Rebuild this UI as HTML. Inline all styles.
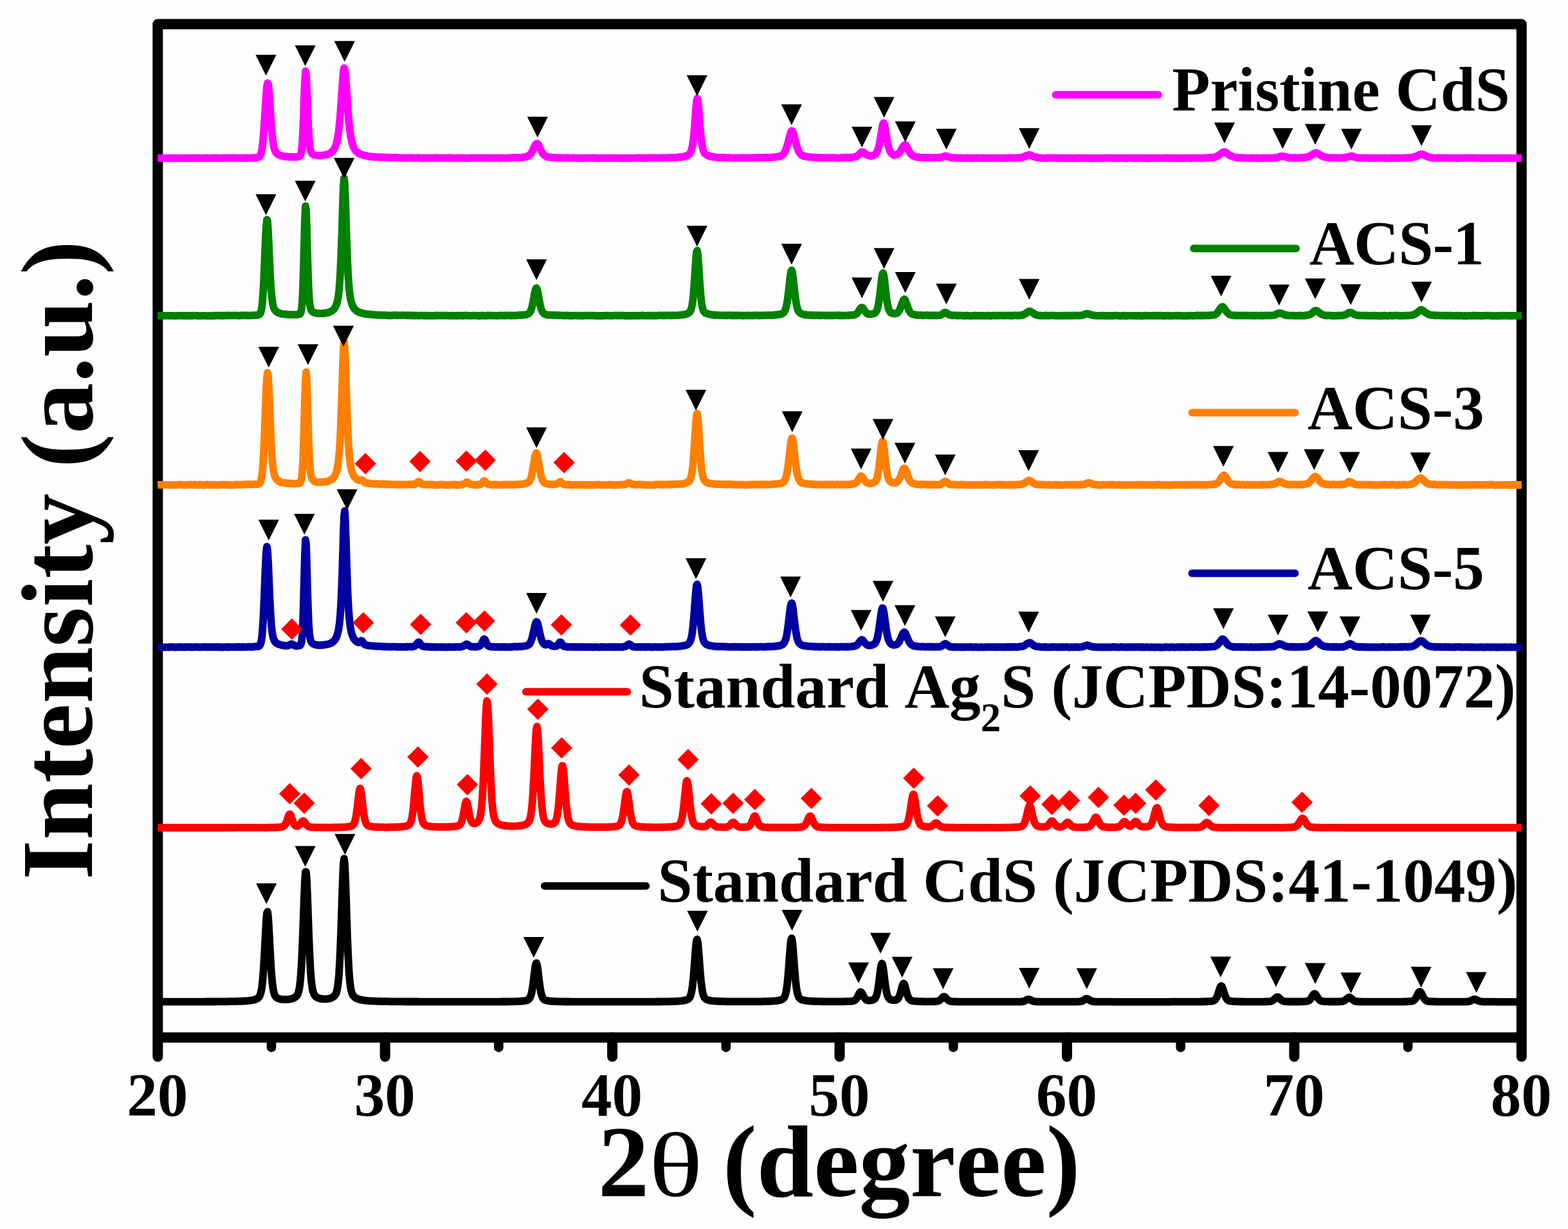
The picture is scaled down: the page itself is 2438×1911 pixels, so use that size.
<!DOCTYPE html>
<html lang="en"><head><meta charset="utf-8"><title>XRD patterns</title>
<style>html,body{margin:0;padding:0;background:#fff;}body{width:2438px;height:1911px;overflow:hidden;}svg{display:block;}text{font-family:"Liberation Serif","DejaVu Serif",serif;font-weight:bold;font-kerning:none;fill:#000;}</style></head><body>
<svg width="2438" height="1911" viewBox="0 0 2438 1911">
<rect x="0" y="0" width="2438" height="1911" fill="#fefefe"/>
<g fill="none" stroke="#000" stroke-width="16.0" stroke-linecap="round" stroke-linejoin="round">
<path d="M245.3,1643.0 L245.3,37.6 L2365.8,37.6 L2365.8,1643.0"/>
<path d="M245.3,1613.3 L2365.8,1613.3" stroke-linecap="butt"/>
<path d="M598.7,1613.3 L598.7,1643.0"/>
<path d="M952.1,1613.3 L952.1,1643.0"/>
<path d="M1305.5,1613.3 L1305.5,1643.0"/>
<path d="M1659.0,1613.3 L1659.0,1643.0"/>
<path d="M2012.4,1613.3 L2012.4,1643.0"/>
</g>
<g fill="none" stroke="#000" stroke-width="14.6" stroke-linecap="round">
<path d="M422.0,1613.3 L422.0,1628.7"/>
<path d="M775.4,1613.3 L775.4,1628.7"/>
<path d="M1128.8,1613.3 L1128.8,1628.7"/>
<path d="M1482.3,1613.3 L1482.3,1628.7"/>
<path d="M1835.7,1613.3 L1835.7,1628.7"/>
<path d="M2189.1,1613.3 L2189.1,1628.7"/>
</g>
<path d="M245,1557.7 L246,1557.7 L247,1557.7 L248,1557.7 L249,1557.7 L250,1557.7 L251,1557.7 L252,1557.7 L253,1557.7 L254,1557.7 L255,1557.7 L256,1557.7 L257,1557.7 L258,1557.7 L259,1557.7 L260,1557.7 L261,1557.7 L262,1557.7 L263,1557.7 L264,1557.7 L265,1557.7 L266,1557.7 L267,1557.7 L268,1557.7 L269,1557.7 L270,1557.7 L271,1557.7 L272,1557.7 L273,1557.7 L274,1557.7 L275,1557.7 L276,1557.7 L277,1557.7 L278,1557.7 L279,1557.7 L280,1557.7 L281,1557.7 L282,1557.6 L283,1557.6 L284,1557.6 L285,1557.6 L286,1557.6 L287,1557.6 L288,1557.6 L289,1557.6 L290,1557.6 L291,1557.6 L292,1557.6 L293,1557.6 L294,1557.6 L295,1557.6 L296,1557.6 L297,1557.6 L298,1557.6 L299,1557.6 L300,1557.6 L301,1557.6 L302,1557.6 L303,1557.6 L304,1557.6 L305,1557.6 L306,1557.6 L307,1557.6 L308,1557.6 L309,1557.6 L310,1557.6 L311,1557.6 L312,1557.6 L313,1557.6 L314,1557.6 L315,1557.6 L316,1557.6 L317,1557.6 L318,1557.6 L319,1557.5 L320,1557.5 L321,1557.5 L322,1557.5 L323,1557.5 L324,1557.5 L325,1557.5 L326,1557.5 L327,1557.5 L328,1557.5 L329,1557.5 L330,1557.5 L331,1557.5 L332,1557.5 L333,1557.5 L334,1557.5 L335,1557.5 L336,1557.5 L337,1557.5 L338,1557.4 L339,1557.4 L340,1557.4 L341,1557.4 L342,1557.4 L343,1557.4 L344,1557.4 L345,1557.4 L346,1557.4 L347,1557.4 L348,1557.4 L349,1557.3 L350,1557.3 L351,1557.3 L352,1557.3 L353,1557.3 L354,1557.3 L355,1557.3 L356,1557.3 L357,1557.2 L358,1557.2 L359,1557.2 L360,1557.2 L361,1557.2 L362,1557.2 L363,1557.1 L364,1557.1 L365,1557.1 L366,1557.1 L367,1557.0 L368,1557.0 L369,1557.0 L370,1557.0 L371,1556.9 L372,1556.9 L373,1556.9 L374,1556.8 L375,1556.8 L376,1556.7 L377,1556.7 L378,1556.7 L379,1556.6 L380,1556.5 L381,1556.5 L382,1556.4 L383,1556.3 L384,1556.3 L385,1556.2 L386,1556.1 L387,1556.0 L388,1555.9 L389,1555.7 L390,1555.6 L391,1555.5 L392,1555.3 L393,1555.1 L394,1554.9 L395,1554.6 L396,1554.3 L397,1554.0 L398,1553.6 L399,1553.2 L400,1552.6 L401,1552.0 L402,1551.1 L403,1549.9 L404,1548.1 L405,1545.6 L406,1541.8 L407,1536.2 L408,1528.2 L409,1517.4 L410,1503.3 L411,1486.3 L412,1467.2 L413,1447.7 L414,1430.7 L415,1419.6 L416,1417.6 L417,1425.3 L418,1440.3 L419,1459.2 L420,1478.7 L421,1496.6 L422,1511.9 L423,1524.0 L424,1533.0 L425,1539.4 L426,1543.8 L427,1546.8 L428,1548.7 L429,1550.1 L430,1551.0 L431,1551.7 L432,1552.2 L433,1552.7 L434,1553.0 L435,1553.3 L436,1553.5 L437,1553.7 L438,1553.9 L439,1554.0 L440,1554.1 L441,1554.2 L442,1554.2 L443,1554.2 L444,1554.2 L445,1554.2 L446,1554.2 L447,1554.1 L448,1554.0 L449,1553.9 L450,1553.7 L451,1553.6 L452,1553.4 L453,1553.1 L454,1552.9 L455,1552.5 L456,1552.2 L457,1551.7 L458,1551.2 L459,1550.5 L460,1549.8 L461,1548.8 L462,1547.4 L463,1545.6 L464,1542.9 L465,1539.0 L466,1533.0 L467,1524.3 L468,1512.0 L469,1495.4 L470,1474.1 L471,1448.7 L472,1420.7 L473,1392.8 L474,1369.4 L475,1355.7 L476,1355.7 L477,1369.4 L478,1392.8 L479,1420.6 L480,1448.7 L481,1474.0 L482,1495.3 L483,1511.9 L484,1524.2 L485,1532.9 L486,1538.8 L487,1542.8 L488,1545.4 L489,1547.2 L490,1548.5 L491,1549.5 L492,1550.3 L493,1550.9 L494,1551.4 L495,1551.8 L496,1552.2 L497,1552.5 L498,1552.7 L499,1552.9 L500,1553.1 L501,1553.2 L502,1553.3 L503,1553.4 L504,1553.4 L505,1553.4 L506,1553.4 L507,1553.4 L508,1553.3 L509,1553.2 L510,1553.0 L511,1552.9 L512,1552.7 L513,1552.4 L514,1552.1 L515,1551.8 L516,1551.3 L517,1550.8 L518,1550.2 L519,1549.5 L520,1548.5 L521,1547.3 L522,1545.6 L523,1543.3 L524,1539.7 L525,1534.4 L526,1526.6 L527,1515.2 L528,1499.5 L529,1478.8 L530,1453.2 L531,1423.7 L532,1392.6 L533,1363.9 L534,1343.0 L535,1335.2 L536,1343.0 L537,1364.0 L538,1392.7 L539,1423.8 L540,1453.4 L541,1479.0 L542,1499.7 L543,1515.5 L544,1526.9 L545,1534.8 L546,1540.2 L547,1543.7 L548,1546.2 L549,1547.9 L550,1549.2 L551,1550.2 L552,1551.0 L553,1551.6 L554,1552.2 L555,1552.7 L556,1553.1 L557,1553.5 L558,1553.8 L559,1554.1 L560,1554.4 L561,1554.6 L562,1554.8 L563,1555.0 L564,1555.2 L565,1555.3 L566,1555.5 L567,1555.6 L568,1555.7 L569,1555.8 L570,1555.9 L571,1556.0 L572,1556.1 L573,1556.2 L574,1556.3 L575,1556.3 L576,1556.4 L577,1556.4 L578,1556.5 L579,1556.6 L580,1556.6 L581,1556.6 L582,1556.7 L583,1556.7 L584,1556.8 L585,1556.8 L586,1556.8 L587,1556.9 L588,1556.9 L589,1556.9 L590,1557.0 L591,1557.0 L592,1557.0 L593,1557.0 L594,1557.0 L595,1557.1 L596,1557.1 L597,1557.1 L598,1557.1 L599,1557.1 L600,1557.2 L601,1557.2 L602,1557.2 L603,1557.2 L604,1557.2 L605,1557.2 L606,1557.3 L607,1557.3 L608,1557.3 L609,1557.3 L610,1557.3 L611,1557.3 L612,1557.3 L613,1557.3 L614,1557.3 L615,1557.4 L616,1557.4 L617,1557.4 L618,1557.4 L619,1557.4 L620,1557.4 L621,1557.4 L622,1557.4 L623,1557.4 L624,1557.4 L625,1557.4 L626,1557.4 L627,1557.4 L628,1557.4 L629,1557.5 L630,1557.5 L631,1557.5 L632,1557.5 L633,1557.5 L634,1557.5 L635,1557.5 L636,1557.5 L637,1557.5 L638,1557.5 L639,1557.5 L640,1557.5 L641,1557.5 L642,1557.5 L643,1557.5 L644,1557.5 L645,1557.5 L646,1557.5 L647,1557.5 L648,1557.5 L649,1557.5 L650,1557.5 L651,1557.6 L652,1557.6 L653,1557.6 L654,1557.6 L655,1557.6 L656,1557.6 L657,1557.6 L658,1557.6 L659,1557.6 L660,1557.6 L661,1557.6 L662,1557.6 L663,1557.6 L664,1557.6 L665,1557.6 L666,1557.6 L667,1557.6 L668,1557.6 L669,1557.6 L670,1557.6 L671,1557.6 L672,1557.6 L673,1557.6 L674,1557.6 L675,1557.6 L676,1557.6 L677,1557.6 L678,1557.6 L679,1557.6 L680,1557.6 L681,1557.6 L682,1557.6 L683,1557.6 L684,1557.6 L685,1557.6 L686,1557.6 L687,1557.6 L688,1557.6 L689,1557.6 L690,1557.6 L691,1557.6 L692,1557.6 L693,1557.6 L694,1557.6 L695,1557.6 L696,1557.6 L697,1557.6 L698,1557.6 L699,1557.6 L700,1557.6 L701,1557.6 L702,1557.6 L703,1557.6 L704,1557.6 L705,1557.6 L706,1557.6 L707,1557.6 L708,1557.6 L709,1557.6 L710,1557.6 L711,1557.6 L712,1557.6 L713,1557.6 L714,1557.6 L715,1557.6 L716,1557.6 L717,1557.6 L718,1557.6 L719,1557.6 L720,1557.6 L721,1557.6 L722,1557.6 L723,1557.6 L724,1557.6 L725,1557.6 L726,1557.6 L727,1557.6 L728,1557.6 L729,1557.6 L730,1557.6 L731,1557.6 L732,1557.6 L733,1557.6 L734,1557.6 L735,1557.6 L736,1557.6 L737,1557.6 L738,1557.6 L739,1557.6 L740,1557.6 L741,1557.6 L742,1557.6 L743,1557.6 L744,1557.6 L745,1557.6 L746,1557.6 L747,1557.6 L748,1557.6 L749,1557.6 L750,1557.6 L751,1557.6 L752,1557.6 L753,1557.6 L754,1557.6 L755,1557.6 L756,1557.6 L757,1557.6 L758,1557.6 L759,1557.6 L760,1557.6 L761,1557.6 L762,1557.6 L763,1557.6 L764,1557.6 L765,1557.6 L766,1557.6 L767,1557.6 L768,1557.6 L769,1557.6 L770,1557.6 L771,1557.6 L772,1557.6 L773,1557.6 L774,1557.6 L775,1557.6 L776,1557.6 L777,1557.6 L778,1557.6 L779,1557.5 L780,1557.5 L781,1557.5 L782,1557.5 L783,1557.5 L784,1557.5 L785,1557.5 L786,1557.5 L787,1557.5 L788,1557.5 L789,1557.5 L790,1557.5 L791,1557.4 L792,1557.4 L793,1557.4 L794,1557.4 L795,1557.4 L796,1557.4 L797,1557.3 L798,1557.3 L799,1557.3 L800,1557.3 L801,1557.3 L802,1557.2 L803,1557.2 L804,1557.1 L805,1557.1 L806,1557.1 L807,1557.0 L808,1557.0 L809,1556.9 L810,1556.8 L811,1556.7 L812,1556.7 L813,1556.6 L814,1556.4 L815,1556.3 L816,1556.2 L817,1556.0 L818,1555.8 L819,1555.5 L820,1555.1 L821,1554.6 L822,1554.0 L823,1552.9 L824,1551.4 L825,1549.2 L826,1546.0 L827,1541.6 L828,1535.8 L829,1528.7 L830,1520.6 L831,1512.2 L832,1504.5 L833,1499.1 L834,1497.4 L835,1499.9 L836,1505.9 L837,1513.8 L838,1522.3 L839,1530.2 L840,1537.1 L841,1542.6 L842,1546.7 L843,1549.7 L844,1551.8 L845,1553.2 L846,1554.1 L847,1554.8 L848,1555.2 L849,1555.5 L850,1555.8 L851,1556.0 L852,1556.2 L853,1556.3 L854,1556.5 L855,1556.6 L856,1556.7 L857,1556.8 L858,1556.9 L859,1556.9 L860,1557.0 L861,1557.0 L862,1557.1 L863,1557.1 L864,1557.2 L865,1557.2 L866,1557.2 L867,1557.3 L868,1557.3 L869,1557.3 L870,1557.3 L871,1557.4 L872,1557.4 L873,1557.4 L874,1557.4 L875,1557.4 L876,1557.5 L877,1557.5 L878,1557.5 L879,1557.5 L880,1557.5 L881,1557.5 L882,1557.5 L883,1557.5 L884,1557.5 L885,1557.5 L886,1557.6 L887,1557.6 L888,1557.6 L889,1557.6 L890,1557.6 L891,1557.6 L892,1557.6 L893,1557.6 L894,1557.6 L895,1557.6 L896,1557.6 L897,1557.6 L898,1557.6 L899,1557.6 L900,1557.6 L901,1557.6 L902,1557.6 L903,1557.6 L904,1557.6 L905,1557.6 L906,1557.6 L907,1557.6 L908,1557.6 L909,1557.7 L910,1557.7 L911,1557.7 L912,1557.7 L913,1557.7 L914,1557.7 L915,1557.7 L916,1557.7 L917,1557.7 L918,1557.7 L919,1557.7 L920,1557.7 L921,1557.7 L922,1557.7 L923,1557.7 L924,1557.7 L925,1557.7 L926,1557.7 L927,1557.7 L928,1557.7 L929,1557.7 L930,1557.7 L931,1557.7 L932,1557.7 L933,1557.7 L934,1557.7 L935,1557.7 L936,1557.7 L937,1557.7 L938,1557.7 L939,1557.7 L940,1557.7 L941,1557.7 L942,1557.7 L943,1557.7 L944,1557.7 L945,1557.7 L946,1557.7 L947,1557.7 L948,1557.7 L949,1557.7 L950,1557.7 L951,1557.7 L952,1557.7 L953,1557.7 L954,1557.7 L955,1557.7 L956,1557.7 L957,1557.7 L958,1557.7 L959,1557.7 L960,1557.7 L961,1557.7 L962,1557.7 L963,1557.7 L964,1557.7 L965,1557.7 L966,1557.7 L967,1557.7 L968,1557.7 L969,1557.7 L970,1557.7 L971,1557.7 L972,1557.7 L973,1557.7 L974,1557.7 L975,1557.7 L976,1557.7 L977,1557.7 L978,1557.7 L979,1557.7 L980,1557.7 L981,1557.7 L982,1557.7 L983,1557.7 L984,1557.7 L985,1557.7 L986,1557.7 L987,1557.7 L988,1557.7 L989,1557.7 L990,1557.7 L991,1557.7 L992,1557.7 L993,1557.7 L994,1557.6 L995,1557.6 L996,1557.6 L997,1557.6 L998,1557.6 L999,1557.6 L1000,1557.6 L1001,1557.6 L1002,1557.6 L1003,1557.6 L1004,1557.6 L1005,1557.6 L1006,1557.6 L1007,1557.6 L1008,1557.6 L1009,1557.6 L1010,1557.6 L1011,1557.6 L1012,1557.6 L1013,1557.6 L1014,1557.6 L1015,1557.6 L1016,1557.6 L1017,1557.6 L1018,1557.6 L1019,1557.6 L1020,1557.5 L1021,1557.5 L1022,1557.5 L1023,1557.5 L1024,1557.5 L1025,1557.5 L1026,1557.5 L1027,1557.5 L1028,1557.5 L1029,1557.5 L1030,1557.5 L1031,1557.4 L1032,1557.4 L1033,1557.4 L1034,1557.4 L1035,1557.4 L1036,1557.4 L1037,1557.4 L1038,1557.3 L1039,1557.3 L1040,1557.3 L1041,1557.3 L1042,1557.3 L1043,1557.2 L1044,1557.2 L1045,1557.2 L1046,1557.1 L1047,1557.1 L1048,1557.1 L1049,1557.0 L1050,1557.0 L1051,1557.0 L1052,1556.9 L1053,1556.8 L1054,1556.8 L1055,1556.7 L1056,1556.6 L1057,1556.6 L1058,1556.5 L1059,1556.4 L1060,1556.3 L1061,1556.1 L1062,1556.0 L1063,1555.8 L1064,1555.6 L1065,1555.4 L1066,1555.2 L1067,1554.9 L1068,1554.5 L1069,1554.0 L1070,1553.5 L1071,1552.6 L1072,1551.5 L1073,1549.8 L1074,1547.3 L1075,1543.5 L1076,1538.2 L1077,1530.8 L1078,1521.3 L1079,1509.7 L1080,1496.5 L1081,1482.9 L1082,1470.8 L1083,1462.6 L1084,1460.5 L1085,1465.2 L1086,1475.3 L1087,1488.3 L1088,1501.9 L1089,1514.5 L1090,1525.4 L1091,1534.0 L1092,1540.5 L1093,1545.2 L1094,1548.4 L1095,1550.6 L1096,1552.0 L1097,1553.0 L1098,1553.7 L1099,1554.2 L1100,1554.6 L1101,1555.0 L1102,1555.2 L1103,1555.5 L1104,1555.7 L1105,1555.9 L1106,1556.0 L1107,1556.2 L1108,1556.3 L1109,1556.4 L1110,1556.5 L1111,1556.6 L1112,1556.6 L1113,1556.7 L1114,1556.8 L1115,1556.8 L1116,1556.9 L1117,1556.9 L1118,1557.0 L1119,1557.0 L1120,1557.0 L1121,1557.1 L1122,1557.1 L1123,1557.1 L1124,1557.2 L1125,1557.2 L1126,1557.2 L1127,1557.2 L1128,1557.2 L1129,1557.3 L1130,1557.3 L1131,1557.3 L1132,1557.3 L1133,1557.3 L1134,1557.3 L1135,1557.3 L1136,1557.4 L1137,1557.4 L1138,1557.4 L1139,1557.4 L1140,1557.4 L1141,1557.4 L1142,1557.4 L1143,1557.4 L1144,1557.4 L1145,1557.4 L1146,1557.4 L1147,1557.4 L1148,1557.4 L1149,1557.4 L1150,1557.4 L1151,1557.4 L1152,1557.4 L1153,1557.4 L1154,1557.4 L1155,1557.4 L1156,1557.4 L1157,1557.4 L1158,1557.4 L1159,1557.4 L1160,1557.4 L1161,1557.4 L1162,1557.4 L1163,1557.4 L1164,1557.4 L1165,1557.4 L1166,1557.4 L1167,1557.4 L1168,1557.4 L1169,1557.4 L1170,1557.4 L1171,1557.4 L1172,1557.4 L1173,1557.4 L1174,1557.4 L1175,1557.4 L1176,1557.4 L1177,1557.4 L1178,1557.4 L1179,1557.3 L1180,1557.3 L1181,1557.3 L1182,1557.3 L1183,1557.3 L1184,1557.3 L1185,1557.3 L1186,1557.2 L1187,1557.2 L1188,1557.2 L1189,1557.2 L1190,1557.2 L1191,1557.1 L1192,1557.1 L1193,1557.1 L1194,1557.0 L1195,1557.0 L1196,1557.0 L1197,1556.9 L1198,1556.9 L1199,1556.8 L1200,1556.8 L1201,1556.7 L1202,1556.7 L1203,1556.6 L1204,1556.5 L1205,1556.4 L1206,1556.3 L1207,1556.2 L1208,1556.1 L1209,1555.9 L1210,1555.7 L1211,1555.5 L1212,1555.3 L1213,1555.1 L1214,1554.8 L1215,1554.4 L1216,1553.9 L1217,1553.3 L1218,1552.5 L1219,1551.4 L1220,1549.6 L1221,1547.1 L1222,1543.3 L1223,1537.8 L1224,1530.4 L1225,1520.7 L1226,1508.9 L1227,1495.4 L1228,1481.6 L1229,1469.3 L1230,1461.0 L1231,1458.9 L1232,1463.7 L1233,1473.9 L1234,1487.1 L1235,1500.9 L1236,1513.8 L1237,1524.8 L1238,1533.6 L1239,1540.2 L1240,1545.0 L1241,1548.2 L1242,1550.4 L1243,1551.9 L1244,1552.9 L1245,1553.6 L1246,1554.1 L1247,1554.6 L1248,1554.9 L1249,1555.2 L1250,1555.4 L1251,1555.6 L1252,1555.8 L1253,1556.0 L1254,1556.1 L1255,1556.2 L1256,1556.3 L1257,1556.4 L1258,1556.5 L1259,1556.6 L1260,1556.7 L1261,1556.7 L1262,1556.8 L1263,1556.8 L1264,1556.9 L1265,1556.9 L1266,1557.0 L1267,1557.0 L1268,1557.0 L1269,1557.1 L1270,1557.1 L1271,1557.1 L1272,1557.2 L1273,1557.2 L1274,1557.2 L1275,1557.2 L1276,1557.2 L1277,1557.2 L1278,1557.3 L1279,1557.3 L1280,1557.3 L1281,1557.3 L1282,1557.3 L1283,1557.3 L1284,1557.3 L1285,1557.3 L1286,1557.3 L1287,1557.4 L1288,1557.4 L1289,1557.4 L1290,1557.4 L1291,1557.4 L1292,1557.4 L1293,1557.4 L1294,1557.4 L1295,1557.4 L1296,1557.4 L1297,1557.4 L1298,1557.4 L1299,1557.4 L1300,1557.4 L1301,1557.4 L1302,1557.4 L1303,1557.4 L1304,1557.4 L1305,1557.4 L1306,1557.3 L1307,1557.3 L1308,1557.3 L1309,1557.3 L1310,1557.3 L1311,1557.3 L1312,1557.3 L1313,1557.3 L1314,1557.2 L1315,1557.2 L1316,1557.2 L1317,1557.2 L1318,1557.1 L1319,1557.1 L1320,1557.1 L1321,1557.0 L1322,1556.9 L1323,1556.9 L1324,1556.8 L1325,1556.7 L1326,1556.5 L1327,1556.3 L1328,1555.9 L1329,1555.4 L1330,1554.7 L1331,1553.7 L1332,1552.4 L1333,1550.7 L1334,1548.8 L1335,1546.7 L1336,1544.7 L1337,1543.1 L1338,1542.4 L1339,1542.7 L1340,1543.9 L1341,1545.7 L1342,1547.7 L1343,1549.7 L1344,1551.4 L1345,1552.8 L1346,1553.9 L1347,1554.6 L1348,1555.1 L1349,1555.4 L1350,1555.6 L1351,1555.6 L1352,1555.6 L1353,1555.6 L1354,1555.5 L1355,1555.3 L1356,1555.1 L1357,1554.8 L1358,1554.4 L1359,1553.9 L1360,1553.1 L1361,1551.8 L1362,1550.0 L1363,1547.2 L1364,1543.4 L1365,1538.3 L1366,1531.8 L1367,1524.2 L1368,1515.9 L1369,1507.9 L1370,1501.5 L1371,1498.2 L1372,1499.0 L1373,1503.7 L1374,1510.9 L1375,1519.2 L1376,1527.3 L1377,1534.5 L1378,1540.4 L1379,1545.0 L1380,1548.3 L1381,1550.7 L1382,1552.2 L1383,1553.3 L1384,1554.0 L1385,1554.4 L1386,1554.7 L1387,1554.9 L1388,1555.1 L1389,1555.2 L1390,1555.2 L1391,1555.2 L1392,1555.1 L1393,1554.9 L1394,1554.5 L1395,1553.9 L1396,1553.0 L1397,1551.6 L1398,1549.7 L1399,1547.2 L1400,1544.0 L1401,1540.3 L1402,1536.4 L1403,1532.8 L1404,1530.2 L1405,1529.2 L1406,1530.3 L1407,1532.9 L1408,1536.6 L1409,1540.5 L1410,1544.3 L1411,1547.5 L1412,1550.1 L1413,1552.1 L1414,1553.6 L1415,1554.6 L1416,1555.3 L1417,1555.7 L1418,1556.1 L1419,1556.3 L1420,1556.5 L1421,1556.6 L1422,1556.7 L1423,1556.8 L1424,1556.9 L1425,1556.9 L1426,1557.0 L1427,1557.0 L1428,1557.1 L1429,1557.1 L1430,1557.2 L1431,1557.2 L1432,1557.2 L1433,1557.2 L1434,1557.3 L1435,1557.3 L1436,1557.3 L1437,1557.3 L1438,1557.3 L1439,1557.3 L1440,1557.4 L1441,1557.4 L1442,1557.4 L1443,1557.4 L1444,1557.4 L1445,1557.4 L1446,1557.4 L1447,1557.4 L1448,1557.4 L1449,1557.4 L1450,1557.3 L1451,1557.3 L1452,1557.3 L1453,1557.3 L1454,1557.2 L1455,1557.2 L1456,1557.1 L1457,1556.9 L1458,1556.7 L1459,1556.4 L1460,1556.0 L1461,1555.4 L1462,1554.6 L1463,1553.7 L1464,1552.6 L1465,1551.5 L1466,1550.5 L1467,1549.8 L1468,1549.7 L1469,1550.1 L1470,1550.9 L1471,1552.0 L1472,1553.1 L1473,1554.1 L1474,1555.0 L1475,1555.7 L1476,1556.3 L1477,1556.6 L1478,1556.9 L1479,1557.1 L1480,1557.2 L1481,1557.3 L1482,1557.4 L1483,1557.4 L1484,1557.4 L1485,1557.5 L1486,1557.5 L1487,1557.5 L1488,1557.5 L1489,1557.5 L1490,1557.6 L1491,1557.6 L1492,1557.6 L1493,1557.6 L1494,1557.6 L1495,1557.6 L1496,1557.6 L1497,1557.6 L1498,1557.6 L1499,1557.6 L1500,1557.6 L1501,1557.7 L1502,1557.7 L1503,1557.7 L1504,1557.7 L1505,1557.7 L1506,1557.7 L1507,1557.7 L1508,1557.7 L1509,1557.7 L1510,1557.7 L1511,1557.7 L1512,1557.7 L1513,1557.7 L1514,1557.7 L1515,1557.7 L1516,1557.7 L1517,1557.7 L1518,1557.7 L1519,1557.7 L1520,1557.7 L1521,1557.7 L1522,1557.7 L1523,1557.7 L1524,1557.7 L1525,1557.7 L1526,1557.7 L1527,1557.7 L1528,1557.7 L1529,1557.7 L1530,1557.7 L1531,1557.7 L1532,1557.7 L1533,1557.7 L1534,1557.7 L1535,1557.7 L1536,1557.7 L1537,1557.7 L1538,1557.7 L1539,1557.7 L1540,1557.7 L1541,1557.7 L1542,1557.7 L1543,1557.7 L1544,1557.7 L1545,1557.7 L1546,1557.7 L1547,1557.7 L1548,1557.7 L1549,1557.7 L1550,1557.7 L1551,1557.7 L1552,1557.7 L1553,1557.7 L1554,1557.7 L1555,1557.7 L1556,1557.7 L1557,1557.7 L1558,1557.7 L1559,1557.7 L1560,1557.7 L1561,1557.7 L1562,1557.7 L1563,1557.7 L1564,1557.7 L1565,1557.7 L1566,1557.7 L1567,1557.7 L1568,1557.7 L1569,1557.7 L1570,1557.7 L1571,1557.7 L1572,1557.7 L1573,1557.7 L1574,1557.7 L1575,1557.7 L1576,1557.7 L1577,1557.7 L1578,1557.7 L1579,1557.7 L1580,1557.7 L1581,1557.7 L1582,1557.6 L1583,1557.6 L1584,1557.6 L1585,1557.6 L1586,1557.6 L1587,1557.5 L1588,1557.5 L1589,1557.4 L1590,1557.3 L1591,1557.1 L1592,1556.8 L1593,1556.5 L1594,1556.0 L1595,1555.5 L1596,1555.0 L1597,1554.4 L1598,1554.0 L1599,1553.8 L1600,1553.8 L1601,1554.1 L1602,1554.6 L1603,1555.2 L1604,1555.7 L1605,1556.2 L1606,1556.6 L1607,1556.9 L1608,1557.2 L1609,1557.3 L1610,1557.4 L1611,1557.5 L1612,1557.6 L1613,1557.6 L1614,1557.6 L1615,1557.6 L1616,1557.6 L1617,1557.7 L1618,1557.7 L1619,1557.7 L1620,1557.7 L1621,1557.7 L1622,1557.7 L1623,1557.7 L1624,1557.7 L1625,1557.7 L1626,1557.7 L1627,1557.7 L1628,1557.7 L1629,1557.7 L1630,1557.7 L1631,1557.7 L1632,1557.7 L1633,1557.7 L1634,1557.7 L1635,1557.7 L1636,1557.7 L1637,1557.7 L1638,1557.7 L1639,1557.7 L1640,1557.7 L1641,1557.7 L1642,1557.7 L1643,1557.7 L1644,1557.7 L1645,1557.7 L1646,1557.7 L1647,1557.7 L1648,1557.7 L1649,1557.7 L1650,1557.7 L1651,1557.7 L1652,1557.7 L1653,1557.7 L1654,1557.7 L1655,1557.7 L1656,1557.7 L1657,1557.7 L1658,1557.7 L1659,1557.7 L1660,1557.7 L1661,1557.7 L1662,1557.7 L1663,1557.7 L1664,1557.7 L1665,1557.7 L1666,1557.7 L1667,1557.7 L1668,1557.7 L1669,1557.7 L1670,1557.7 L1671,1557.7 L1672,1557.6 L1673,1557.6 L1674,1557.6 L1675,1557.6 L1676,1557.6 L1677,1557.5 L1678,1557.4 L1679,1557.4 L1680,1557.2 L1681,1557.0 L1682,1556.7 L1683,1556.4 L1684,1555.9 L1685,1555.2 L1686,1554.6 L1687,1553.9 L1688,1553.3 L1689,1552.9 L1690,1552.8 L1691,1553.1 L1692,1553.6 L1693,1554.3 L1694,1555.0 L1695,1555.6 L1696,1556.2 L1697,1556.6 L1698,1556.9 L1699,1557.2 L1700,1557.3 L1701,1557.4 L1702,1557.5 L1703,1557.5 L1704,1557.6 L1705,1557.6 L1706,1557.6 L1707,1557.6 L1708,1557.7 L1709,1557.7 L1710,1557.7 L1711,1557.7 L1712,1557.7 L1713,1557.7 L1714,1557.7 L1715,1557.7 L1716,1557.7 L1717,1557.7 L1718,1557.7 L1719,1557.7 L1720,1557.7 L1721,1557.7 L1722,1557.7 L1723,1557.7 L1724,1557.7 L1725,1557.7 L1726,1557.7 L1727,1557.7 L1728,1557.7 L1729,1557.7 L1730,1557.8 L1731,1557.8 L1732,1557.8 L1733,1557.8 L1734,1557.8 L1735,1557.8 L1736,1557.8 L1737,1557.8 L1738,1557.8 L1739,1557.8 L1740,1557.8 L1741,1557.8 L1742,1557.8 L1743,1557.8 L1744,1557.8 L1745,1557.8 L1746,1557.8 L1747,1557.8 L1748,1557.8 L1749,1557.8 L1750,1557.8 L1751,1557.8 L1752,1557.8 L1753,1557.8 L1754,1557.8 L1755,1557.8 L1756,1557.8 L1757,1557.8 L1758,1557.8 L1759,1557.8 L1760,1557.8 L1761,1557.8 L1762,1557.8 L1763,1557.8 L1764,1557.8 L1765,1557.8 L1766,1557.8 L1767,1557.8 L1768,1557.8 L1769,1557.8 L1770,1557.8 L1771,1557.8 L1772,1557.8 L1773,1557.8 L1774,1557.8 L1775,1557.8 L1776,1557.8 L1777,1557.8 L1778,1557.8 L1779,1557.8 L1780,1557.8 L1781,1557.8 L1782,1557.8 L1783,1557.8 L1784,1557.8 L1785,1557.8 L1786,1557.8 L1787,1557.8 L1788,1557.8 L1789,1557.8 L1790,1557.8 L1791,1557.8 L1792,1557.8 L1793,1557.8 L1794,1557.8 L1795,1557.8 L1796,1557.8 L1797,1557.8 L1798,1557.8 L1799,1557.8 L1800,1557.8 L1801,1557.8 L1802,1557.8 L1803,1557.8 L1804,1557.8 L1805,1557.8 L1806,1557.8 L1807,1557.8 L1808,1557.8 L1809,1557.8 L1810,1557.8 L1811,1557.8 L1812,1557.8 L1813,1557.8 L1814,1557.8 L1815,1557.8 L1816,1557.8 L1817,1557.8 L1818,1557.8 L1819,1557.8 L1820,1557.7 L1821,1557.7 L1822,1557.7 L1823,1557.7 L1824,1557.7 L1825,1557.7 L1826,1557.7 L1827,1557.7 L1828,1557.7 L1829,1557.7 L1830,1557.7 L1831,1557.7 L1832,1557.7 L1833,1557.7 L1834,1557.7 L1835,1557.7 L1836,1557.7 L1837,1557.7 L1838,1557.7 L1839,1557.7 L1840,1557.7 L1841,1557.7 L1842,1557.7 L1843,1557.7 L1844,1557.7 L1845,1557.7 L1846,1557.7 L1847,1557.7 L1848,1557.7 L1849,1557.7 L1850,1557.7 L1851,1557.7 L1852,1557.7 L1853,1557.7 L1854,1557.7 L1855,1557.7 L1856,1557.7 L1857,1557.6 L1858,1557.6 L1859,1557.6 L1860,1557.6 L1861,1557.6 L1862,1557.6 L1863,1557.6 L1864,1557.6 L1865,1557.6 L1866,1557.6 L1867,1557.5 L1868,1557.5 L1869,1557.5 L1870,1557.5 L1871,1557.5 L1872,1557.5 L1873,1557.4 L1874,1557.4 L1875,1557.4 L1876,1557.3 L1877,1557.3 L1878,1557.2 L1879,1557.2 L1880,1557.1 L1881,1557.1 L1882,1557.0 L1883,1556.9 L1884,1556.8 L1885,1556.6 L1886,1556.3 L1887,1556.0 L1888,1555.5 L1889,1554.8 L1890,1553.8 L1891,1552.3 L1892,1550.4 L1893,1548.0 L1894,1545.1 L1895,1541.9 L1896,1538.6 L1897,1535.7 L1898,1533.7 L1899,1533.1 L1900,1534.0 L1901,1536.3 L1902,1539.3 L1903,1542.6 L1904,1545.7 L1905,1548.5 L1906,1550.8 L1907,1552.6 L1908,1554.0 L1909,1555.0 L1910,1555.6 L1911,1556.1 L1912,1556.4 L1913,1556.6 L1914,1556.8 L1915,1556.9 L1916,1557.0 L1917,1557.1 L1918,1557.1 L1919,1557.2 L1920,1557.2 L1921,1557.3 L1922,1557.3 L1923,1557.4 L1924,1557.4 L1925,1557.4 L1926,1557.4 L1927,1557.5 L1928,1557.5 L1929,1557.5 L1930,1557.5 L1931,1557.5 L1932,1557.5 L1933,1557.5 L1934,1557.6 L1935,1557.6 L1936,1557.6 L1937,1557.6 L1938,1557.6 L1939,1557.6 L1940,1557.6 L1941,1557.6 L1942,1557.6 L1943,1557.6 L1944,1557.6 L1945,1557.6 L1946,1557.6 L1947,1557.6 L1948,1557.6 L1949,1557.6 L1950,1557.6 L1951,1557.6 L1952,1557.6 L1953,1557.6 L1954,1557.6 L1955,1557.6 L1956,1557.6 L1957,1557.6 L1958,1557.6 L1959,1557.6 L1960,1557.6 L1961,1557.6 L1962,1557.6 L1963,1557.6 L1964,1557.6 L1965,1557.6 L1966,1557.5 L1967,1557.5 L1968,1557.5 L1969,1557.5 L1970,1557.5 L1971,1557.4 L1972,1557.4 L1973,1557.3 L1974,1557.2 L1975,1557.1 L1976,1556.9 L1977,1556.6 L1978,1556.2 L1979,1555.7 L1980,1555.0 L1981,1554.2 L1982,1553.2 L1983,1552.2 L1984,1551.3 L1985,1550.6 L1986,1550.2 L1987,1550.4 L1988,1551.0 L1989,1551.8 L1990,1552.8 L1991,1553.8 L1992,1554.7 L1993,1555.4 L1994,1556.0 L1995,1556.5 L1996,1556.8 L1997,1557.0 L1998,1557.2 L1999,1557.3 L2000,1557.3 L2001,1557.4 L2002,1557.4 L2003,1557.4 L2004,1557.5 L2005,1557.5 L2006,1557.5 L2007,1557.5 L2008,1557.5 L2009,1557.5 L2010,1557.5 L2011,1557.5 L2012,1557.5 L2013,1557.5 L2014,1557.5 L2015,1557.5 L2016,1557.5 L2017,1557.5 L2018,1557.5 L2019,1557.5 L2020,1557.5 L2021,1557.5 L2022,1557.5 L2023,1557.4 L2024,1557.4 L2025,1557.4 L2026,1557.4 L2027,1557.3 L2028,1557.3 L2029,1557.2 L2030,1557.1 L2031,1557.0 L2032,1556.9 L2033,1556.6 L2034,1556.3 L2035,1555.8 L2036,1555.1 L2037,1554.1 L2038,1552.9 L2039,1551.5 L2040,1549.9 L2041,1548.2 L2042,1546.7 L2043,1545.6 L2044,1545.2 L2045,1545.6 L2046,1546.7 L2047,1548.2 L2048,1549.9 L2049,1551.5 L2050,1552.9 L2051,1554.1 L2052,1555.1 L2053,1555.8 L2054,1556.3 L2055,1556.6 L2056,1556.8 L2057,1557.0 L2058,1557.1 L2059,1557.2 L2060,1557.3 L2061,1557.3 L2062,1557.4 L2063,1557.4 L2064,1557.4 L2065,1557.4 L2066,1557.5 L2067,1557.5 L2068,1557.5 L2069,1557.5 L2070,1557.5 L2071,1557.5 L2072,1557.5 L2073,1557.5 L2074,1557.5 L2075,1557.5 L2076,1557.5 L2077,1557.5 L2078,1557.5 L2079,1557.5 L2080,1557.5 L2081,1557.5 L2082,1557.4 L2083,1557.4 L2084,1557.4 L2085,1557.3 L2086,1557.2 L2087,1557.1 L2088,1556.9 L2089,1556.6 L2090,1556.2 L2091,1555.6 L2092,1554.9 L2093,1554.1 L2094,1553.2 L2095,1552.3 L2096,1551.5 L2097,1550.9 L2098,1550.7 L2099,1551.0 L2100,1551.6 L2101,1552.5 L2102,1553.4 L2103,1554.3 L2104,1555.1 L2105,1555.8 L2106,1556.3 L2107,1556.7 L2108,1556.9 L2109,1557.1 L2110,1557.3 L2111,1557.4 L2112,1557.4 L2113,1557.5 L2114,1557.5 L2115,1557.5 L2116,1557.5 L2117,1557.6 L2118,1557.6 L2119,1557.6 L2120,1557.6 L2121,1557.6 L2122,1557.6 L2123,1557.6 L2124,1557.6 L2125,1557.7 L2126,1557.7 L2127,1557.7 L2128,1557.7 L2129,1557.7 L2130,1557.7 L2131,1557.7 L2132,1557.7 L2133,1557.7 L2134,1557.7 L2135,1557.7 L2136,1557.7 L2137,1557.7 L2138,1557.7 L2139,1557.7 L2140,1557.7 L2141,1557.7 L2142,1557.7 L2143,1557.7 L2144,1557.7 L2145,1557.7 L2146,1557.7 L2147,1557.7 L2148,1557.7 L2149,1557.7 L2150,1557.7 L2151,1557.7 L2152,1557.7 L2153,1557.7 L2154,1557.7 L2155,1557.7 L2156,1557.7 L2157,1557.7 L2158,1557.7 L2159,1557.7 L2160,1557.7 L2161,1557.7 L2162,1557.7 L2163,1557.7 L2164,1557.7 L2165,1557.7 L2166,1557.7 L2167,1557.7 L2168,1557.7 L2169,1557.7 L2170,1557.7 L2171,1557.7 L2172,1557.6 L2173,1557.6 L2174,1557.6 L2175,1557.6 L2176,1557.6 L2177,1557.6 L2178,1557.6 L2179,1557.6 L2180,1557.6 L2181,1557.6 L2182,1557.5 L2183,1557.5 L2184,1557.5 L2185,1557.5 L2186,1557.5 L2187,1557.4 L2188,1557.4 L2189,1557.3 L2190,1557.3 L2191,1557.2 L2192,1557.2 L2193,1557.1 L2194,1557.0 L2195,1556.8 L2196,1556.5 L2197,1556.2 L2198,1555.7 L2199,1554.9 L2200,1553.9 L2201,1552.6 L2202,1550.9 L2203,1549.0 L2204,1546.9 L2205,1544.8 L2206,1543.0 L2207,1542.0 L2208,1541.9 L2209,1542.8 L2210,1544.4 L2211,1546.4 L2212,1548.6 L2213,1550.5 L2214,1552.3 L2215,1553.7 L2216,1554.7 L2217,1555.5 L2218,1556.1 L2219,1556.5 L2220,1556.7 L2221,1556.9 L2222,1557.1 L2223,1557.2 L2224,1557.2 L2225,1557.3 L2226,1557.3 L2227,1557.4 L2228,1557.4 L2229,1557.4 L2230,1557.5 L2231,1557.5 L2232,1557.5 L2233,1557.5 L2234,1557.6 L2235,1557.6 L2236,1557.6 L2237,1557.6 L2238,1557.6 L2239,1557.6 L2240,1557.6 L2241,1557.6 L2242,1557.6 L2243,1557.6 L2244,1557.7 L2245,1557.7 L2246,1557.7 L2247,1557.7 L2248,1557.7 L2249,1557.7 L2250,1557.7 L2251,1557.7 L2252,1557.7 L2253,1557.7 L2254,1557.7 L2255,1557.7 L2256,1557.7 L2257,1557.7 L2258,1557.7 L2259,1557.7 L2260,1557.7 L2261,1557.7 L2262,1557.7 L2263,1557.7 L2264,1557.7 L2265,1557.7 L2266,1557.7 L2267,1557.7 L2268,1557.7 L2269,1557.7 L2270,1557.7 L2271,1557.7 L2272,1557.7 L2273,1557.7 L2274,1557.7 L2275,1557.6 L2276,1557.6 L2277,1557.6 L2278,1557.6 L2279,1557.6 L2280,1557.5 L2281,1557.5 L2282,1557.4 L2283,1557.3 L2284,1557.1 L2285,1556.9 L2286,1556.5 L2287,1556.1 L2288,1555.7 L2289,1555.1 L2290,1554.6 L2291,1554.2 L2292,1553.9 L2293,1553.8 L2294,1554.0 L2295,1554.3 L2296,1554.8 L2297,1555.4 L2298,1555.9 L2299,1556.3 L2300,1556.7 L2301,1557.0 L2302,1557.2 L2303,1557.3 L2304,1557.4 L2305,1557.5 L2306,1557.6 L2307,1557.6 L2308,1557.6 L2309,1557.6 L2310,1557.7 L2311,1557.7 L2312,1557.7 L2313,1557.7 L2314,1557.7 L2315,1557.7 L2316,1557.7 L2317,1557.7 L2318,1557.7 L2319,1557.7 L2320,1557.7 L2321,1557.7 L2322,1557.7 L2323,1557.7 L2324,1557.7 L2325,1557.7 L2326,1557.7 L2327,1557.8 L2328,1557.8 L2329,1557.8 L2330,1557.8 L2331,1557.8 L2332,1557.8 L2333,1557.8 L2334,1557.8 L2335,1557.8 L2336,1557.8 L2337,1557.8 L2338,1557.8 L2339,1557.8 L2340,1557.8 L2341,1557.8 L2342,1557.8 L2343,1557.8 L2344,1557.8 L2345,1557.8 L2346,1557.8 L2347,1557.8 L2348,1557.8 L2349,1557.8 L2350,1557.8 L2351,1557.8 L2352,1557.8 L2353,1557.8 L2354,1557.8 L2355,1557.8 L2356,1557.8 L2357,1557.8 L2358,1557.8 L2359,1557.8 L2360,1557.8 L2361,1557.8 L2362,1557.8 L2363,1557.8 L2364,1557.8 L2365,1557.8 L2366,1557.8" fill="none" stroke="#000000" stroke-width="11.8" stroke-linejoin="round" stroke-linecap="butt"/>
<path d="M245,1287.0 L246,1287.0 L247,1287.0 L248,1287.0 L249,1287.0 L250,1287.0 L251,1287.0 L252,1287.0 L253,1287.0 L254,1287.0 L255,1287.0 L256,1287.0 L257,1287.0 L258,1287.0 L259,1287.0 L260,1287.0 L261,1287.0 L262,1287.0 L263,1287.0 L264,1287.0 L265,1287.0 L266,1287.0 L267,1287.0 L268,1287.0 L269,1287.0 L270,1287.0 L271,1287.0 L272,1287.0 L273,1287.0 L274,1287.0 L275,1287.0 L276,1287.0 L277,1287.0 L278,1287.0 L279,1287.0 L280,1287.0 L281,1287.0 L282,1287.0 L283,1287.0 L284,1287.0 L285,1287.0 L286,1287.0 L287,1287.0 L288,1287.0 L289,1287.0 L290,1287.0 L291,1287.0 L292,1287.0 L293,1287.0 L294,1287.0 L295,1287.0 L296,1287.0 L297,1287.0 L298,1287.0 L299,1287.0 L300,1287.0 L301,1287.0 L302,1287.0 L303,1287.0 L304,1287.0 L305,1287.0 L306,1287.0 L307,1287.0 L308,1287.0 L309,1287.0 L310,1287.0 L311,1287.0 L312,1287.0 L313,1287.0 L314,1287.0 L315,1287.0 L316,1287.0 L317,1287.0 L318,1287.0 L319,1287.0 L320,1287.0 L321,1287.0 L322,1287.0 L323,1287.0 L324,1287.0 L325,1287.0 L326,1287.0 L327,1287.0 L328,1287.0 L329,1287.0 L330,1287.0 L331,1287.0 L332,1287.0 L333,1287.0 L334,1287.0 L335,1287.0 L336,1287.0 L337,1287.0 L338,1287.0 L339,1287.0 L340,1287.0 L341,1287.0 L342,1287.0 L343,1287.0 L344,1287.0 L345,1287.0 L346,1287.0 L347,1287.0 L348,1287.0 L349,1287.0 L350,1287.0 L351,1287.0 L352,1287.0 L353,1287.0 L354,1287.0 L355,1287.0 L356,1287.0 L357,1287.0 L358,1287.0 L359,1287.0 L360,1287.0 L361,1287.0 L362,1287.0 L363,1287.0 L364,1286.9 L365,1286.9 L366,1286.9 L367,1286.9 L368,1286.9 L369,1286.9 L370,1286.9 L371,1286.9 L372,1286.9 L373,1286.9 L374,1286.9 L375,1286.9 L376,1286.9 L377,1286.9 L378,1286.9 L379,1286.9 L380,1286.9 L381,1286.9 L382,1286.9 L383,1286.9 L384,1286.9 L385,1286.9 L386,1286.9 L387,1286.9 L388,1286.9 L389,1286.9 L390,1286.9 L391,1286.9 L392,1286.9 L393,1286.9 L394,1286.9 L395,1286.9 L396,1286.9 L397,1286.9 L398,1286.9 L399,1286.9 L400,1286.9 L401,1286.9 L402,1286.9 L403,1286.9 L404,1286.9 L405,1286.9 L406,1286.8 L407,1286.8 L408,1286.8 L409,1286.8 L410,1286.8 L411,1286.8 L412,1286.8 L413,1286.8 L414,1286.8 L415,1286.8 L416,1286.8 L417,1286.8 L418,1286.8 L419,1286.7 L420,1286.7 L421,1286.7 L422,1286.7 L423,1286.7 L424,1286.7 L425,1286.6 L426,1286.6 L427,1286.6 L428,1286.6 L429,1286.5 L430,1286.5 L431,1286.5 L432,1286.4 L433,1286.4 L434,1286.3 L435,1286.2 L436,1286.1 L437,1286.0 L438,1285.8 L439,1285.6 L440,1285.3 L441,1284.7 L442,1283.9 L443,1282.8 L444,1281.1 L445,1279.0 L446,1276.3 L447,1273.3 L448,1270.2 L449,1267.5 L450,1266.0 L451,1265.9 L452,1267.5 L453,1270.1 L454,1273.1 L455,1276.1 L456,1278.7 L457,1280.8 L458,1282.4 L459,1283.5 L460,1284.2 L461,1284.5 L462,1284.6 L463,1284.4 L464,1284.0 L465,1283.2 L466,1282.3 L467,1281.0 L468,1279.6 L469,1278.2 L470,1277.1 L471,1276.5 L472,1276.7 L473,1277.6 L474,1279.0 L475,1280.5 L476,1281.9 L477,1283.1 L478,1284.1 L479,1284.9 L480,1285.4 L481,1285.7 L482,1286.0 L483,1286.1 L484,1286.2 L485,1286.3 L486,1286.4 L487,1286.4 L488,1286.4 L489,1286.5 L490,1286.5 L491,1286.5 L492,1286.5 L493,1286.6 L494,1286.6 L495,1286.6 L496,1286.6 L497,1286.6 L498,1286.6 L499,1286.6 L500,1286.6 L501,1286.6 L502,1286.6 L503,1286.6 L504,1286.6 L505,1286.6 L506,1286.6 L507,1286.6 L508,1286.6 L509,1286.6 L510,1286.6 L511,1286.6 L512,1286.6 L513,1286.6 L514,1286.6 L515,1286.6 L516,1286.6 L517,1286.6 L518,1286.5 L519,1286.5 L520,1286.5 L521,1286.5 L522,1286.5 L523,1286.5 L524,1286.5 L525,1286.4 L526,1286.4 L527,1286.4 L528,1286.4 L529,1286.3 L530,1286.3 L531,1286.3 L532,1286.2 L533,1286.2 L534,1286.1 L535,1286.1 L536,1286.0 L537,1285.9 L538,1285.8 L539,1285.8 L540,1285.6 L541,1285.5 L542,1285.4 L543,1285.2 L544,1285.0 L545,1284.8 L546,1284.5 L547,1284.1 L548,1283.5 L549,1282.6 L550,1281.4 L551,1279.4 L552,1276.5 L553,1272.4 L554,1266.7 L555,1259.6 L556,1251.1 L557,1242.1 L558,1233.8 L559,1227.7 L560,1225.8 L561,1228.7 L562,1235.3 L563,1243.9 L564,1252.9 L565,1261.1 L566,1268.0 L567,1273.3 L568,1277.2 L569,1279.8 L570,1281.6 L571,1282.8 L572,1283.6 L573,1284.1 L574,1284.5 L575,1284.8 L576,1285.0 L577,1285.2 L578,1285.3 L579,1285.5 L580,1285.6 L581,1285.7 L582,1285.8 L583,1285.8 L584,1285.9 L585,1286.0 L586,1286.0 L587,1286.0 L588,1286.1 L589,1286.1 L590,1286.1 L591,1286.2 L592,1286.2 L593,1286.2 L594,1286.2 L595,1286.2 L596,1286.2 L597,1286.3 L598,1286.3 L599,1286.3 L600,1286.3 L601,1286.3 L602,1286.3 L603,1286.3 L604,1286.3 L605,1286.3 L606,1286.3 L607,1286.2 L608,1286.2 L609,1286.2 L610,1286.2 L611,1286.2 L612,1286.2 L613,1286.1 L614,1286.1 L615,1286.1 L616,1286.1 L617,1286.0 L618,1286.0 L619,1285.9 L620,1285.9 L621,1285.8 L622,1285.8 L623,1285.7 L624,1285.6 L625,1285.5 L626,1285.4 L627,1285.3 L628,1285.2 L629,1285.0 L630,1284.8 L631,1284.6 L632,1284.4 L633,1284.0 L634,1283.7 L635,1283.2 L636,1282.5 L637,1281.4 L638,1279.9 L639,1277.5 L640,1274.0 L641,1268.8 L642,1261.8 L643,1252.7 L644,1241.9 L645,1230.0 L646,1218.6 L647,1209.8 L648,1206.1 L649,1208.6 L650,1216.6 L651,1227.6 L652,1239.5 L653,1250.6 L654,1260.1 L655,1267.5 L656,1273.0 L657,1276.9 L658,1279.4 L659,1281.1 L660,1282.2 L661,1282.9 L662,1283.5 L663,1283.9 L664,1284.2 L665,1284.4 L666,1284.7 L667,1284.8 L668,1285.0 L669,1285.1 L670,1285.2 L671,1285.3 L672,1285.4 L673,1285.5 L674,1285.6 L675,1285.6 L676,1285.7 L677,1285.7 L678,1285.7 L679,1285.8 L680,1285.8 L681,1285.8 L682,1285.8 L683,1285.8 L684,1285.9 L685,1285.9 L686,1285.9 L687,1285.9 L688,1285.9 L689,1285.9 L690,1285.9 L691,1285.8 L692,1285.8 L693,1285.8 L694,1285.8 L695,1285.8 L696,1285.7 L697,1285.7 L698,1285.7 L699,1285.6 L700,1285.6 L701,1285.5 L702,1285.5 L703,1285.4 L704,1285.3 L705,1285.3 L706,1285.2 L707,1285.1 L708,1284.9 L709,1284.8 L710,1284.6 L711,1284.4 L712,1284.1 L713,1283.7 L714,1283.2 L715,1282.4 L716,1281.2 L717,1279.5 L718,1276.9 L719,1273.5 L720,1269.0 L721,1263.7 L722,1257.9 L723,1252.3 L724,1248.0 L725,1246.0 L726,1247.2 L727,1250.9 L728,1256.1 L729,1261.7 L730,1267.0 L731,1271.4 L732,1274.8 L733,1277.2 L734,1278.8 L735,1279.8 L736,1280.3 L737,1280.5 L738,1280.4 L739,1280.2 L740,1279.8 L741,1279.3 L742,1278.6 L743,1277.7 L744,1276.4 L745,1274.6 L746,1271.8 L747,1267.7 L748,1261.5 L749,1252.4 L750,1239.7 L751,1222.7 L752,1201.2 L753,1176.0 L754,1148.5 L755,1122.0 L756,1100.8 L757,1090.0 L758,1092.8 L759,1108.3 L760,1132.3 L761,1159.7 L762,1186.6 L763,1210.5 L764,1230.2 L765,1245.5 L766,1256.7 L767,1264.6 L768,1269.9 L769,1273.4 L770,1275.8 L771,1277.5 L772,1278.7 L773,1279.7 L774,1280.4 L775,1281.0 L776,1281.5 L777,1282.0 L778,1282.3 L779,1282.7 L780,1283.0 L781,1283.2 L782,1283.4 L783,1283.6 L784,1283.8 L785,1283.9 L786,1284.0 L787,1284.2 L788,1284.3 L789,1284.3 L790,1284.4 L791,1284.5 L792,1284.5 L793,1284.6 L794,1284.6 L795,1284.6 L796,1284.6 L797,1284.6 L798,1284.6 L799,1284.6 L800,1284.6 L801,1284.6 L802,1284.6 L803,1284.5 L804,1284.4 L805,1284.4 L806,1284.3 L807,1284.2 L808,1284.1 L809,1284.0 L810,1283.8 L811,1283.7 L812,1283.5 L813,1283.3 L814,1283.0 L815,1282.7 L816,1282.4 L817,1282.0 L818,1281.5 L819,1280.9 L820,1280.2 L821,1279.3 L822,1278.0 L823,1276.1 L824,1273.4 L825,1269.3 L826,1263.3 L827,1254.7 L828,1242.9 L829,1227.6 L830,1208.9 L831,1187.6 L832,1165.8 L833,1146.3 L834,1133.0 L835,1129.7 L836,1137.3 L837,1153.5 L838,1174.3 L839,1196.2 L840,1216.5 L841,1233.9 L842,1247.8 L843,1258.2 L844,1265.6 L845,1270.7 L846,1274.1 L847,1276.4 L848,1277.9 L849,1278.9 L850,1279.7 L851,1280.2 L852,1280.6 L853,1280.9 L854,1281.1 L855,1281.3 L856,1281.4 L857,1281.3 L858,1281.3 L859,1281.1 L860,1280.8 L861,1280.3 L862,1279.6 L863,1278.4 L864,1276.7 L865,1274.0 L866,1269.9 L867,1264.2 L868,1256.4 L869,1246.4 L870,1234.5 L871,1221.3 L872,1208.2 L873,1197.1 L874,1190.7 L875,1190.8 L876,1197.3 L877,1208.4 L878,1221.6 L879,1234.9 L880,1246.9 L881,1257.0 L882,1264.9 L883,1270.8 L884,1274.9 L885,1277.7 L886,1279.7 L887,1280.9 L888,1281.8 L889,1282.5 L890,1283.0 L891,1283.4 L892,1283.7 L893,1284.0 L894,1284.2 L895,1284.4 L896,1284.6 L897,1284.8 L898,1284.9 L899,1285.0 L900,1285.1 L901,1285.3 L902,1285.3 L903,1285.4 L904,1285.5 L905,1285.6 L906,1285.6 L907,1285.7 L908,1285.7 L909,1285.8 L910,1285.8 L911,1285.9 L912,1285.9 L913,1285.9 L914,1286.0 L915,1286.0 L916,1286.0 L917,1286.0 L918,1286.1 L919,1286.1 L920,1286.1 L921,1286.1 L922,1286.1 L923,1286.1 L924,1286.2 L925,1286.2 L926,1286.2 L927,1286.2 L928,1286.2 L929,1286.2 L930,1286.2 L931,1286.2 L932,1286.2 L933,1286.2 L934,1286.2 L935,1286.2 L936,1286.2 L937,1286.2 L938,1286.2 L939,1286.2 L940,1286.1 L941,1286.1 L942,1286.1 L943,1286.1 L944,1286.1 L945,1286.0 L946,1286.0 L947,1286.0 L948,1285.9 L949,1285.9 L950,1285.8 L951,1285.8 L952,1285.7 L953,1285.6 L954,1285.5 L955,1285.4 L956,1285.3 L957,1285.2 L958,1285.0 L959,1284.8 L960,1284.5 L961,1284.2 L962,1283.7 L963,1283.0 L964,1282.0 L965,1280.5 L966,1278.3 L967,1275.1 L968,1270.7 L969,1265.1 L970,1258.3 L971,1250.7 L972,1242.9 L973,1236.1 L974,1231.7 L975,1230.9 L976,1234.0 L977,1240.0 L978,1247.6 L979,1255.4 L980,1262.6 L981,1268.7 L982,1273.5 L983,1277.1 L984,1279.7 L985,1281.5 L986,1282.7 L987,1283.5 L988,1284.0 L989,1284.4 L990,1284.7 L991,1284.9 L992,1285.1 L993,1285.3 L994,1285.4 L995,1285.5 L996,1285.6 L997,1285.7 L998,1285.8 L999,1285.9 L1000,1285.9 L1001,1286.0 L1002,1286.0 L1003,1286.1 L1004,1286.1 L1005,1286.1 L1006,1286.2 L1007,1286.2 L1008,1286.2 L1009,1286.2 L1010,1286.3 L1011,1286.3 L1012,1286.3 L1013,1286.3 L1014,1286.3 L1015,1286.3 L1016,1286.3 L1017,1286.3 L1018,1286.3 L1019,1286.3 L1020,1286.3 L1021,1286.3 L1022,1286.3 L1023,1286.3 L1024,1286.3 L1025,1286.3 L1026,1286.3 L1027,1286.3 L1028,1286.3 L1029,1286.3 L1030,1286.3 L1031,1286.2 L1032,1286.2 L1033,1286.2 L1034,1286.2 L1035,1286.1 L1036,1286.1 L1037,1286.1 L1038,1286.0 L1039,1286.0 L1040,1285.9 L1041,1285.9 L1042,1285.8 L1043,1285.8 L1044,1285.7 L1045,1285.6 L1046,1285.5 L1047,1285.4 L1048,1285.2 L1049,1285.1 L1050,1284.9 L1051,1284.7 L1052,1284.5 L1053,1284.2 L1054,1283.8 L1055,1283.2 L1056,1282.5 L1057,1281.4 L1058,1279.8 L1059,1277.4 L1060,1273.9 L1061,1269.0 L1062,1262.5 L1063,1254.4 L1064,1244.9 L1065,1234.7 L1066,1225.0 L1067,1217.4 L1068,1213.9 L1069,1215.4 L1070,1221.6 L1071,1230.7 L1072,1240.9 L1073,1250.8 L1074,1259.5 L1075,1266.6 L1076,1272.1 L1077,1276.1 L1078,1278.9 L1079,1280.8 L1080,1282.1 L1081,1282.9 L1082,1283.5 L1083,1283.9 L1084,1284.3 L1085,1284.5 L1086,1284.7 L1087,1284.9 L1088,1285.1 L1089,1285.2 L1090,1285.3 L1091,1285.3 L1092,1285.4 L1093,1285.4 L1094,1285.4 L1095,1285.3 L1096,1285.1 L1097,1284.8 L1098,1284.4 L1099,1283.8 L1100,1282.9 L1101,1281.9 L1102,1280.8 L1103,1279.6 L1104,1278.8 L1105,1278.4 L1106,1278.6 L1107,1279.3 L1108,1280.4 L1109,1281.6 L1110,1282.8 L1111,1283.7 L1112,1284.5 L1113,1285.1 L1114,1285.5 L1115,1285.7 L1116,1285.9 L1117,1286.0 L1118,1286.1 L1119,1286.2 L1120,1286.2 L1121,1286.2 L1122,1286.2 L1123,1286.2 L1124,1286.2 L1125,1286.2 L1126,1286.2 L1127,1286.2 L1128,1286.1 L1129,1286.0 L1130,1285.9 L1131,1285.6 L1132,1285.2 L1133,1284.7 L1134,1284.0 L1135,1283.0 L1136,1281.9 L1137,1280.8 L1138,1279.7 L1139,1278.9 L1140,1278.6 L1141,1279.0 L1142,1279.9 L1143,1281.0 L1144,1282.2 L1145,1283.2 L1146,1284.1 L1147,1284.8 L1148,1285.3 L1149,1285.7 L1150,1285.9 L1151,1286.0 L1152,1286.1 L1153,1286.1 L1154,1286.2 L1155,1286.2 L1156,1286.2 L1157,1286.1 L1158,1286.1 L1159,1286.0 L1160,1286.0 L1161,1285.8 L1162,1285.7 L1163,1285.4 L1164,1285.0 L1165,1284.3 L1166,1283.4 L1167,1282.0 L1168,1280.3 L1169,1278.0 L1170,1275.5 L1171,1272.8 L1172,1270.5 L1173,1269.1 L1174,1268.9 L1175,1270.1 L1176,1272.3 L1177,1275.0 L1178,1277.6 L1179,1279.9 L1180,1281.8 L1181,1283.2 L1182,1284.3 L1183,1285.0 L1184,1285.4 L1185,1285.7 L1186,1285.9 L1187,1286.1 L1188,1286.2 L1189,1286.3 L1190,1286.3 L1191,1286.4 L1192,1286.4 L1193,1286.5 L1194,1286.5 L1195,1286.5 L1196,1286.6 L1197,1286.6 L1198,1286.6 L1199,1286.6 L1200,1286.6 L1201,1286.7 L1202,1286.7 L1203,1286.7 L1204,1286.7 L1205,1286.7 L1206,1286.7 L1207,1286.7 L1208,1286.7 L1209,1286.7 L1210,1286.7 L1211,1286.7 L1212,1286.7 L1213,1286.7 L1214,1286.7 L1215,1286.7 L1216,1286.7 L1217,1286.7 L1218,1286.7 L1219,1286.7 L1220,1286.7 L1221,1286.7 L1222,1286.7 L1223,1286.7 L1224,1286.7 L1225,1286.7 L1226,1286.7 L1227,1286.7 L1228,1286.7 L1229,1286.7 L1230,1286.7 L1231,1286.7 L1232,1286.7 L1233,1286.6 L1234,1286.6 L1235,1286.6 L1236,1286.6 L1237,1286.6 L1238,1286.5 L1239,1286.5 L1240,1286.5 L1241,1286.4 L1242,1286.4 L1243,1286.3 L1244,1286.2 L1245,1286.1 L1246,1286.0 L1247,1285.8 L1248,1285.5 L1249,1285.1 L1250,1284.5 L1251,1283.7 L1252,1282.6 L1253,1281.1 L1254,1279.2 L1255,1277.0 L1256,1274.6 L1257,1272.3 L1258,1270.3 L1259,1269.1 L1260,1269.0 L1261,1270.0 L1262,1271.9 L1263,1274.2 L1264,1276.6 L1265,1278.8 L1266,1280.7 L1267,1282.3 L1268,1283.5 L1269,1284.4 L1270,1285.0 L1271,1285.5 L1272,1285.8 L1273,1286.0 L1274,1286.1 L1275,1286.2 L1276,1286.3 L1277,1286.4 L1278,1286.4 L1279,1286.5 L1280,1286.5 L1281,1286.6 L1282,1286.6 L1283,1286.6 L1284,1286.6 L1285,1286.7 L1286,1286.7 L1287,1286.7 L1288,1286.7 L1289,1286.7 L1290,1286.7 L1291,1286.8 L1292,1286.8 L1293,1286.8 L1294,1286.8 L1295,1286.8 L1296,1286.8 L1297,1286.8 L1298,1286.8 L1299,1286.8 L1300,1286.8 L1301,1286.8 L1302,1286.8 L1303,1286.8 L1304,1286.8 L1305,1286.8 L1306,1286.8 L1307,1286.8 L1308,1286.8 L1309,1286.8 L1310,1286.9 L1311,1286.9 L1312,1286.9 L1313,1286.9 L1314,1286.9 L1315,1286.9 L1316,1286.9 L1317,1286.9 L1318,1286.9 L1319,1286.9 L1320,1286.9 L1321,1286.9 L1322,1286.9 L1323,1286.9 L1324,1286.9 L1325,1286.9 L1326,1286.9 L1327,1286.9 L1328,1286.9 L1329,1286.9 L1330,1286.9 L1331,1286.9 L1332,1286.9 L1333,1286.9 L1334,1286.9 L1335,1286.9 L1336,1286.9 L1337,1286.9 L1338,1286.9 L1339,1286.9 L1340,1286.9 L1341,1286.9 L1342,1286.9 L1343,1286.9 L1344,1286.9 L1345,1286.9 L1346,1286.8 L1347,1286.8 L1348,1286.8 L1349,1286.8 L1350,1286.8 L1351,1286.8 L1352,1286.8 L1353,1286.8 L1354,1286.8 L1355,1286.8 L1356,1286.8 L1357,1286.8 L1358,1286.8 L1359,1286.8 L1360,1286.8 L1361,1286.8 L1362,1286.8 L1363,1286.8 L1364,1286.8 L1365,1286.8 L1366,1286.8 L1367,1286.8 L1368,1286.8 L1369,1286.8 L1370,1286.8 L1371,1286.7 L1372,1286.7 L1373,1286.7 L1374,1286.7 L1375,1286.7 L1376,1286.7 L1377,1286.7 L1378,1286.7 L1379,1286.7 L1380,1286.6 L1381,1286.6 L1382,1286.6 L1383,1286.6 L1384,1286.6 L1385,1286.5 L1386,1286.5 L1387,1286.5 L1388,1286.5 L1389,1286.4 L1390,1286.4 L1391,1286.4 L1392,1286.3 L1393,1286.3 L1394,1286.2 L1395,1286.2 L1396,1286.1 L1397,1286.0 L1398,1285.9 L1399,1285.9 L1400,1285.7 L1401,1285.6 L1402,1285.5 L1403,1285.3 L1404,1285.1 L1405,1284.9 L1406,1284.5 L1407,1284.1 L1408,1283.4 L1409,1282.5 L1410,1281.2 L1411,1279.2 L1412,1276.5 L1413,1272.8 L1414,1268.0 L1415,1262.2 L1416,1255.6 L1417,1248.7 L1418,1242.2 L1419,1237.3 L1420,1235.0 L1421,1236.0 L1422,1240.0 L1423,1246.0 L1424,1252.8 L1425,1259.6 L1426,1265.8 L1427,1270.9 L1428,1275.1 L1429,1278.2 L1430,1280.4 L1431,1282.0 L1432,1283.0 L1433,1283.8 L1434,1284.3 L1435,1284.6 L1436,1284.9 L1437,1285.1 L1438,1285.3 L1439,1285.4 L1440,1285.5 L1441,1285.6 L1442,1285.6 L1443,1285.7 L1444,1285.7 L1445,1285.6 L1446,1285.5 L1447,1285.3 L1448,1285.0 L1449,1284.5 L1450,1283.8 L1451,1282.9 L1452,1282.0 L1453,1281.0 L1454,1280.1 L1455,1279.6 L1456,1279.6 L1457,1280.2 L1458,1281.1 L1459,1282.1 L1460,1283.1 L1461,1284.0 L1462,1284.8 L1463,1285.3 L1464,1285.7 L1465,1286.0 L1466,1286.2 L1467,1286.3 L1468,1286.4 L1469,1286.5 L1470,1286.5 L1471,1286.5 L1472,1286.6 L1473,1286.6 L1474,1286.6 L1475,1286.6 L1476,1286.7 L1477,1286.7 L1478,1286.7 L1479,1286.7 L1480,1286.7 L1481,1286.7 L1482,1286.7 L1483,1286.8 L1484,1286.8 L1485,1286.8 L1486,1286.8 L1487,1286.8 L1488,1286.8 L1489,1286.8 L1490,1286.8 L1491,1286.8 L1492,1286.8 L1493,1286.8 L1494,1286.8 L1495,1286.8 L1496,1286.8 L1497,1286.8 L1498,1286.8 L1499,1286.8 L1500,1286.8 L1501,1286.8 L1502,1286.8 L1503,1286.8 L1504,1286.8 L1505,1286.8 L1506,1286.8 L1507,1286.8 L1508,1286.9 L1509,1286.9 L1510,1286.9 L1511,1286.9 L1512,1286.9 L1513,1286.9 L1514,1286.9 L1515,1286.9 L1516,1286.9 L1517,1286.9 L1518,1286.9 L1519,1286.9 L1520,1286.9 L1521,1286.9 L1522,1286.9 L1523,1286.9 L1524,1286.9 L1525,1286.9 L1526,1286.9 L1527,1286.9 L1528,1286.9 L1529,1286.9 L1530,1286.9 L1531,1286.9 L1532,1286.8 L1533,1286.8 L1534,1286.8 L1535,1286.8 L1536,1286.8 L1537,1286.8 L1538,1286.8 L1539,1286.8 L1540,1286.8 L1541,1286.8 L1542,1286.8 L1543,1286.8 L1544,1286.8 L1545,1286.8 L1546,1286.8 L1547,1286.8 L1548,1286.8 L1549,1286.8 L1550,1286.8 L1551,1286.8 L1552,1286.8 L1553,1286.8 L1554,1286.8 L1555,1286.8 L1556,1286.8 L1557,1286.8 L1558,1286.7 L1559,1286.7 L1560,1286.7 L1561,1286.7 L1562,1286.7 L1563,1286.7 L1564,1286.7 L1565,1286.7 L1566,1286.7 L1567,1286.6 L1568,1286.6 L1569,1286.6 L1570,1286.6 L1571,1286.6 L1572,1286.5 L1573,1286.5 L1574,1286.5 L1575,1286.4 L1576,1286.4 L1577,1286.3 L1578,1286.3 L1579,1286.2 L1580,1286.2 L1581,1286.1 L1582,1286.0 L1583,1285.9 L1584,1285.8 L1585,1285.7 L1586,1285.5 L1587,1285.3 L1588,1284.9 L1589,1284.5 L1590,1283.8 L1591,1282.8 L1592,1281.4 L1593,1279.4 L1594,1276.8 L1595,1273.4 L1596,1269.5 L1597,1265.0 L1598,1260.5 L1599,1256.5 L1600,1253.7 L1601,1252.9 L1602,1254.2 L1603,1257.2 L1604,1261.4 L1605,1265.9 L1606,1270.3 L1607,1274.1 L1608,1277.3 L1609,1279.7 L1610,1281.6 L1611,1282.9 L1612,1283.8 L1613,1284.4 L1614,1284.8 L1615,1285.1 L1616,1285.3 L1617,1285.5 L1618,1285.6 L1619,1285.7 L1620,1285.7 L1621,1285.8 L1622,1285.8 L1623,1285.8 L1624,1285.7 L1625,1285.6 L1626,1285.4 L1627,1285.1 L1628,1284.6 L1629,1283.8 L1630,1282.9 L1631,1281.6 L1632,1280.2 L1633,1278.8 L1634,1277.5 L1635,1276.7 L1636,1276.6 L1637,1277.3 L1638,1278.5 L1639,1280.0 L1640,1281.4 L1641,1282.7 L1642,1283.7 L1643,1284.5 L1644,1285.1 L1645,1285.4 L1646,1285.7 L1647,1285.8 L1648,1285.8 L1649,1285.8 L1650,1285.7 L1651,1285.5 L1652,1285.2 L1653,1284.7 L1654,1284.0 L1655,1283.1 L1656,1282.0 L1657,1280.9 L1658,1279.8 L1659,1278.9 L1660,1278.6 L1661,1279.0 L1662,1279.8 L1663,1280.9 L1664,1282.1 L1665,1283.2 L1666,1284.1 L1667,1284.8 L1668,1285.4 L1669,1285.7 L1670,1286.0 L1671,1286.1 L1672,1286.2 L1673,1286.3 L1674,1286.3 L1675,1286.4 L1676,1286.4 L1677,1286.4 L1678,1286.4 L1679,1286.4 L1680,1286.4 L1681,1286.4 L1682,1286.4 L1683,1286.4 L1684,1286.4 L1685,1286.3 L1686,1286.3 L1687,1286.3 L1688,1286.2 L1689,1286.1 L1690,1286.0 L1691,1285.9 L1692,1285.7 L1693,1285.4 L1694,1284.9 L1695,1284.3 L1696,1283.4 L1697,1282.2 L1698,1280.7 L1699,1278.8 L1700,1276.8 L1701,1274.6 L1702,1272.7 L1703,1271.3 L1704,1270.8 L1705,1271.3 L1706,1272.7 L1707,1274.6 L1708,1276.7 L1709,1278.8 L1710,1280.6 L1711,1282.2 L1712,1283.4 L1713,1284.3 L1714,1284.9 L1715,1285.4 L1716,1285.7 L1717,1285.9 L1718,1286.0 L1719,1286.1 L1720,1286.2 L1721,1286.2 L1722,1286.3 L1723,1286.3 L1724,1286.3 L1725,1286.4 L1726,1286.4 L1727,1286.4 L1728,1286.4 L1729,1286.4 L1730,1286.4 L1731,1286.4 L1732,1286.4 L1733,1286.3 L1734,1286.3 L1735,1286.2 L1736,1286.2 L1737,1286.1 L1738,1285.9 L1739,1285.6 L1740,1285.3 L1741,1284.7 L1742,1283.9 L1743,1282.9 L1744,1281.7 L1745,1280.4 L1746,1279.1 L1747,1278.1 L1748,1277.6 L1749,1277.7 L1750,1278.5 L1751,1279.7 L1752,1281.0 L1753,1282.2 L1754,1283.2 L1755,1283.9 L1756,1284.3 L1757,1284.5 L1758,1284.3 L1759,1283.9 L1760,1283.1 L1761,1282.1 L1762,1280.9 L1763,1279.6 L1764,1278.5 L1765,1277.6 L1766,1277.4 L1767,1277.9 L1768,1278.9 L1769,1280.2 L1770,1281.5 L1771,1282.7 L1772,1283.7 L1773,1284.4 L1774,1285.0 L1775,1285.3 L1776,1285.5 L1777,1285.7 L1778,1285.7 L1779,1285.7 L1780,1285.7 L1781,1285.7 L1782,1285.6 L1783,1285.5 L1784,1285.4 L1785,1285.2 L1786,1284.9 L1787,1284.5 L1788,1283.8 L1789,1282.9 L1790,1281.6 L1791,1279.7 L1792,1277.3 L1793,1274.2 L1794,1270.5 L1795,1266.5 L1796,1262.4 L1797,1258.9 L1798,1256.5 L1799,1255.9 L1800,1257.3 L1801,1260.2 L1802,1264.1 L1803,1268.2 L1804,1272.1 L1805,1275.6 L1806,1278.4 L1807,1280.6 L1808,1282.3 L1809,1283.4 L1810,1284.3 L1811,1284.8 L1812,1285.2 L1813,1285.5 L1814,1285.7 L1815,1285.8 L1816,1285.9 L1817,1286.0 L1818,1286.1 L1819,1286.2 L1820,1286.3 L1821,1286.3 L1822,1286.4 L1823,1286.4 L1824,1286.4 L1825,1286.5 L1826,1286.5 L1827,1286.5 L1828,1286.6 L1829,1286.6 L1830,1286.6 L1831,1286.6 L1832,1286.6 L1833,1286.6 L1834,1286.7 L1835,1286.7 L1836,1286.7 L1837,1286.7 L1838,1286.7 L1839,1286.7 L1840,1286.7 L1841,1286.7 L1842,1286.7 L1843,1286.7 L1844,1286.7 L1845,1286.7 L1846,1286.7 L1847,1286.7 L1848,1286.7 L1849,1286.7 L1850,1286.7 L1851,1286.7 L1852,1286.7 L1853,1286.7 L1854,1286.7 L1855,1286.7 L1856,1286.7 L1857,1286.7 L1858,1286.7 L1859,1286.6 L1860,1286.6 L1861,1286.6 L1862,1286.5 L1863,1286.5 L1864,1286.4 L1865,1286.3 L1866,1286.1 L1867,1285.8 L1868,1285.4 L1869,1284.9 L1870,1284.2 L1871,1283.4 L1872,1282.4 L1873,1281.3 L1874,1280.3 L1875,1279.5 L1876,1279.0 L1877,1279.0 L1878,1279.5 L1879,1280.3 L1880,1281.4 L1881,1282.4 L1882,1283.4 L1883,1284.2 L1884,1284.9 L1885,1285.5 L1886,1285.8 L1887,1286.1 L1888,1286.3 L1889,1286.4 L1890,1286.5 L1891,1286.6 L1892,1286.6 L1893,1286.7 L1894,1286.7 L1895,1286.7 L1896,1286.7 L1897,1286.8 L1898,1286.8 L1899,1286.8 L1900,1286.8 L1901,1286.8 L1902,1286.8 L1903,1286.8 L1904,1286.8 L1905,1286.8 L1906,1286.9 L1907,1286.9 L1908,1286.9 L1909,1286.9 L1910,1286.9 L1911,1286.9 L1912,1286.9 L1913,1286.9 L1914,1286.9 L1915,1286.9 L1916,1286.9 L1917,1286.9 L1918,1286.9 L1919,1286.9 L1920,1286.9 L1921,1286.9 L1922,1286.9 L1923,1286.9 L1924,1286.9 L1925,1286.9 L1926,1286.9 L1927,1286.9 L1928,1286.9 L1929,1286.9 L1930,1286.9 L1931,1286.9 L1932,1286.9 L1933,1286.9 L1934,1286.9 L1935,1286.9 L1936,1286.9 L1937,1286.9 L1938,1286.9 L1939,1286.9 L1940,1286.9 L1941,1286.9 L1942,1286.9 L1943,1286.9 L1944,1286.9 L1945,1286.9 L1946,1286.9 L1947,1286.9 L1948,1286.9 L1949,1286.9 L1950,1286.9 L1951,1286.9 L1952,1286.9 L1953,1286.9 L1954,1286.9 L1955,1286.9 L1956,1286.9 L1957,1286.9 L1958,1286.9 L1959,1286.9 L1960,1286.9 L1961,1286.9 L1962,1286.9 L1963,1286.9 L1964,1286.9 L1965,1286.9 L1966,1286.9 L1967,1286.9 L1968,1286.9 L1969,1286.9 L1970,1286.9 L1971,1286.9 L1972,1286.9 L1973,1286.9 L1974,1286.9 L1975,1286.9 L1976,1286.9 L1977,1286.9 L1978,1286.9 L1979,1286.9 L1980,1286.9 L1981,1286.9 L1982,1286.9 L1983,1286.9 L1984,1286.9 L1985,1286.9 L1986,1286.9 L1987,1286.9 L1988,1286.9 L1989,1286.8 L1990,1286.8 L1991,1286.8 L1992,1286.8 L1993,1286.8 L1994,1286.8 L1995,1286.8 L1996,1286.8 L1997,1286.8 L1998,1286.8 L1999,1286.7 L2000,1286.7 L2001,1286.7 L2002,1286.7 L2003,1286.6 L2004,1286.6 L2005,1286.6 L2006,1286.5 L2007,1286.5 L2008,1286.4 L2009,1286.4 L2010,1286.3 L2011,1286.1 L2012,1286.0 L2013,1285.7 L2014,1285.4 L2015,1284.9 L2016,1284.2 L2017,1283.3 L2018,1282.2 L2019,1280.8 L2020,1279.2 L2021,1277.5 L2022,1275.8 L2023,1274.2 L2024,1273.0 L2025,1272.5 L2026,1272.7 L2027,1273.7 L2028,1275.1 L2029,1276.8 L2030,1278.6 L2031,1280.2 L2032,1281.7 L2033,1282.9 L2034,1283.9 L2035,1284.6 L2036,1285.2 L2037,1285.6 L2038,1285.9 L2039,1286.1 L2040,1286.2 L2041,1286.3 L2042,1286.4 L2043,1286.5 L2044,1286.5 L2045,1286.6 L2046,1286.6 L2047,1286.6 L2048,1286.7 L2049,1286.7 L2050,1286.7 L2051,1286.7 L2052,1286.8 L2053,1286.8 L2054,1286.8 L2055,1286.8 L2056,1286.8 L2057,1286.8 L2058,1286.8 L2059,1286.8 L2060,1286.8 L2061,1286.9 L2062,1286.9 L2063,1286.9 L2064,1286.9 L2065,1286.9 L2066,1286.9 L2067,1286.9 L2068,1286.9 L2069,1286.9 L2070,1286.9 L2071,1286.9 L2072,1286.9 L2073,1286.9 L2074,1286.9 L2075,1286.9 L2076,1286.9 L2077,1286.9 L2078,1286.9 L2079,1286.9 L2080,1286.9 L2081,1286.9 L2082,1286.9 L2083,1286.9 L2084,1286.9 L2085,1286.9 L2086,1286.9 L2087,1286.9 L2088,1286.9 L2089,1286.9 L2090,1287.0 L2091,1287.0 L2092,1287.0 L2093,1287.0 L2094,1287.0 L2095,1287.0 L2096,1287.0 L2097,1287.0 L2098,1287.0 L2099,1287.0 L2100,1287.0 L2101,1287.0 L2102,1287.0 L2103,1287.0 L2104,1287.0 L2105,1287.0 L2106,1287.0 L2107,1287.0 L2108,1287.0 L2109,1287.0 L2110,1287.0 L2111,1287.0 L2112,1287.0 L2113,1287.0 L2114,1287.0 L2115,1287.0 L2116,1287.0 L2117,1287.0 L2118,1287.0 L2119,1287.0 L2120,1287.0 L2121,1287.0 L2122,1287.0 L2123,1287.0 L2124,1287.0 L2125,1287.0 L2126,1287.0 L2127,1287.0 L2128,1287.0 L2129,1287.0 L2130,1287.0 L2131,1287.0 L2132,1287.0 L2133,1287.0 L2134,1287.0 L2135,1287.0 L2136,1287.0 L2137,1287.0 L2138,1287.0 L2139,1287.0 L2140,1287.0 L2141,1287.0 L2142,1287.0 L2143,1287.0 L2144,1287.0 L2145,1287.0 L2146,1287.0 L2147,1287.0 L2148,1287.0 L2149,1287.0 L2150,1287.0 L2151,1287.0 L2152,1287.0 L2153,1287.0 L2154,1287.0 L2155,1287.0 L2156,1287.0 L2157,1287.0 L2158,1287.0 L2159,1287.0 L2160,1287.0 L2161,1287.0 L2162,1287.0 L2163,1287.0 L2164,1287.0 L2165,1287.0 L2166,1287.0 L2167,1287.0 L2168,1287.0 L2169,1287.0 L2170,1287.0 L2171,1287.0 L2172,1287.0 L2173,1287.0 L2174,1287.0 L2175,1287.0 L2176,1287.0 L2177,1287.0 L2178,1287.0 L2179,1287.0 L2180,1287.0 L2181,1287.0 L2182,1287.0 L2183,1287.0 L2184,1287.0 L2185,1287.0 L2186,1287.0 L2187,1287.0 L2188,1287.0 L2189,1287.0 L2190,1287.0 L2191,1287.0 L2192,1287.0 L2193,1287.0 L2194,1287.0 L2195,1287.0 L2196,1287.0 L2197,1287.0 L2198,1287.0 L2199,1287.0 L2200,1287.0 L2201,1287.0 L2202,1287.0 L2203,1287.0 L2204,1287.0 L2205,1287.0 L2206,1287.0 L2207,1287.0 L2208,1287.0 L2209,1287.0 L2210,1287.0 L2211,1287.0 L2212,1287.0 L2213,1287.0 L2214,1287.0 L2215,1287.0 L2216,1287.0 L2217,1287.0 L2218,1287.0 L2219,1287.0 L2220,1287.0 L2221,1287.0 L2222,1287.0 L2223,1287.0 L2224,1287.0 L2225,1287.0 L2226,1287.0 L2227,1287.0 L2228,1287.0 L2229,1287.0 L2230,1287.0 L2231,1287.0 L2232,1287.0 L2233,1287.0 L2234,1287.0 L2235,1287.0 L2236,1287.0 L2237,1287.0 L2238,1287.0 L2239,1287.0 L2240,1287.0 L2241,1287.0 L2242,1287.0 L2243,1287.0 L2244,1287.0 L2245,1287.0 L2246,1287.0 L2247,1287.0 L2248,1287.0 L2249,1287.0 L2250,1287.0 L2251,1287.0 L2252,1287.0 L2253,1287.0 L2254,1287.0 L2255,1287.0 L2256,1287.0 L2257,1287.0 L2258,1287.0 L2259,1287.0 L2260,1287.0 L2261,1287.0 L2262,1287.0 L2263,1287.0 L2264,1287.0 L2265,1287.0 L2266,1287.0 L2267,1287.0 L2268,1287.0 L2269,1287.0 L2270,1287.0 L2271,1287.0 L2272,1287.0 L2273,1287.0 L2274,1287.0 L2275,1287.0 L2276,1287.0 L2277,1287.0 L2278,1287.0 L2279,1287.0 L2280,1287.0 L2281,1287.0 L2282,1287.0 L2283,1287.0 L2284,1287.0 L2285,1287.0 L2286,1287.0 L2287,1287.0 L2288,1287.0 L2289,1287.0 L2290,1287.0 L2291,1287.0 L2292,1287.0 L2293,1287.0 L2294,1287.0 L2295,1287.0 L2296,1287.0 L2297,1287.0 L2298,1287.0 L2299,1287.0 L2300,1287.0 L2301,1287.0 L2302,1287.0 L2303,1287.0 L2304,1287.0 L2305,1287.0 L2306,1287.0 L2307,1287.0 L2308,1287.0 L2309,1287.0 L2310,1287.0 L2311,1287.0 L2312,1287.0 L2313,1287.0 L2314,1287.0 L2315,1287.0 L2316,1287.0 L2317,1287.0 L2318,1287.0 L2319,1287.0 L2320,1287.0 L2321,1287.0 L2322,1287.0 L2323,1287.0 L2324,1287.0 L2325,1287.0 L2326,1287.0 L2327,1287.0 L2328,1287.0 L2329,1287.0 L2330,1287.0 L2331,1287.0 L2332,1287.0 L2333,1287.0 L2334,1287.0 L2335,1287.0 L2336,1287.0 L2337,1287.0 L2338,1287.0 L2339,1287.0 L2340,1287.0 L2341,1287.0 L2342,1287.0 L2343,1287.0 L2344,1287.0 L2345,1287.0 L2346,1287.0 L2347,1287.0 L2348,1287.0 L2349,1287.0 L2350,1287.0 L2351,1287.0 L2352,1287.0 L2353,1287.0 L2354,1287.0 L2355,1287.0 L2356,1287.0 L2357,1287.0 L2358,1287.0 L2359,1287.0 L2360,1287.0 L2361,1287.0 L2362,1287.0 L2363,1287.0 L2364,1287.0 L2365,1287.0 L2366,1287.0" fill="none" stroke="#ff0000" stroke-width="11.8" stroke-linejoin="round" stroke-linecap="butt"/>
<path d="M245,1006.3 L246,1006.3 L247,1006.3 L248,1006.3 L249,1006.3 L250,1006.3 L251,1006.3 L252,1006.3 L253,1006.3 L254,1006.3 L255,1006.3 L256,1006.3 L257,1006.3 L258,1006.3 L259,1006.3 L260,1006.3 L261,1006.3 L262,1006.3 L263,1006.2 L264,1006.3 L265,1006.2 L266,1006.1 L267,1006.0 L268,1006.0 L269,1006.1 L270,1006.4 L271,1006.4 L272,1006.5 L273,1006.5 L274,1006.4 L275,1006.4 L276,1006.3 L277,1006.1 L278,1006.1 L279,1006.2 L280,1006.1 L281,1006.3 L282,1006.2 L283,1006.4 L284,1006.3 L285,1006.2 L286,1006.4 L287,1006.2 L288,1006.1 L289,1006.3 L290,1006.1 L291,1006.0 L292,1006.2 L293,1006.1 L294,1006.0 L295,1006.2 L296,1006.1 L297,1006.3 L298,1006.2 L299,1006.2 L300,1006.4 L301,1006.2 L302,1006.1 L303,1006.1 L304,1006.0 L305,1006.1 L306,1006.0 L307,1006.1 L308,1006.0 L309,1006.2 L310,1006.4 L311,1006.2 L312,1006.4 L313,1006.2 L314,1006.1 L315,1006.1 L316,1006.0 L317,1006.2 L318,1006.0 L319,1005.9 L320,1006.2 L321,1006.1 L322,1006.3 L323,1006.2 L324,1006.1 L325,1006.2 L326,1006.1 L327,1006.2 L328,1006.3 L329,1006.0 L330,1006.2 L331,1006.1 L332,1006.0 L333,1006.3 L334,1006.1 L335,1006.0 L336,1005.9 L337,1006.2 L338,1006.3 L339,1006.1 L340,1006.0 L341,1006.3 L342,1006.1 L343,1006.2 L344,1006.4 L345,1006.5 L346,1006.5 L347,1006.2 L348,1006.2 L349,1006.2 L350,1006.1 L351,1006.1 L352,1006.3 L353,1006.0 L354,1006.3 L355,1006.3 L356,1006.1 L357,1006.3 L358,1006.2 L359,1006.1 L360,1006.2 L361,1006.1 L362,1006.1 L363,1006.2 L364,1006.1 L365,1006.2 L366,1006.3 L367,1006.0 L368,1005.9 L369,1006.1 L370,1005.9 L371,1006.0 L372,1005.9 L373,1006.1 L374,1006.1 L375,1006.1 L376,1006.1 L377,1005.9 L378,1005.9 L379,1006.0 L380,1006.1 L381,1006.1 L382,1006.1 L383,1005.8 L384,1005.9 L385,1005.9 L386,1005.8 L387,1005.8 L388,1005.6 L389,1005.9 L390,1005.9 L391,1006.0 L392,1006.0 L393,1005.7 L394,1005.5 L395,1005.5 L396,1005.5 L397,1005.4 L398,1005.2 L399,1005.3 L400,1005.3 L401,1005.3 L402,1005.1 L403,1004.5 L404,1003.5 L405,1001.5 L406,998.1 L407,992.0 L408,982.2 L409,967.6 L410,948.0 L411,924.2 L412,898.6 L413,874.7 L414,857.2 L415,850.0 L416,855.8 L417,873.3 L418,896.2 L419,920.3 L420,941.6 L421,959.1 L422,972.3 L423,981.5 L424,988.0 L425,992.1 L426,995.0 L427,996.8 L428,998.2 L429,999.3 L430,1000.1 L431,1000.7 L432,1001.4 L433,1001.7 L434,1001.9 L435,1002.2 L436,1002.6 L437,1002.8 L438,1003.1 L439,1003.5 L440,1003.7 L441,1003.8 L442,1003.7 L443,1004.0 L444,1004.0 L445,1004.2 L446,1004.0 L447,1003.9 L448,1003.8 L449,1003.4 L450,1002.9 L451,1002.3 L452,1001.7 L453,1001.5 L454,1001.5 L455,1002.0 L456,1002.8 L457,1003.4 L458,1003.7 L459,1004.3 L460,1004.3 L461,1004.6 L462,1004.5 L463,1004.3 L464,1004.1 L465,1004.2 L466,1003.8 L467,1003.3 L468,1001.4 L469,997.2 L470,987.0 L471,967.7 L472,936.8 L473,897.5 L474,860.5 L475,839.3 L476,845.7 L477,876.3 L478,914.2 L479,947.3 L480,970.3 L481,984.2 L482,991.7 L483,995.9 L484,997.9 L485,999.5 L486,1000.4 L487,1001.2 L488,1001.6 L489,1002.0 L490,1002.4 L491,1002.6 L492,1002.6 L493,1002.9 L494,1003.1 L495,1003.3 L496,1003.3 L497,1003.3 L498,1003.1 L499,1003.1 L500,1002.9 L501,1003.0 L502,1003.1 L503,1002.9 L504,1002.6 L505,1002.5 L506,1002.3 L507,1002.3 L508,1002.1 L509,1002.0 L510,1001.6 L511,1001.3 L512,1001.0 L513,1000.8 L514,1000.4 L515,999.9 L516,999.4 L517,998.5 L518,997.6 L519,996.8 L520,995.6 L521,994.4 L522,992.8 L523,990.8 L524,988.2 L525,984.9 L526,980.8 L527,975.3 L528,967.7 L529,956.7 L530,941.3 L531,920.6 L532,893.9 L533,861.9 L534,828.1 L535,801.7 L536,794.4 L537,810.7 L538,841.7 L539,875.6 L540,905.3 L541,929.2 L542,947.2 L543,960.1 L544,969.7 L545,976.7 L546,981.9 L547,985.7 L548,988.4 L549,990.8 L550,992.9 L551,994.2 L552,995.3 L553,996.5 L554,997.3 L555,997.9 L556,998.7 L557,998.9 L558,998.9 L559,998.3 L560,997.4 L561,996.7 L562,996.2 L563,996.8 L564,998.3 L565,999.9 L566,1001.2 L567,1002.2 L568,1002.6 L569,1002.9 L570,1003.2 L571,1003.4 L572,1003.7 L573,1003.7 L574,1003.9 L575,1004.0 L576,1004.1 L577,1004.3 L578,1004.3 L579,1004.5 L580,1004.5 L581,1004.5 L582,1004.8 L583,1004.9 L584,1004.9 L585,1004.9 L586,1004.9 L587,1005.1 L588,1005.0 L589,1004.9 L590,1005.0 L591,1005.1 L592,1005.2 L593,1005.3 L594,1005.4 L595,1005.5 L596,1005.7 L597,1005.4 L598,1005.4 L599,1005.6 L600,1005.6 L601,1005.6 L602,1005.5 L603,1005.6 L604,1005.6 L605,1005.8 L606,1005.8 L607,1005.9 L608,1005.7 L609,1005.6 L610,1005.7 L611,1005.7 L612,1005.6 L613,1005.7 L614,1005.7 L615,1005.7 L616,1005.8 L617,1005.8 L618,1006.0 L619,1006.0 L620,1006.0 L621,1005.9 L622,1005.9 L623,1006.0 L624,1005.9 L625,1005.8 L626,1005.8 L627,1005.8 L628,1006.0 L629,1005.8 L630,1005.8 L631,1006.0 L632,1005.7 L633,1005.7 L634,1005.8 L635,1005.6 L636,1005.6 L637,1005.7 L638,1005.6 L639,1005.7 L640,1005.8 L641,1005.5 L642,1005.5 L643,1005.1 L644,1004.9 L645,1004.6 L646,1003.7 L647,1002.8 L648,1001.4 L649,1000.0 L650,998.7 L651,998.5 L652,999.0 L653,1000.5 L654,1002.1 L655,1003.4 L656,1004.2 L657,1004.7 L658,1005.1 L659,1005.2 L660,1005.3 L661,1005.5 L662,1005.6 L663,1005.6 L664,1005.6 L665,1005.8 L666,1005.7 L667,1005.7 L668,1005.9 L669,1005.9 L670,1006.1 L671,1005.9 L672,1006.0 L673,1006.2 L674,1006.2 L675,1006.0 L676,1006.0 L677,1006.2 L678,1006.3 L679,1006.2 L680,1006.1 L681,1006.3 L682,1006.1 L683,1006.1 L684,1006.2 L685,1006.1 L686,1006.3 L687,1006.3 L688,1006.2 L689,1006.0 L690,1006.1 L691,1006.1 L692,1006.3 L693,1006.4 L694,1006.4 L695,1006.4 L696,1006.2 L697,1006.2 L698,1006.0 L699,1006.1 L700,1006.3 L701,1006.2 L702,1006.2 L703,1006.1 L704,1006.2 L705,1006.2 L706,1006.2 L707,1006.0 L708,1006.0 L709,1005.9 L710,1005.9 L711,1005.8 L712,1005.9 L713,1005.8 L714,1006.0 L715,1006.1 L716,1005.8 L717,1005.7 L718,1005.5 L719,1005.2 L720,1004.8 L721,1004.5 L722,1004.0 L723,1003.2 L724,1002.2 L725,1001.7 L726,1001.7 L727,1002.1 L728,1002.7 L729,1003.7 L730,1004.4 L731,1004.9 L732,1005.4 L733,1005.7 L734,1005.6 L735,1005.7 L736,1005.7 L737,1005.7 L738,1005.8 L739,1005.9 L740,1005.6 L741,1005.5 L742,1005.5 L743,1005.5 L744,1005.1 L745,1005.0 L746,1004.4 L747,1003.6 L748,1002.4 L749,1000.8 L750,998.4 L751,996.2 L752,994.3 L753,993.7 L754,994.6 L755,996.6 L756,999.1 L757,1001.3 L758,1003.0 L759,1004.0 L760,1004.6 L761,1005.1 L762,1005.5 L763,1005.6 L764,1005.7 L765,1005.9 L766,1005.7 L767,1005.8 L768,1005.7 L769,1005.9 L770,1006.0 L771,1006.0 L772,1005.9 L773,1005.9 L774,1005.9 L775,1006.0 L776,1006.0 L777,1006.0 L778,1006.2 L779,1006.1 L780,1006.0 L781,1005.9 L782,1006.0 L783,1005.8 L784,1006.1 L785,1005.9 L786,1006.1 L787,1006.2 L788,1006.2 L789,1006.1 L790,1006.1 L791,1006.0 L792,1006.1 L793,1005.9 L794,1006.0 L795,1005.8 L796,1005.8 L797,1005.8 L798,1005.6 L799,1005.6 L800,1005.6 L801,1005.4 L802,1005.4 L803,1005.7 L804,1005.8 L805,1005.6 L806,1005.5 L807,1005.4 L808,1005.5 L809,1005.3 L810,1005.3 L811,1005.4 L812,1005.1 L813,1005.1 L814,1004.8 L815,1004.6 L816,1004.5 L817,1004.3 L818,1004.3 L819,1003.9 L820,1003.5 L821,1003.2 L822,1002.5 L823,1001.7 L824,1000.3 L825,998.4 L826,996.0 L827,993.1 L828,989.5 L829,985.2 L830,980.7 L831,976.0 L832,971.7 L833,968.4 L834,966.9 L835,967.3 L836,969.9 L837,973.7 L838,978.2 L839,982.9 L840,987.5 L841,991.4 L842,994.6 L843,997.1 L844,999.3 L845,1000.6 L846,1001.7 L847,1002.5 L848,1002.5 L849,1002.5 L850,1002.2 L851,1001.8 L852,1000.9 L853,1000.7 L854,1001.2 L855,1002.1 L856,1002.9 L857,1003.6 L858,1004.1 L859,1004.5 L860,1004.8 L861,1004.9 L862,1005.0 L863,1004.9 L864,1004.8 L865,1004.7 L866,1004.1 L867,1003.5 L868,1002.3 L869,1000.6 L870,998.9 L871,998.3 L872,998.6 L873,1000.2 L874,1001.8 L875,1003.5 L876,1004.5 L877,1005.2 L878,1005.3 L879,1005.3 L880,1005.4 L881,1005.7 L882,1005.9 L883,1005.9 L884,1005.9 L885,1005.8 L886,1006.0 L887,1006.0 L888,1005.9 L889,1005.9 L890,1005.9 L891,1006.1 L892,1006.2 L893,1006.0 L894,1005.8 L895,1006.1 L896,1006.0 L897,1006.0 L898,1006.1 L899,1006.0 L900,1005.9 L901,1006.0 L902,1006.2 L903,1006.1 L904,1006.0 L905,1006.1 L906,1005.9 L907,1006.1 L908,1006.1 L909,1006.1 L910,1006.2 L911,1006.3 L912,1006.1 L913,1006.1 L914,1006.0 L915,1006.1 L916,1006.1 L917,1006.0 L918,1006.1 L919,1006.0 L920,1006.2 L921,1006.3 L922,1006.3 L923,1006.2 L924,1006.0 L925,1006.2 L926,1006.1 L927,1006.1 L928,1006.2 L929,1006.3 L930,1006.4 L931,1006.4 L932,1006.4 L933,1006.3 L934,1006.1 L935,1005.9 L936,1005.9 L937,1006.1 L938,1006.0 L939,1006.2 L940,1006.3 L941,1006.2 L942,1006.1 L943,1006.1 L944,1006.2 L945,1006.1 L946,1006.2 L947,1006.0 L948,1006.0 L949,1006.1 L950,1006.2 L951,1006.2 L952,1006.1 L953,1005.9 L954,1005.9 L955,1006.2 L956,1006.3 L957,1006.0 L958,1006.0 L959,1006.1 L960,1006.0 L961,1006.2 L962,1006.0 L963,1006.1 L964,1006.0 L965,1006.1 L966,1006.0 L967,1006.0 L968,1006.1 L969,1005.8 L970,1005.6 L971,1005.5 L972,1005.1 L973,1004.9 L974,1004.1 L975,1003.6 L976,1002.6 L977,1001.8 L978,1001.5 L979,1001.9 L980,1002.7 L981,1003.4 L982,1004.2 L983,1005.0 L984,1005.6 L985,1005.6 L986,1005.8 L987,1005.8 L988,1005.8 L989,1006.1 L990,1006.1 L991,1006.1 L992,1005.9 L993,1005.9 L994,1006.0 L995,1006.1 L996,1006.1 L997,1005.9 L998,1005.8 L999,1005.9 L1000,1005.9 L1001,1006.1 L1002,1006.0 L1003,1006.2 L1004,1006.2 L1005,1006.0 L1006,1005.9 L1007,1005.9 L1008,1005.8 L1009,1005.9 L1010,1006.0 L1011,1006.0 L1012,1006.2 L1013,1006.3 L1014,1006.3 L1015,1006.2 L1016,1005.9 L1017,1005.9 L1018,1005.8 L1019,1006.0 L1020,1006.1 L1021,1006.0 L1022,1006.2 L1023,1006.3 L1024,1006.2 L1025,1006.1 L1026,1006.0 L1027,1006.0 L1028,1006.2 L1029,1006.3 L1030,1006.2 L1031,1006.1 L1032,1006.0 L1033,1005.9 L1034,1005.7 L1035,1005.8 L1036,1005.7 L1037,1005.6 L1038,1005.6 L1039,1005.7 L1040,1005.7 L1041,1005.5 L1042,1005.5 L1043,1005.6 L1044,1005.5 L1045,1005.4 L1046,1005.4 L1047,1005.3 L1048,1005.3 L1049,1005.5 L1050,1005.5 L1051,1005.4 L1052,1005.3 L1053,1005.4 L1054,1005.2 L1055,1005.0 L1056,1004.9 L1057,1004.8 L1058,1004.9 L1059,1004.7 L1060,1004.4 L1061,1004.3 L1062,1004.2 L1063,1003.9 L1064,1003.7 L1065,1003.6 L1066,1003.3 L1067,1003.1 L1068,1002.7 L1069,1002.2 L1070,1001.4 L1071,1000.6 L1072,999.2 L1073,997.4 L1074,995.0 L1075,991.2 L1076,986.1 L1077,978.8 L1078,969.3 L1079,957.9 L1080,944.6 L1081,931.2 L1082,918.8 L1083,910.5 L1084,908.5 L1085,913.4 L1086,923.7 L1087,936.6 L1088,950.2 L1089,962.8 L1090,973.6 L1091,982.0 L1092,988.3 L1093,993.0 L1094,996.1 L1095,998.2 L1096,999.6 L1097,1000.9 L1098,1001.8 L1099,1002.4 L1100,1002.6 L1101,1003.1 L1102,1003.3 L1103,1003.8 L1104,1003.9 L1105,1003.9 L1106,1004.2 L1107,1004.3 L1108,1004.6 L1109,1004.7 L1110,1004.9 L1111,1005.1 L1112,1005.2 L1113,1005.3 L1114,1005.3 L1115,1005.2 L1116,1005.2 L1117,1005.3 L1118,1005.5 L1119,1005.5 L1120,1005.4 L1121,1005.3 L1122,1005.4 L1123,1005.5 L1124,1005.3 L1125,1005.4 L1126,1005.5 L1127,1005.6 L1128,1005.5 L1129,1005.5 L1130,1005.7 L1131,1005.9 L1132,1005.8 L1133,1005.9 L1134,1005.9 L1135,1005.8 L1136,1005.8 L1137,1005.9 L1138,1006.0 L1139,1006.0 L1140,1005.9 L1141,1005.7 L1142,1005.6 L1143,1005.8 L1144,1005.9 L1145,1005.8 L1146,1005.9 L1147,1005.7 L1148,1005.7 L1149,1005.8 L1150,1006.0 L1151,1005.8 L1152,1005.8 L1153,1005.9 L1154,1006.1 L1155,1005.8 L1156,1005.8 L1157,1006.0 L1158,1005.9 L1159,1005.8 L1160,1006.0 L1161,1005.8 L1162,1006.0 L1163,1006.0 L1164,1006.2 L1165,1006.0 L1166,1005.9 L1167,1006.0 L1168,1006.0 L1169,1006.0 L1170,1005.8 L1171,1005.7 L1172,1005.9 L1173,1005.9 L1174,1006.0 L1175,1006.0 L1176,1006.0 L1177,1005.9 L1178,1005.8 L1179,1005.9 L1180,1005.8 L1181,1005.7 L1182,1005.6 L1183,1005.7 L1184,1005.6 L1185,1005.8 L1186,1005.9 L1187,1005.9 L1188,1006.0 L1189,1005.9 L1190,1005.6 L1191,1005.6 L1192,1005.7 L1193,1005.5 L1194,1005.3 L1195,1005.5 L1196,1005.3 L1197,1005.5 L1198,1005.4 L1199,1005.4 L1200,1005.4 L1201,1005.5 L1202,1005.2 L1203,1005.1 L1204,1005.1 L1205,1005.1 L1206,1004.8 L1207,1004.6 L1208,1004.4 L1209,1004.6 L1210,1004.3 L1211,1004.1 L1212,1004.1 L1213,1003.9 L1214,1003.3 L1215,1002.9 L1216,1002.4 L1217,1002.0 L1218,1001.0 L1219,999.9 L1220,998.1 L1221,995.9 L1222,992.7 L1223,988.5 L1224,982.8 L1225,976.0 L1226,968.0 L1227,959.6 L1228,951.1 L1229,943.9 L1230,939.1 L1231,937.8 L1232,940.4 L1233,946.4 L1234,954.6 L1235,963.4 L1236,971.8 L1237,979.1 L1238,985.5 L1239,990.5 L1240,994.4 L1241,997.0 L1242,998.9 L1243,1000.4 L1244,1001.3 L1245,1002.2 L1246,1002.8 L1247,1003.1 L1248,1003.6 L1249,1003.8 L1250,1004.0 L1251,1004.2 L1252,1004.3 L1253,1004.4 L1254,1004.6 L1255,1004.8 L1256,1004.9 L1257,1004.9 L1258,1004.8 L1259,1005.0 L1260,1005.2 L1261,1005.1 L1262,1005.1 L1263,1005.2 L1264,1005.4 L1265,1005.4 L1266,1005.6 L1267,1005.6 L1268,1005.5 L1269,1005.5 L1270,1005.7 L1271,1005.6 L1272,1005.7 L1273,1005.8 L1274,1005.7 L1275,1005.9 L1276,1005.7 L1277,1005.6 L1278,1005.7 L1279,1005.7 L1280,1005.6 L1281,1005.6 L1282,1005.9 L1283,1005.8 L1284,1005.9 L1285,1006.0 L1286,1005.9 L1287,1005.7 L1288,1005.7 L1289,1005.8 L1290,1005.7 L1291,1005.7 L1292,1005.9 L1293,1005.9 L1294,1005.8 L1295,1005.9 L1296,1005.8 L1297,1005.9 L1298,1005.8 L1299,1005.8 L1300,1005.7 L1301,1005.8 L1302,1005.9 L1303,1005.9 L1304,1006.1 L1305,1005.9 L1306,1005.8 L1307,1005.7 L1308,1005.6 L1309,1005.7 L1310,1005.6 L1311,1005.9 L1312,1005.7 L1313,1005.8 L1314,1005.9 L1315,1005.9 L1316,1005.8 L1317,1005.6 L1318,1005.8 L1319,1005.8 L1320,1005.6 L1321,1005.6 L1322,1005.6 L1323,1005.3 L1324,1005.2 L1325,1005.1 L1326,1005.2 L1327,1005.0 L1328,1004.7 L1329,1004.4 L1330,1004.3 L1331,1003.8 L1332,1003.4 L1333,1002.6 L1334,1001.3 L1335,1000.0 L1336,998.6 L1337,997.3 L1338,996.1 L1339,995.2 L1340,994.7 L1341,995.1 L1342,996.3 L1343,997.4 L1344,998.7 L1345,999.8 L1346,1001.0 L1347,1001.9 L1348,1002.6 L1349,1003.1 L1350,1003.5 L1351,1003.6 L1352,1003.7 L1353,1003.7 L1354,1003.5 L1355,1003.2 L1356,1003.0 L1357,1002.5 L1358,1002.1 L1359,1001.7 L1360,1000.9 L1361,999.7 L1362,998.0 L1363,995.7 L1364,992.4 L1365,987.9 L1366,982.5 L1367,975.9 L1368,968.4 L1369,960.8 L1370,953.9 L1371,948.2 L1372,945.4 L1373,946.2 L1374,950.3 L1375,956.7 L1376,964.2 L1377,971.6 L1378,978.4 L1379,984.6 L1380,989.4 L1381,993.3 L1382,996.1 L1383,998.2 L1384,999.6 L1385,1000.8 L1386,1001.6 L1387,1002.2 L1388,1002.6 L1389,1002.8 L1390,1002.8 L1391,1002.8 L1392,1002.6 L1393,1002.5 L1394,1002.1 L1395,1001.5 L1396,1000.5 L1397,999.5 L1398,998.2 L1399,996.1 L1400,993.9 L1401,991.7 L1402,989.3 L1403,987.0 L1404,984.9 L1405,983.4 L1406,983.0 L1407,983.6 L1408,985.1 L1409,987.3 L1410,989.9 L1411,992.3 L1412,994.7 L1413,996.8 L1414,998.7 L1415,1000.2 L1416,1001.2 L1417,1002.1 L1418,1002.8 L1419,1003.4 L1420,1004.0 L1421,1004.4 L1422,1004.6 L1423,1004.7 L1424,1004.7 L1425,1005.0 L1426,1005.0 L1427,1005.2 L1428,1005.3 L1429,1005.5 L1430,1005.6 L1431,1005.5 L1432,1005.7 L1433,1005.5 L1434,1005.4 L1435,1005.6 L1436,1005.6 L1437,1005.7 L1438,1005.8 L1439,1005.9 L1440,1005.8 L1441,1005.7 L1442,1005.6 L1443,1005.7 L1444,1005.8 L1445,1005.7 L1446,1005.7 L1447,1005.6 L1448,1005.8 L1449,1005.7 L1450,1005.9 L1451,1005.7 L1452,1005.7 L1453,1005.8 L1454,1005.9 L1455,1005.9 L1456,1005.7 L1457,1005.6 L1458,1005.6 L1459,1005.8 L1460,1005.8 L1461,1005.7 L1462,1005.6 L1463,1005.2 L1464,1004.6 L1465,1004.1 L1466,1003.3 L1467,1002.4 L1468,1001.7 L1469,1001.2 L1470,1000.9 L1471,1001.3 L1472,1002.1 L1473,1002.9 L1474,1003.8 L1475,1004.5 L1476,1005.2 L1477,1005.5 L1478,1005.8 L1479,1005.8 L1480,1005.8 L1481,1006.0 L1482,1006.1 L1483,1006.0 L1484,1006.1 L1485,1006.2 L1486,1006.1 L1487,1006.3 L1488,1006.1 L1489,1006.1 L1490,1006.2 L1491,1006.1 L1492,1006.2 L1493,1006.3 L1494,1006.3 L1495,1006.2 L1496,1006.3 L1497,1006.2 L1498,1006.2 L1499,1006.3 L1500,1006.3 L1501,1006.3 L1502,1006.1 L1503,1006.1 L1504,1006.0 L1505,1006.2 L1506,1006.2 L1507,1006.1 L1508,1006.1 L1509,1006.1 L1510,1005.9 L1511,1006.1 L1512,1006.3 L1513,1006.4 L1514,1006.4 L1515,1006.2 L1516,1006.2 L1517,1006.1 L1518,1006.3 L1519,1006.2 L1520,1006.3 L1521,1006.3 L1522,1006.5 L1523,1006.3 L1524,1006.2 L1525,1006.1 L1526,1006.1 L1527,1006.3 L1528,1006.3 L1529,1006.4 L1530,1006.4 L1531,1006.3 L1532,1006.3 L1533,1006.1 L1534,1006.2 L1535,1006.1 L1536,1006.1 L1537,1006.1 L1538,1006.0 L1539,1006.1 L1540,1006.2 L1541,1006.2 L1542,1006.2 L1543,1006.3 L1544,1006.2 L1545,1006.1 L1546,1006.1 L1547,1006.0 L1548,1006.3 L1549,1006.4 L1550,1006.3 L1551,1006.2 L1552,1006.0 L1553,1006.2 L1554,1006.2 L1555,1006.1 L1556,1006.2 L1557,1006.1 L1558,1006.2 L1559,1006.2 L1560,1006.4 L1561,1006.2 L1562,1006.3 L1563,1006.1 L1564,1006.1 L1565,1006.3 L1566,1006.0 L1567,1006.0 L1568,1006.0 L1569,1005.9 L1570,1006.1 L1571,1006.1 L1572,1006.1 L1573,1005.9 L1574,1006.1 L1575,1005.9 L1576,1006.0 L1577,1005.8 L1578,1005.8 L1579,1006.0 L1580,1006.1 L1581,1006.2 L1582,1005.9 L1583,1005.9 L1584,1005.7 L1585,1005.6 L1586,1005.4 L1587,1005.4 L1588,1005.2 L1589,1005.2 L1590,1005.0 L1591,1004.7 L1592,1004.2 L1593,1003.8 L1594,1003.2 L1595,1002.2 L1596,1001.6 L1597,1001.0 L1598,1000.2 L1599,999.7 L1600,999.5 L1601,999.4 L1602,999.6 L1603,1000.1 L1604,1001.1 L1605,1001.7 L1606,1002.6 L1607,1003.3 L1608,1003.9 L1609,1004.3 L1610,1004.8 L1611,1005.3 L1612,1005.4 L1613,1005.4 L1614,1005.5 L1615,1005.5 L1616,1005.7 L1617,1005.8 L1618,1006.0 L1619,1006.1 L1620,1006.1 L1621,1006.2 L1622,1006.1 L1623,1006.0 L1624,1006.0 L1625,1006.1 L1626,1005.9 L1627,1006.2 L1628,1006.3 L1629,1006.3 L1630,1006.3 L1631,1006.4 L1632,1006.3 L1633,1006.3 L1634,1006.1 L1635,1006.3 L1636,1006.2 L1637,1006.2 L1638,1006.2 L1639,1006.0 L1640,1006.1 L1641,1006.1 L1642,1006.2 L1643,1006.3 L1644,1006.4 L1645,1006.3 L1646,1006.3 L1647,1006.1 L1648,1006.2 L1649,1006.1 L1650,1006.3 L1651,1006.4 L1652,1006.1 L1653,1006.2 L1654,1006.0 L1655,1006.1 L1656,1006.2 L1657,1006.2 L1658,1006.0 L1659,1006.0 L1660,1006.2 L1661,1006.3 L1662,1006.5 L1663,1006.5 L1664,1006.3 L1665,1006.2 L1666,1006.1 L1667,1006.3 L1668,1006.3 L1669,1006.4 L1670,1006.2 L1671,1006.2 L1672,1006.2 L1673,1006.1 L1674,1005.9 L1675,1006.2 L1676,1006.3 L1677,1006.3 L1678,1006.3 L1679,1006.1 L1680,1006.0 L1681,1005.9 L1682,1005.9 L1683,1005.7 L1684,1005.5 L1685,1005.0 L1686,1004.6 L1687,1004.3 L1688,1003.7 L1689,1003.5 L1690,1003.1 L1691,1003.4 L1692,1003.6 L1693,1003.9 L1694,1004.4 L1695,1004.8 L1696,1005.2 L1697,1005.3 L1698,1005.3 L1699,1005.7 L1700,1005.9 L1701,1006.1 L1702,1006.1 L1703,1006.0 L1704,1006.1 L1705,1006.3 L1706,1006.3 L1707,1006.4 L1708,1006.2 L1709,1006.1 L1710,1006.3 L1711,1006.4 L1712,1006.3 L1713,1006.3 L1714,1006.4 L1715,1006.5 L1716,1006.2 L1717,1006.3 L1718,1006.4 L1719,1006.3 L1720,1006.2 L1721,1006.3 L1722,1006.3 L1723,1006.4 L1724,1006.3 L1725,1006.2 L1726,1006.4 L1727,1006.5 L1728,1006.3 L1729,1006.2 L1730,1006.1 L1731,1005.9 L1732,1006.1 L1733,1006.0 L1734,1006.1 L1735,1006.2 L1736,1006.3 L1737,1006.4 L1738,1006.4 L1739,1006.3 L1740,1006.4 L1741,1006.2 L1742,1006.0 L1743,1005.9 L1744,1006.2 L1745,1006.2 L1746,1006.1 L1747,1006.3 L1748,1006.3 L1749,1006.3 L1750,1006.3 L1751,1006.4 L1752,1006.2 L1753,1006.3 L1754,1006.2 L1755,1006.4 L1756,1006.2 L1757,1006.1 L1758,1006.1 L1759,1006.2 L1760,1006.4 L1761,1006.2 L1762,1006.1 L1763,1006.2 L1764,1006.3 L1765,1006.3 L1766,1006.1 L1767,1006.1 L1768,1006.2 L1769,1006.1 L1770,1006.0 L1771,1006.1 L1772,1006.3 L1773,1006.4 L1774,1006.2 L1775,1006.0 L1776,1006.3 L1777,1006.2 L1778,1006.2 L1779,1006.4 L1780,1006.3 L1781,1006.4 L1782,1006.2 L1783,1006.2 L1784,1006.2 L1785,1006.1 L1786,1006.3 L1787,1006.3 L1788,1006.5 L1789,1006.3 L1790,1006.2 L1791,1006.3 L1792,1006.2 L1793,1006.4 L1794,1006.5 L1795,1006.5 L1796,1006.5 L1797,1006.3 L1798,1006.3 L1799,1006.4 L1800,1006.4 L1801,1006.4 L1802,1006.4 L1803,1006.5 L1804,1006.5 L1805,1006.5 L1806,1006.6 L1807,1006.5 L1808,1006.6 L1809,1006.6 L1810,1006.4 L1811,1006.4 L1812,1006.2 L1813,1006.0 L1814,1006.2 L1815,1006.2 L1816,1006.4 L1817,1006.5 L1818,1006.6 L1819,1006.4 L1820,1006.2 L1821,1006.1 L1822,1006.0 L1823,1006.2 L1824,1006.4 L1825,1006.5 L1826,1006.6 L1827,1006.3 L1828,1006.4 L1829,1006.3 L1830,1006.3 L1831,1006.2 L1832,1006.1 L1833,1006.2 L1834,1006.4 L1835,1006.5 L1836,1006.3 L1837,1006.2 L1838,1006.1 L1839,1006.0 L1840,1006.1 L1841,1006.3 L1842,1006.2 L1843,1006.4 L1844,1006.3 L1845,1006.4 L1846,1006.4 L1847,1006.2 L1848,1006.3 L1849,1006.3 L1850,1006.1 L1851,1006.1 L1852,1006.0 L1853,1006.1 L1854,1006.3 L1855,1006.3 L1856,1006.3 L1857,1006.1 L1858,1006.2 L1859,1006.2 L1860,1006.2 L1861,1006.2 L1862,1006.1 L1863,1006.0 L1864,1006.2 L1865,1006.4 L1866,1006.3 L1867,1006.2 L1868,1006.3 L1869,1006.0 L1870,1005.8 L1871,1006.0 L1872,1005.8 L1873,1005.9 L1874,1006.1 L1875,1006.1 L1876,1005.9 L1877,1005.8 L1878,1005.9 L1879,1005.9 L1880,1006.0 L1881,1005.7 L1882,1005.7 L1883,1005.5 L1884,1005.4 L1885,1005.5 L1886,1005.6 L1887,1005.5 L1888,1005.3 L1889,1005.0 L1890,1004.4 L1891,1004.0 L1892,1003.4 L1893,1002.6 L1894,1001.5 L1895,1000.3 L1896,999.1 L1897,997.9 L1898,996.5 L1899,995.1 L1900,994.1 L1901,993.7 L1902,994.1 L1903,994.9 L1904,996.0 L1905,997.3 L1906,998.5 L1907,1000.0 L1908,1001.3 L1909,1002.1 L1910,1002.9 L1911,1003.8 L1912,1004.2 L1913,1004.8 L1914,1005.1 L1915,1005.4 L1916,1005.6 L1917,1005.8 L1918,1005.9 L1919,1006.0 L1920,1006.0 L1921,1006.0 L1922,1005.9 L1923,1005.8 L1924,1006.0 L1925,1006.1 L1926,1006.0 L1927,1005.8 L1928,1006.0 L1929,1006.0 L1930,1005.9 L1931,1006.1 L1932,1006.1 L1933,1006.0 L1934,1005.9 L1935,1005.9 L1936,1006.2 L1937,1006.1 L1938,1006.2 L1939,1006.1 L1940,1006.2 L1941,1006.3 L1942,1006.4 L1943,1006.1 L1944,1006.0 L1945,1005.9 L1946,1006.1 L1947,1006.2 L1948,1006.2 L1949,1006.4 L1950,1006.4 L1951,1006.3 L1952,1006.1 L1953,1006.2 L1954,1006.2 L1955,1006.3 L1956,1006.2 L1957,1006.3 L1958,1006.4 L1959,1006.1 L1960,1005.9 L1961,1006.2 L1962,1006.0 L1963,1006.0 L1964,1005.8 L1965,1005.8 L1966,1006.0 L1967,1006.2 L1968,1006.0 L1969,1005.9 L1970,1005.9 L1971,1005.8 L1972,1005.7 L1973,1005.9 L1974,1005.8 L1975,1005.8 L1976,1005.6 L1977,1005.5 L1978,1005.6 L1979,1005.6 L1980,1005.3 L1981,1005.1 L1982,1004.5 L1983,1004.0 L1984,1003.6 L1985,1003.0 L1986,1002.7 L1987,1002.1 L1988,1001.4 L1989,1001.2 L1990,1001.3 L1991,1001.3 L1992,1001.8 L1993,1002.2 L1994,1002.7 L1995,1003.1 L1996,1003.6 L1997,1004.2 L1998,1004.5 L1999,1005.0 L2000,1005.1 L2001,1005.5 L2002,1005.6 L2003,1005.8 L2004,1005.9 L2005,1005.9 L2006,1005.7 L2007,1005.7 L2008,1005.8 L2009,1005.7 L2010,1005.8 L2011,1006.0 L2012,1005.8 L2013,1005.9 L2014,1006.1 L2015,1006.1 L2016,1005.9 L2017,1005.9 L2018,1005.8 L2019,1005.8 L2020,1006.0 L2021,1005.9 L2022,1005.9 L2023,1006.0 L2024,1005.9 L2025,1005.7 L2026,1005.7 L2027,1005.7 L2028,1005.6 L2029,1005.5 L2030,1005.6 L2031,1005.6 L2032,1005.3 L2033,1005.2 L2034,1004.8 L2035,1004.4 L2036,1003.8 L2037,1003.2 L2038,1002.4 L2039,1001.4 L2040,1000.5 L2041,999.7 L2042,998.6 L2043,997.8 L2044,996.8 L2045,996.2 L2046,996.1 L2047,996.5 L2048,997.0 L2049,997.9 L2050,998.9 L2051,1000.0 L2052,1001.1 L2053,1002.1 L2054,1002.8 L2055,1003.3 L2056,1003.7 L2057,1004.1 L2058,1004.7 L2059,1005.1 L2060,1005.3 L2061,1005.3 L2062,1005.4 L2063,1005.6 L2064,1005.6 L2065,1005.5 L2066,1005.7 L2067,1005.9 L2068,1006.0 L2069,1005.9 L2070,1005.9 L2071,1005.9 L2072,1006.1 L2073,1005.9 L2074,1005.7 L2075,1006.0 L2076,1006.0 L2077,1005.8 L2078,1005.7 L2079,1006.0 L2080,1006.1 L2081,1006.2 L2082,1006.2 L2083,1006.0 L2084,1006.0 L2085,1005.9 L2086,1005.9 L2087,1005.9 L2088,1005.9 L2089,1005.8 L2090,1005.3 L2091,1005.2 L2092,1004.6 L2093,1004.4 L2094,1003.7 L2095,1003.0 L2096,1002.4 L2097,1001.8 L2098,1001.5 L2099,1001.1 L2100,1001.2 L2101,1001.8 L2102,1002.3 L2103,1002.8 L2104,1003.4 L2105,1004.3 L2106,1004.9 L2107,1005.1 L2108,1005.4 L2109,1005.5 L2110,1005.6 L2111,1005.9 L2112,1005.8 L2113,1005.7 L2114,1006.0 L2115,1006.0 L2116,1005.9 L2117,1005.9 L2118,1006.1 L2119,1006.0 L2120,1005.9 L2121,1006.1 L2122,1006.2 L2123,1006.1 L2124,1006.3 L2125,1006.1 L2126,1006.3 L2127,1006.4 L2128,1006.4 L2129,1006.2 L2130,1006.3 L2131,1006.4 L2132,1006.2 L2133,1006.4 L2134,1006.1 L2135,1006.1 L2136,1006.3 L2137,1006.4 L2138,1006.2 L2139,1006.4 L2140,1006.1 L2141,1006.4 L2142,1006.4 L2143,1006.4 L2144,1006.2 L2145,1006.3 L2146,1006.3 L2147,1006.2 L2148,1006.2 L2149,1006.0 L2150,1006.0 L2151,1006.0 L2152,1006.0 L2153,1006.3 L2154,1006.4 L2155,1006.4 L2156,1006.4 L2157,1006.1 L2158,1006.3 L2159,1006.2 L2160,1006.2 L2161,1006.0 L2162,1006.2 L2163,1006.3 L2164,1006.2 L2165,1006.0 L2166,1006.1 L2167,1006.3 L2168,1006.3 L2169,1006.1 L2170,1006.1 L2171,1006.2 L2172,1006.2 L2173,1006.0 L2174,1006.1 L2175,1006.0 L2176,1006.0 L2177,1005.8 L2178,1005.7 L2179,1006.0 L2180,1006.0 L2181,1006.0 L2182,1005.8 L2183,1005.7 L2184,1005.7 L2185,1005.6 L2186,1005.8 L2187,1005.9 L2188,1006.0 L2189,1005.8 L2190,1005.8 L2191,1005.8 L2192,1005.5 L2193,1005.5 L2194,1005.5 L2195,1005.3 L2196,1004.9 L2197,1004.7 L2198,1004.1 L2199,1003.7 L2200,1003.1 L2201,1002.4 L2202,1001.8 L2203,1001.0 L2204,1000.0 L2205,999.0 L2206,998.0 L2207,997.2 L2208,996.6 L2209,996.4 L2210,996.5 L2211,996.6 L2212,997.1 L2213,998.0 L2214,999.0 L2215,999.9 L2216,1000.9 L2217,1001.8 L2218,1002.6 L2219,1003.1 L2220,1003.8 L2221,1004.3 L2222,1004.6 L2223,1004.8 L2224,1005.1 L2225,1005.5 L2226,1005.4 L2227,1005.7 L2228,1005.7 L2229,1005.7 L2230,1005.7 L2231,1005.9 L2232,1006.1 L2233,1006.2 L2234,1005.9 L2235,1005.8 L2236,1005.8 L2237,1006.0 L2238,1006.1 L2239,1006.1 L2240,1005.9 L2241,1006.1 L2242,1006.0 L2243,1006.1 L2244,1006.1 L2245,1006.0 L2246,1006.0 L2247,1006.0 L2248,1006.0 L2249,1006.1 L2250,1006.0 L2251,1006.1 L2252,1006.1 L2253,1006.1 L2254,1006.2 L2255,1006.2 L2256,1006.4 L2257,1006.1 L2258,1006.3 L2259,1006.4 L2260,1006.4 L2261,1006.2 L2262,1006.2 L2263,1006.3 L2264,1006.1 L2265,1006.0 L2266,1005.9 L2267,1005.9 L2268,1005.9 L2269,1006.0 L2270,1005.9 L2271,1006.2 L2272,1006.3 L2273,1006.2 L2274,1006.3 L2275,1006.4 L2276,1006.2 L2277,1006.1 L2278,1006.0 L2279,1006.1 L2280,1006.1 L2281,1006.2 L2282,1006.4 L2283,1006.2 L2284,1006.3 L2285,1006.1 L2286,1006.3 L2287,1006.2 L2288,1006.4 L2289,1006.3 L2290,1006.2 L2291,1006.3 L2292,1006.4 L2293,1006.5 L2294,1006.4 L2295,1006.3 L2296,1006.4 L2297,1006.3 L2298,1006.4 L2299,1006.4 L2300,1006.5 L2301,1006.4 L2302,1006.2 L2303,1006.1 L2304,1006.3 L2305,1006.4 L2306,1006.5 L2307,1006.6 L2308,1006.4 L2309,1006.4 L2310,1006.5 L2311,1006.3 L2312,1006.3 L2313,1006.1 L2314,1006.1 L2315,1006.3 L2316,1006.5 L2317,1006.5 L2318,1006.3 L2319,1006.3 L2320,1006.2 L2321,1006.3 L2322,1006.4 L2323,1006.2 L2324,1006.4 L2325,1006.4 L2326,1006.5 L2327,1006.2 L2328,1006.5 L2329,1006.6 L2330,1006.4 L2331,1006.3 L2332,1006.4 L2333,1006.3 L2334,1006.2 L2335,1006.4 L2336,1006.3 L2337,1006.4 L2338,1006.4 L2339,1006.2 L2340,1006.1 L2341,1006.3 L2342,1006.4 L2343,1006.5 L2344,1006.4 L2345,1006.3 L2346,1006.4 L2347,1006.4 L2348,1006.2 L2349,1006.2 L2350,1006.3 L2351,1006.3 L2352,1006.3 L2353,1006.3 L2354,1006.3 L2355,1006.3 L2356,1006.3 L2357,1006.3 L2358,1006.3 L2359,1006.3 L2360,1006.3 L2361,1006.3 L2362,1006.3 L2363,1006.3 L2364,1006.3 L2365,1006.3 L2366,1006.3" fill="none" stroke="#0000a0" stroke-width="11.8" stroke-linejoin="round" stroke-linecap="butt"/>
<path d="M245,754.0 L246,753.9 L247,753.9 L248,753.9 L249,753.9 L250,753.9 L251,753.9 L252,753.9 L253,753.9 L254,753.9 L255,753.9 L256,753.9 L257,753.9 L258,753.9 L259,753.9 L260,753.9 L261,753.9 L262,753.9 L263,754.0 L264,754.1 L265,754.2 L266,754.0 L267,753.9 L268,754.1 L269,754.2 L270,754.3 L271,754.3 L272,754.1 L273,754.1 L274,753.9 L275,754.2 L276,753.9 L277,753.6 L278,753.6 L279,753.6 L280,753.5 L281,753.9 L282,753.9 L283,754.2 L284,753.9 L285,753.9 L286,754.1 L287,754.1 L288,753.9 L289,753.9 L290,754.1 L291,753.8 L292,754.1 L293,753.8 L294,753.6 L295,753.6 L296,753.5 L297,753.6 L298,753.9 L299,753.9 L300,753.8 L301,753.7 L302,753.8 L303,753.6 L304,754.0 L305,754.0 L306,754.2 L307,754.2 L308,753.8 L309,754.0 L310,753.7 L311,753.6 L312,753.6 L313,754.0 L314,754.0 L315,753.8 L316,754.1 L317,754.1 L318,754.3 L319,753.9 L320,753.7 L321,753.5 L322,753.5 L323,753.6 L324,754.0 L325,754.0 L326,753.8 L327,753.7 L328,754.0 L329,754.2 L330,754.3 L331,753.9 L332,754.1 L333,754.1 L334,754.0 L335,753.7 L336,754.0 L337,754.1 L338,753.8 L339,754.1 L340,754.2 L341,754.3 L342,753.9 L343,754.0 L344,753.9 L345,754.0 L346,753.7 L347,753.6 L348,753.6 L349,753.7 L350,753.9 L351,753.7 L352,754.0 L353,753.8 L354,753.9 L355,754.0 L356,754.0 L357,754.1 L358,753.9 L359,754.1 L360,754.2 L361,754.3 L362,754.3 L363,753.9 L364,753.8 L365,753.7 L366,753.6 L367,753.8 L368,753.5 L369,753.7 L370,753.7 L371,753.7 L372,753.6 L373,753.5 L374,753.7 L375,753.5 L376,753.6 L377,753.8 L378,753.5 L379,753.4 L380,753.3 L381,753.5 L382,753.3 L383,753.3 L384,753.1 L385,753.1 L386,753.0 L387,753.2 L388,753.2 L389,753.1 L390,753.2 L391,753.3 L392,753.3 L393,753.1 L394,753.2 L395,753.0 L396,753.0 L397,752.9 L398,753.0 L399,753.1 L400,752.8 L401,752.8 L402,752.5 L403,751.8 L404,751.3 L405,749.4 L406,746.5 L407,741.5 L408,733.3 L409,721.3 L410,704.3 L411,681.8 L412,655.8 L413,628.7 L414,604.0 L415,586.5 L416,579.5 L417,584.8 L418,602.7 L419,626.7 L420,652.0 L421,675.2 L422,695.2 L423,710.5 L424,722.2 L425,730.3 L426,735.7 L427,739.3 L428,742.2 L429,743.8 L430,745.4 L431,746.4 L432,747.0 L433,747.5 L434,748.5 L435,749.2 L436,749.8 L437,749.8 L438,750.4 L439,750.3 L440,750.4 L441,750.5 L442,750.5 L443,750.8 L444,750.9 L445,751.1 L446,751.3 L447,751.7 L448,751.7 L449,751.5 L450,751.7 L451,751.7 L452,752.0 L453,752.0 L454,752.0 L455,751.9 L456,752.0 L457,752.1 L458,752.2 L459,752.1 L460,751.8 L461,751.9 L462,751.7 L463,751.7 L464,751.8 L465,751.4 L466,751.2 L467,750.3 L468,748.0 L469,743.7 L470,734.3 L471,717.5 L472,691.0 L473,656.6 L474,619.5 L475,589.9 L476,578.7 L477,591.4 L478,622.0 L479,657.5 L480,688.4 L481,711.5 L482,726.8 L483,735.9 L484,741.1 L485,744.0 L486,745.4 L487,746.6 L488,747.3 L489,748.1 L490,748.8 L491,749.3 L492,749.6 L493,749.7 L494,749.8 L495,749.8 L496,749.8 L497,749.7 L498,749.6 L499,749.7 L500,749.6 L501,749.7 L502,749.7 L503,749.4 L504,749.2 L505,749.3 L506,749.0 L507,749.0 L508,748.7 L509,748.7 L510,748.3 L511,747.7 L512,747.4 L513,746.8 L514,746.2 L515,746.0 L516,745.4 L517,744.6 L518,743.2 L519,742.0 L520,740.5 L521,738.7 L522,736.7 L523,734.2 L524,730.6 L525,725.5 L526,719.0 L527,709.7 L528,697.1 L529,680.0 L530,658.1 L531,630.6 L532,599.7 L533,567.8 L534,542.3 L535,530.9 L536,538.9 L537,562.6 L538,593.8 L539,625.1 L540,652.9 L541,675.3 L542,693.1 L543,706.1 L544,715.9 L545,723.0 L546,728.4 L547,732.6 L548,735.8 L549,737.9 L550,739.8 L551,741.4 L552,742.7 L553,743.5 L554,744.5 L555,745.4 L556,746.0 L557,746.2 L558,746.8 L559,746.7 L560,746.4 L561,746.1 L562,746.4 L563,746.6 L564,747.3 L565,748.5 L566,749.0 L567,750.0 L568,750.4 L569,750.9 L570,751.2 L571,751.2 L572,751.2 L573,751.4 L574,751.7 L575,751.7 L576,751.8 L577,752.0 L578,752.1 L579,752.2 L580,752.3 L581,752.5 L582,752.5 L583,752.6 L584,752.4 L585,752.2 L586,752.2 L587,752.5 L588,752.6 L589,752.5 L590,752.8 L591,752.6 L592,753.0 L593,752.7 L594,752.8 L595,752.7 L596,752.8 L597,752.7 L598,752.9 L599,753.2 L600,753.3 L601,753.1 L602,752.9 L603,753.1 L604,753.2 L605,753.0 L606,753.2 L607,753.4 L608,753.2 L609,753.4 L610,753.5 L611,753.4 L612,753.4 L613,753.1 L614,753.2 L615,753.3 L616,753.5 L617,753.3 L618,753.6 L619,753.8 L620,753.7 L621,753.4 L622,753.6 L623,753.6 L624,753.7 L625,753.8 L626,753.4 L627,753.2 L628,753.6 L629,753.3 L630,753.4 L631,753.6 L632,753.7 L633,753.3 L634,753.6 L635,753.4 L636,753.2 L637,753.1 L638,753.1 L639,753.0 L640,753.4 L641,753.3 L642,753.0 L643,753.1 L644,753.3 L645,753.2 L646,752.7 L647,752.0 L648,750.9 L649,750.0 L650,749.3 L651,748.8 L652,749.1 L653,750.2 L654,751.2 L655,752.0 L656,752.6 L657,752.8 L658,753.4 L659,753.4 L660,753.5 L661,753.6 L662,753.4 L663,753.7 L664,753.5 L665,753.4 L666,753.3 L667,753.2 L668,753.6 L669,753.6 L670,753.4 L671,753.5 L672,753.5 L673,753.8 L674,753.7 L675,754.0 L676,753.9 L677,754.1 L678,754.0 L679,754.1 L680,754.1 L681,754.2 L682,753.9 L683,753.8 L684,753.6 L685,753.5 L686,753.5 L687,753.5 L688,753.6 L689,753.5 L690,753.7 L691,753.8 L692,753.8 L693,754.1 L694,754.1 L695,753.9 L696,753.9 L697,753.9 L698,754.1 L699,754.1 L700,753.8 L701,753.6 L702,753.8 L703,753.5 L704,753.6 L705,753.5 L706,753.8 L707,753.5 L708,753.6 L709,753.9 L710,754.1 L711,754.2 L712,754.3 L713,753.9 L714,753.6 L715,753.8 L716,753.8 L717,753.5 L718,753.6 L719,753.3 L720,753.0 L721,752.8 L722,752.3 L723,751.7 L724,750.8 L725,750.0 L726,749.7 L727,749.9 L728,751.1 L729,752.0 L730,752.7 L731,752.9 L732,753.0 L733,753.1 L734,753.5 L735,753.4 L736,753.7 L737,753.7 L738,753.9 L739,754.1 L740,753.9 L741,753.6 L742,753.7 L743,753.9 L744,753.6 L745,753.6 L746,753.6 L747,753.4 L748,752.6 L749,751.6 L750,750.5 L751,749.3 L752,748.1 L753,747.8 L754,748.5 L755,749.5 L756,750.7 L757,751.6 L758,752.4 L759,752.8 L760,753.0 L761,753.4 L762,753.4 L763,753.5 L764,753.7 L765,753.9 L766,753.9 L767,753.5 L768,753.9 L769,753.5 L770,753.3 L771,753.5 L772,753.5 L773,753.7 L774,754.0 L775,754.1 L776,753.8 L777,753.9 L778,753.8 L779,753.9 L780,754.1 L781,754.0 L782,753.9 L783,753.5 L784,753.6 L785,753.3 L786,753.5 L787,753.4 L788,753.5 L789,753.8 L790,753.5 L791,753.4 L792,753.4 L793,753.5 L794,753.8 L795,753.5 L796,753.7 L797,753.9 L798,753.5 L799,753.6 L800,753.6 L801,753.6 L802,753.5 L803,753.3 L804,753.4 L805,753.5 L806,753.3 L807,753.3 L808,753.0 L809,753.2 L810,753.1 L811,753.0 L812,752.7 L813,752.8 L814,752.5 L815,752.3 L816,752.0 L817,751.8 L818,751.6 L819,751.3 L820,751.2 L821,750.4 L822,749.8 L823,748.6 L824,747.1 L825,744.5 L826,741.6 L827,737.5 L828,732.7 L829,727.0 L830,721.0 L831,714.7 L832,709.3 L833,705.5 L834,704.1 L835,705.9 L836,710.0 L837,715.8 L838,722.1 L839,728.0 L840,733.7 L841,738.7 L842,742.5 L843,745.3 L844,747.6 L845,749.3 L846,750.1 L847,751.0 L848,751.1 L849,751.7 L850,752.1 L851,752.4 L852,752.5 L853,752.9 L854,752.7 L855,753.0 L856,753.2 L857,753.2 L858,753.3 L859,753.3 L860,753.0 L861,753.1 L862,753.0 L863,752.9 L864,752.8 L865,752.7 L866,752.5 L867,751.9 L868,751.3 L869,750.5 L870,749.5 L871,749.1 L872,749.2 L873,750.2 L874,751.2 L875,752.0 L876,752.8 L877,753.0 L878,753.2 L879,753.5 L880,753.5 L881,753.8 L882,753.7 L883,753.8 L884,753.5 L885,753.5 L886,753.6 L887,753.8 L888,754.0 L889,754.1 L890,754.0 L891,754.1 L892,753.7 L893,753.8 L894,753.9 L895,753.9 L896,753.9 L897,754.1 L898,753.9 L899,753.7 L900,753.7 L901,753.9 L902,753.7 L903,754.0 L904,753.8 L905,753.9 L906,754.0 L907,753.7 L908,754.0 L909,754.0 L910,753.9 L911,754.1 L912,753.9 L913,754.1 L914,754.2 L915,753.9 L916,754.1 L917,753.8 L918,754.0 L919,754.0 L920,754.1 L921,753.9 L922,753.8 L923,754.0 L924,754.1 L925,754.0 L926,753.7 L927,753.8 L928,753.7 L929,753.6 L930,753.6 L931,753.5 L932,753.7 L933,753.7 L934,754.0 L935,754.1 L936,754.3 L937,753.9 L938,754.1 L939,754.0 L940,754.1 L941,754.1 L942,754.2 L943,754.1 L944,754.0 L945,753.9 L946,753.8 L947,753.6 L948,753.7 L949,753.7 L950,754.0 L951,754.0 L952,754.0 L953,753.9 L954,754.1 L955,754.0 L956,754.1 L957,753.8 L958,754.0 L959,753.9 L960,754.0 L961,753.8 L962,754.1 L963,753.8 L964,753.9 L965,753.9 L966,753.8 L967,753.5 L968,753.5 L969,753.5 L970,753.7 L971,753.6 L972,753.5 L973,752.8 L974,752.7 L975,751.9 L976,751.5 L977,750.9 L978,750.8 L979,750.8 L980,751.3 L981,752.0 L982,752.5 L983,752.8 L984,753.3 L985,753.4 L986,753.3 L987,753.8 L988,753.5 L989,753.7 L990,753.7 L991,753.5 L992,753.5 L993,753.4 L994,753.4 L995,753.3 L996,753.4 L997,753.5 L998,753.8 L999,753.7 L1000,753.5 L1001,753.9 L1002,753.7 L1003,753.8 L1004,753.9 L1005,754.1 L1006,753.8 L1007,753.8 L1008,754.1 L1009,754.1 L1010,754.2 L1011,754.2 L1012,754.2 L1013,754.1 L1014,754.2 L1015,754.3 L1016,754.0 L1017,753.6 L1018,753.5 L1019,753.8 L1020,753.5 L1021,753.4 L1022,753.3 L1023,753.5 L1024,753.6 L1025,753.5 L1026,753.3 L1027,753.2 L1028,753.5 L1029,753.8 L1030,753.7 L1031,753.5 L1032,753.8 L1033,753.5 L1034,753.7 L1035,753.5 L1036,753.4 L1037,753.2 L1038,753.4 L1039,753.4 L1040,753.6 L1041,753.4 L1042,753.2 L1043,753.0 L1044,753.4 L1045,753.6 L1046,753.2 L1047,752.9 L1048,752.9 L1049,752.8 L1050,753.0 L1051,752.9 L1052,752.7 L1053,752.8 L1054,752.9 L1055,752.9 L1056,752.8 L1057,752.7 L1058,752.7 L1059,752.8 L1060,752.7 L1061,752.6 L1062,752.5 L1063,752.2 L1064,751.7 L1065,751.5 L1066,751.1 L1067,750.8 L1068,750.4 L1069,749.7 L1070,749.4 L1071,748.5 L1072,747.6 L1073,746.0 L1074,743.4 L1075,739.5 L1076,734.4 L1077,726.7 L1078,715.9 L1079,703.0 L1080,687.5 L1081,671.3 L1082,656.5 L1083,645.8 L1084,643.0 L1085,648.9 L1086,661.5 L1087,677.6 L1088,693.6 L1089,708.4 L1090,720.7 L1091,729.9 L1092,736.9 L1093,741.3 L1094,744.5 L1095,746.4 L1096,747.8 L1097,748.5 L1098,749.6 L1099,750.3 L1100,750.6 L1101,751.1 L1102,751.3 L1103,751.7 L1104,751.7 L1105,751.8 L1106,751.8 L1107,751.9 L1108,752.3 L1109,752.6 L1110,752.4 L1111,752.5 L1112,752.9 L1113,752.8 L1114,753.0 L1115,752.9 L1116,753.2 L1117,753.0 L1118,753.2 L1119,752.9 L1120,752.8 L1121,753.1 L1122,753.0 L1123,753.2 L1124,753.0 L1125,753.2 L1126,753.2 L1127,753.0 L1128,753.5 L1129,753.5 L1130,753.2 L1131,753.1 L1132,753.0 L1133,753.2 L1134,753.2 L1135,753.1 L1136,753.3 L1137,753.7 L1138,753.5 L1139,753.3 L1140,753.4 L1141,753.4 L1142,753.8 L1143,753.5 L1144,753.5 L1145,753.7 L1146,753.8 L1147,753.9 L1148,753.8 L1149,753.8 L1150,753.6 L1151,753.4 L1152,753.8 L1153,753.7 L1154,753.5 L1155,753.7 L1156,753.7 L1157,753.9 L1158,753.8 L1159,754.0 L1160,753.7 L1161,754.0 L1162,753.6 L1163,753.5 L1164,753.7 L1165,753.7 L1166,753.8 L1167,753.8 L1168,753.5 L1169,753.4 L1170,753.4 L1171,753.4 L1172,753.4 L1173,753.7 L1174,753.4 L1175,753.7 L1176,753.5 L1177,753.5 L1178,753.3 L1179,753.6 L1180,753.4 L1181,753.2 L1182,753.5 L1183,753.6 L1184,753.4 L1185,753.4 L1186,753.5 L1187,753.4 L1188,753.3 L1189,753.6 L1190,753.2 L1191,753.3 L1192,753.6 L1193,753.4 L1194,753.4 L1195,753.4 L1196,753.3 L1197,753.4 L1198,753.2 L1199,753.3 L1200,753.0 L1201,753.1 L1202,753.1 L1203,752.7 L1204,752.5 L1205,752.5 L1206,752.6 L1207,752.7 L1208,752.5 L1209,752.4 L1210,752.0 L1211,752.2 L1212,751.9 L1213,751.9 L1214,751.5 L1215,751.2 L1216,750.8 L1217,750.5 L1218,749.8 L1219,748.9 L1220,747.5 L1221,745.2 L1222,742.5 L1223,738.5 L1224,733.5 L1225,726.9 L1226,719.5 L1227,710.8 L1228,701.8 L1229,692.7 L1230,685.7 L1231,681.6 L1232,681.3 L1233,685.6 L1234,692.8 L1235,701.8 L1236,710.8 L1237,719.5 L1238,727.2 L1239,733.5 L1240,738.5 L1241,742.1 L1242,744.7 L1243,746.8 L1244,748.2 L1245,749.5 L1246,750.4 L1247,751.0 L1248,751.2 L1249,751.3 L1250,751.5 L1251,751.8 L1252,752.1 L1253,752.0 L1254,752.5 L1255,752.3 L1256,752.3 L1257,752.7 L1258,752.6 L1259,752.6 L1260,752.8 L1261,753.1 L1262,752.8 L1263,753.0 L1264,752.9 L1265,753.2 L1266,753.2 L1267,753.5 L1268,753.6 L1269,753.4 L1270,753.3 L1271,753.3 L1272,753.6 L1273,753.3 L1274,753.3 L1275,753.6 L1276,753.6 L1277,753.5 L1278,753.6 L1279,753.6 L1280,753.8 L1281,753.5 L1282,753.6 L1283,753.4 L1284,753.5 L1285,753.3 L1286,753.6 L1287,753.7 L1288,753.5 L1289,753.7 L1290,753.9 L1291,753.8 L1292,753.6 L1293,753.4 L1294,753.4 L1295,753.4 L1296,753.5 L1297,753.6 L1298,753.6 L1299,753.7 L1300,753.6 L1301,753.3 L1302,753.3 L1303,753.2 L1304,753.5 L1305,753.5 L1306,753.6 L1307,753.3 L1308,753.5 L1309,753.5 L1310,753.7 L1311,753.9 L1312,753.5 L1313,753.5 L1314,753.6 L1315,753.3 L1316,753.5 L1317,753.6 L1318,753.7 L1319,753.5 L1320,753.5 L1321,753.5 L1322,753.0 L1323,752.8 L1324,752.9 L1325,752.7 L1326,752.9 L1327,752.5 L1328,752.1 L1329,751.8 L1330,751.2 L1331,750.6 L1332,749.8 L1333,748.6 L1334,747.1 L1335,745.2 L1336,743.5 L1337,741.7 L1338,740.6 L1339,740.2 L1340,740.9 L1341,741.9 L1342,743.5 L1343,745.1 L1344,746.4 L1345,747.8 L1346,748.9 L1347,749.8 L1348,750.7 L1349,751.4 L1350,751.5 L1351,751.8 L1352,752.0 L1353,752.0 L1354,751.5 L1355,751.2 L1356,751.1 L1357,750.9 L1358,750.7 L1359,750.2 L1360,749.5 L1361,748.7 L1362,747.4 L1363,745.3 L1364,742.1 L1365,737.4 L1366,731.4 L1367,724.5 L1368,715.6 L1369,706.5 L1370,697.3 L1371,689.8 L1372,686.2 L1373,687.0 L1374,692.3 L1375,700.7 L1376,710.2 L1377,719.1 L1378,727.2 L1379,734.1 L1380,739.5 L1381,743.2 L1382,745.7 L1383,747.3 L1384,748.7 L1385,749.3 L1386,750.0 L1387,750.3 L1388,750.2 L1389,750.5 L1390,750.7 L1391,750.6 L1392,750.8 L1393,750.6 L1394,750.0 L1395,749.4 L1396,748.4 L1397,747.2 L1398,745.5 L1399,743.7 L1400,741.4 L1401,738.7 L1402,735.6 L1403,732.6 L1404,730.1 L1405,728.6 L1406,728.1 L1407,728.5 L1408,730.0 L1409,732.6 L1410,735.4 L1411,738.4 L1412,741.5 L1413,743.8 L1414,746.2 L1415,748.0 L1416,749.1 L1417,749.9 L1418,750.6 L1419,751.2 L1420,751.8 L1421,752.2 L1422,752.2 L1423,752.5 L1424,752.9 L1425,753.0 L1426,753.2 L1427,753.3 L1428,753.4 L1429,753.4 L1430,753.5 L1431,753.2 L1432,753.5 L1433,753.5 L1434,753.2 L1435,753.3 L1436,753.3 L1437,753.3 L1438,753.1 L1439,753.4 L1440,753.4 L1441,753.5 L1442,753.7 L1443,753.7 L1444,753.9 L1445,753.8 L1446,753.5 L1447,753.4 L1448,753.7 L1449,753.7 L1450,753.8 L1451,753.7 L1452,753.4 L1453,753.4 L1454,753.7 L1455,753.9 L1456,753.9 L1457,753.8 L1458,753.9 L1459,753.9 L1460,753.8 L1461,753.7 L1462,753.2 L1463,752.6 L1464,752.2 L1465,751.8 L1466,751.3 L1467,750.1 L1468,749.2 L1469,748.8 L1470,748.6 L1471,748.8 L1472,749.6 L1473,750.5 L1474,751.4 L1475,752.2 L1476,752.7 L1477,753.1 L1478,753.3 L1479,753.3 L1480,753.7 L1481,753.5 L1482,753.5 L1483,753.6 L1484,753.4 L1485,753.6 L1486,753.8 L1487,753.9 L1488,754.0 L1489,753.9 L1490,753.8 L1491,753.9 L1492,753.8 L1493,753.7 L1494,753.5 L1495,753.4 L1496,753.7 L1497,753.5 L1498,753.8 L1499,753.8 L1500,754.1 L1501,753.9 L1502,753.8 L1503,753.7 L1504,753.6 L1505,753.9 L1506,754.1 L1507,754.0 L1508,753.9 L1509,754.0 L1510,754.1 L1511,754.1 L1512,753.9 L1513,753.9 L1514,754.0 L1515,754.1 L1516,754.3 L1517,754.1 L1518,754.2 L1519,754.1 L1520,754.2 L1521,754.0 L1522,753.7 L1523,753.8 L1524,753.8 L1525,754.0 L1526,754.1 L1527,753.9 L1528,753.8 L1529,753.8 L1530,753.7 L1531,753.8 L1532,753.7 L1533,753.5 L1534,753.8 L1535,753.7 L1536,753.8 L1537,753.6 L1538,754.0 L1539,754.1 L1540,754.0 L1541,753.7 L1542,753.9 L1543,754.1 L1544,753.8 L1545,753.9 L1546,754.2 L1547,754.1 L1548,753.9 L1549,753.8 L1550,753.7 L1551,753.6 L1552,753.6 L1553,753.6 L1554,753.5 L1555,753.5 L1556,753.8 L1557,754.1 L1558,753.9 L1559,753.9 L1560,753.9 L1561,753.7 L1562,754.0 L1563,753.9 L1564,754.1 L1565,754.0 L1566,753.9 L1567,754.0 L1568,753.8 L1569,754.0 L1570,754.2 L1571,754.1 L1572,753.9 L1573,753.7 L1574,753.8 L1575,753.7 L1576,753.9 L1577,754.0 L1578,754.0 L1579,753.8 L1580,753.7 L1581,753.5 L1582,753.5 L1583,753.7 L1584,753.5 L1585,753.3 L1586,753.5 L1587,753.4 L1588,753.2 L1589,752.8 L1590,752.3 L1591,752.1 L1592,751.9 L1593,751.5 L1594,750.9 L1595,749.7 L1596,749.1 L1597,748.4 L1598,747.7 L1599,747.2 L1600,746.9 L1601,747.0 L1602,747.7 L1603,748.4 L1604,749.0 L1605,749.8 L1606,750.4 L1607,751.1 L1608,751.8 L1609,752.5 L1610,753.0 L1611,753.1 L1612,753.3 L1613,753.4 L1614,753.5 L1615,753.3 L1616,753.5 L1617,753.6 L1618,753.5 L1619,753.6 L1620,753.4 L1621,753.7 L1622,753.7 L1623,753.7 L1624,753.8 L1625,753.8 L1626,754.0 L1627,753.8 L1628,753.8 L1629,753.6 L1630,753.8 L1631,754.0 L1632,753.8 L1633,754.1 L1634,754.1 L1635,753.9 L1636,754.0 L1637,754.1 L1638,754.2 L1639,754.0 L1640,753.9 L1641,753.6 L1642,754.0 L1643,754.1 L1644,753.9 L1645,754.0 L1646,753.7 L1647,754.0 L1648,754.1 L1649,754.3 L1650,754.1 L1651,754.2 L1652,754.3 L1653,754.2 L1654,753.8 L1655,753.9 L1656,753.7 L1657,753.8 L1658,753.6 L1659,753.9 L1660,753.9 L1661,753.8 L1662,753.7 L1663,753.6 L1664,753.8 L1665,754.0 L1666,753.9 L1667,753.7 L1668,753.8 L1669,754.0 L1670,754.0 L1671,753.9 L1672,753.7 L1673,753.6 L1674,753.9 L1675,753.7 L1676,753.7 L1677,753.9 L1678,754.0 L1679,753.8 L1680,753.8 L1681,753.5 L1682,753.5 L1683,753.7 L1684,753.4 L1685,753.3 L1686,753.0 L1687,752.7 L1688,752.3 L1689,751.9 L1690,751.8 L1691,751.2 L1692,750.7 L1693,751.0 L1694,751.0 L1695,751.2 L1696,751.5 L1697,752.1 L1698,752.4 L1699,752.9 L1700,753.0 L1701,753.1 L1702,753.6 L1703,753.5 L1704,753.6 L1705,753.7 L1706,753.9 L1707,753.9 L1708,754.0 L1709,754.1 L1710,754.3 L1711,754.2 L1712,754.3 L1713,754.0 L1714,754.0 L1715,753.8 L1716,753.8 L1717,753.9 L1718,753.8 L1719,754.1 L1720,754.1 L1721,753.8 L1722,753.8 L1723,753.9 L1724,753.7 L1725,753.7 L1726,753.8 L1727,753.7 L1728,753.9 L1729,753.8 L1730,753.7 L1731,753.6 L1732,754.0 L1733,754.0 L1734,754.2 L1735,754.1 L1736,754.0 L1737,754.1 L1738,754.0 L1739,753.8 L1740,753.8 L1741,754.1 L1742,754.1 L1743,754.1 L1744,754.2 L1745,754.1 L1746,754.1 L1747,753.9 L1748,754.2 L1749,754.2 L1750,754.2 L1751,753.9 L1752,754.1 L1753,754.3 L1754,754.2 L1755,753.9 L1756,754.0 L1757,753.9 L1758,754.0 L1759,754.1 L1760,754.1 L1761,754.1 L1762,754.1 L1763,754.2 L1764,754.1 L1765,754.2 L1766,753.9 L1767,753.7 L1768,753.9 L1769,753.7 L1770,754.0 L1771,754.1 L1772,753.8 L1773,753.7 L1774,753.5 L1775,753.7 L1776,754.0 L1777,753.9 L1778,754.1 L1779,754.1 L1780,754.3 L1781,753.9 L1782,753.9 L1783,753.8 L1784,753.8 L1785,753.7 L1786,753.8 L1787,754.2 L1788,754.3 L1789,754.2 L1790,753.9 L1791,753.7 L1792,753.9 L1793,754.1 L1794,754.3 L1795,754.1 L1796,753.8 L1797,753.8 L1798,754.0 L1799,753.8 L1800,753.7 L1801,753.6 L1802,753.5 L1803,753.7 L1804,754.0 L1805,753.9 L1806,754.1 L1807,754.2 L1808,754.4 L1809,754.5 L1810,754.1 L1811,753.9 L1812,754.2 L1813,754.1 L1814,754.2 L1815,754.2 L1816,754.3 L1817,754.3 L1818,754.4 L1819,754.3 L1820,754.0 L1821,753.9 L1822,754.0 L1823,754.0 L1824,754.0 L1825,754.0 L1826,753.7 L1827,753.8 L1828,753.9 L1829,753.8 L1830,754.1 L1831,754.1 L1832,754.0 L1833,754.0 L1834,753.8 L1835,754.0 L1836,753.8 L1837,753.9 L1838,754.0 L1839,753.9 L1840,753.9 L1841,753.7 L1842,754.0 L1843,753.8 L1844,753.9 L1845,754.2 L1846,753.9 L1847,754.1 L1848,754.0 L1849,753.8 L1850,753.9 L1851,753.8 L1852,753.9 L1853,753.6 L1854,753.6 L1855,753.6 L1856,754.0 L1857,753.8 L1858,753.7 L1859,753.5 L1860,753.7 L1861,753.9 L1862,753.8 L1863,753.8 L1864,753.6 L1865,754.0 L1866,753.9 L1867,753.8 L1868,753.8 L1869,754.0 L1870,754.1 L1871,753.8 L1872,753.8 L1873,754.0 L1874,753.7 L1875,753.8 L1876,753.8 L1877,754.0 L1878,753.7 L1879,753.5 L1880,753.7 L1881,753.7 L1882,753.6 L1883,753.3 L1884,753.2 L1885,753.5 L1886,753.1 L1887,753.1 L1888,752.9 L1889,752.8 L1890,752.7 L1891,752.2 L1892,751.8 L1893,751.0 L1894,750.0 L1895,749.2 L1896,747.8 L1897,746.4 L1898,744.6 L1899,743.1 L1900,741.7 L1901,740.4 L1902,739.6 L1903,739.0 L1904,739.3 L1905,740.2 L1906,741.9 L1907,743.6 L1908,745.2 L1909,747.0 L1910,748.4 L1911,749.7 L1912,750.3 L1913,751.3 L1914,752.0 L1915,752.7 L1916,752.8 L1917,752.8 L1918,753.1 L1919,753.3 L1920,753.1 L1921,753.5 L1922,753.8 L1923,753.6 L1924,753.4 L1925,753.6 L1926,753.7 L1927,753.5 L1928,753.6 L1929,753.9 L1930,753.8 L1931,753.7 L1932,753.5 L1933,753.5 L1934,753.6 L1935,753.9 L1936,754.0 L1937,754.1 L1938,754.0 L1939,753.7 L1940,753.8 L1941,754.0 L1942,753.7 L1943,753.7 L1944,753.7 L1945,753.8 L1946,753.9 L1947,754.1 L1948,753.9 L1949,753.7 L1950,753.9 L1951,753.8 L1952,753.9 L1953,754.1 L1954,754.1 L1955,754.0 L1956,754.0 L1957,754.0 L1958,753.7 L1959,753.7 L1960,753.6 L1961,753.9 L1962,753.7 L1963,754.0 L1964,754.0 L1965,753.7 L1966,753.6 L1967,753.9 L1968,753.6 L1969,753.7 L1970,753.7 L1971,753.6 L1972,753.6 L1973,753.7 L1974,753.8 L1975,753.5 L1976,753.3 L1977,753.3 L1978,753.1 L1979,752.8 L1980,752.8 L1981,752.5 L1982,752.4 L1983,751.7 L1984,751.2 L1985,750.9 L1986,750.1 L1987,749.5 L1988,749.0 L1989,748.6 L1990,748.6 L1991,749.0 L1992,749.3 L1993,749.7 L1994,750.6 L1995,751.1 L1996,751.5 L1997,752.2 L1998,752.4 L1999,752.7 L2000,752.8 L2001,753.0 L2002,753.5 L2003,753.4 L2004,753.7 L2005,753.7 L2006,753.8 L2007,753.6 L2008,753.7 L2009,753.5 L2010,753.4 L2011,753.3 L2012,753.4 L2013,753.3 L2014,753.4 L2015,753.5 L2016,753.5 L2017,753.6 L2018,753.6 L2019,753.3 L2020,753.6 L2021,753.8 L2022,753.6 L2023,753.7 L2024,753.4 L2025,753.4 L2026,753.5 L2027,753.3 L2028,752.9 L2029,752.9 L2030,752.9 L2031,752.8 L2032,752.6 L2033,752.2 L2034,751.5 L2035,751.1 L2036,750.0 L2037,748.9 L2038,747.8 L2039,746.9 L2040,745.4 L2041,744.1 L2042,743.0 L2043,742.1 L2044,741.4 L2045,740.8 L2046,741.3 L2047,741.8 L2048,742.8 L2049,743.9 L2050,745.2 L2051,746.6 L2052,748.1 L2053,749.4 L2054,750.1 L2055,751.1 L2056,751.4 L2057,752.1 L2058,752.3 L2059,752.4 L2060,752.6 L2061,753.1 L2062,753.5 L2063,753.3 L2064,753.2 L2065,753.5 L2066,753.7 L2067,753.6 L2068,753.7 L2069,753.7 L2070,753.5 L2071,753.5 L2072,753.3 L2073,753.2 L2074,753.3 L2075,753.5 L2076,753.7 L2077,753.6 L2078,753.6 L2079,753.5 L2080,753.3 L2081,753.5 L2082,753.5 L2083,753.5 L2084,753.5 L2085,753.7 L2086,753.4 L2087,753.4 L2088,753.1 L2089,752.8 L2090,752.8 L2091,752.8 L2092,752.5 L2093,751.9 L2094,751.3 L2095,750.6 L2096,749.7 L2097,749.0 L2098,748.8 L2099,749.1 L2100,749.5 L2101,750.2 L2102,750.5 L2103,751.2 L2104,752.0 L2105,752.4 L2106,752.7 L2107,753.3 L2108,753.5 L2109,753.4 L2110,753.3 L2111,753.6 L2112,753.6 L2113,753.7 L2114,753.8 L2115,753.8 L2116,753.6 L2117,753.7 L2118,753.8 L2119,753.9 L2120,753.6 L2121,753.6 L2122,753.4 L2123,753.5 L2124,753.6 L2125,753.8 L2126,753.9 L2127,753.7 L2128,753.9 L2129,753.7 L2130,753.9 L2131,753.7 L2132,753.9 L2133,754.1 L2134,754.0 L2135,753.9 L2136,754.1 L2137,754.1 L2138,754.2 L2139,753.9 L2140,754.1 L2141,754.2 L2142,754.2 L2143,754.2 L2144,754.1 L2145,753.9 L2146,754.0 L2147,753.8 L2148,753.7 L2149,753.8 L2150,753.9 L2151,753.9 L2152,753.7 L2153,753.8 L2154,753.7 L2155,753.6 L2156,753.8 L2157,753.9 L2158,754.1 L2159,753.9 L2160,753.9 L2161,754.0 L2162,753.9 L2163,753.6 L2164,753.8 L2165,753.6 L2166,753.5 L2167,753.6 L2168,753.6 L2169,753.9 L2170,754.1 L2171,754.2 L2172,754.3 L2173,754.1 L2174,753.9 L2175,753.6 L2176,753.9 L2177,754.1 L2178,753.9 L2179,753.8 L2180,753.7 L2181,753.5 L2182,753.5 L2183,753.6 L2184,753.5 L2185,753.7 L2186,753.8 L2187,753.9 L2188,753.9 L2189,753.7 L2190,753.3 L2191,753.3 L2192,753.4 L2193,753.0 L2194,752.9 L2195,752.7 L2196,752.1 L2197,751.6 L2198,751.1 L2199,750.8 L2200,750.3 L2201,749.3 L2202,748.1 L2203,747.1 L2204,746.4 L2205,745.3 L2206,744.6 L2207,743.9 L2208,743.3 L2209,743.3 L2210,743.7 L2211,744.4 L2212,745.5 L2213,746.4 L2214,747.2 L2215,748.0 L2216,749.2 L2217,750.1 L2218,750.5 L2219,751.1 L2220,752.0 L2221,752.4 L2222,752.7 L2223,753.1 L2224,753.4 L2225,753.1 L2226,753.3 L2227,753.4 L2228,753.3 L2229,753.2 L2230,753.1 L2231,753.1 L2232,753.4 L2233,753.7 L2234,753.8 L2235,753.9 L2236,753.6 L2237,753.5 L2238,753.5 L2239,753.6 L2240,753.8 L2241,753.6 L2242,753.5 L2243,753.7 L2244,753.5 L2245,753.9 L2246,753.8 L2247,753.6 L2248,753.6 L2249,753.7 L2250,753.9 L2251,753.9 L2252,754.1 L2253,754.0 L2254,753.8 L2255,753.9 L2256,754.0 L2257,754.1 L2258,753.9 L2259,754.2 L2260,754.0 L2261,754.2 L2262,754.2 L2263,754.0 L2264,754.2 L2265,754.3 L2266,754.4 L2267,753.9 L2268,754.0 L2269,754.2 L2270,754.1 L2271,754.1 L2272,754.2 L2273,754.1 L2274,754.2 L2275,754.4 L2276,754.1 L2277,753.9 L2278,753.8 L2279,754.1 L2280,753.9 L2281,753.8 L2282,754.0 L2283,753.8 L2284,754.0 L2285,753.8 L2286,754.1 L2287,754.0 L2288,754.1 L2289,753.8 L2290,753.7 L2291,753.9 L2292,754.0 L2293,753.9 L2294,753.9 L2295,754.1 L2296,754.2 L2297,753.9 L2298,754.0 L2299,753.9 L2300,753.7 L2301,754.0 L2302,754.0 L2303,754.0 L2304,754.0 L2305,754.1 L2306,754.2 L2307,754.1 L2308,754.0 L2309,753.7 L2310,754.1 L2311,754.1 L2312,753.8 L2313,753.7 L2314,753.6 L2315,753.7 L2316,754.1 L2317,754.1 L2318,753.8 L2319,753.6 L2320,753.5 L2321,753.7 L2322,753.7 L2323,754.0 L2324,754.2 L2325,754.4 L2326,754.2 L2327,754.3 L2328,754.3 L2329,753.9 L2330,754.2 L2331,754.2 L2332,754.2 L2333,754.0 L2334,754.0 L2335,754.1 L2336,754.1 L2337,753.8 L2338,753.9 L2339,753.7 L2340,754.0 L2341,754.1 L2342,753.9 L2343,754.0 L2344,754.0 L2345,754.2 L2346,753.9 L2347,754.1 L2348,754.3 L2349,754.4 L2350,754.0 L2351,754.0 L2352,754.0 L2353,754.0 L2354,754.0 L2355,754.0 L2356,754.0 L2357,754.0 L2358,754.0 L2359,754.0 L2360,754.0 L2361,754.0 L2362,754.0 L2363,754.0 L2364,754.0 L2365,754.0 L2366,754.0" fill="none" stroke="#ff8000" stroke-width="11.8" stroke-linejoin="round" stroke-linecap="butt"/>
<path d="M245,490.9 L246,490.9 L247,490.9 L248,490.9 L249,490.9 L250,490.9 L251,490.9 L252,490.9 L253,490.9 L254,490.9 L255,490.9 L256,490.9 L257,490.9 L258,490.9 L259,490.9 L260,490.9 L261,490.9 L262,490.9 L263,491.0 L264,490.8 L265,490.8 L266,490.9 L267,490.9 L268,490.8 L269,491.0 L270,491.0 L271,491.1 L272,491.1 L273,491.1 L274,490.9 L275,491.0 L276,490.8 L277,490.8 L278,490.8 L279,490.8 L280,490.9 L281,490.9 L282,491.0 L283,490.9 L284,490.7 L285,490.8 L286,491.0 L287,491.0 L288,491.0 L289,490.8 L290,490.8 L291,491.0 L292,491.0 L293,490.9 L294,490.8 L295,490.7 L296,491.0 L297,490.9 L298,491.0 L299,491.0 L300,490.8 L301,490.7 L302,490.6 L303,490.7 L304,490.7 L305,490.9 L306,490.9 L307,491.0 L308,490.9 L309,491.1 L310,491.1 L311,491.1 L312,491.1 L313,490.9 L314,490.8 L315,490.8 L316,490.8 L317,490.8 L318,491.0 L319,490.9 L320,491.0 L321,491.0 L322,491.1 L323,491.1 L324,491.2 L325,490.9 L326,491.0 L327,491.1 L328,491.0 L329,491.0 L330,491.1 L331,491.1 L332,490.8 L333,490.6 L334,490.8 L335,490.9 L336,490.7 L337,490.6 L338,490.7 L339,490.6 L340,490.6 L341,490.6 L342,490.8 L343,491.0 L344,490.8 L345,490.8 L346,490.7 L347,490.6 L348,490.9 L349,490.9 L350,490.7 L351,490.6 L352,490.5 L353,490.7 L354,490.7 L355,490.6 L356,490.4 L357,490.7 L358,490.6 L359,490.5 L360,490.6 L361,490.6 L362,490.7 L363,490.5 L364,490.4 L365,490.5 L366,490.5 L367,490.7 L368,490.7 L369,490.6 L370,490.6 L371,490.8 L372,490.8 L373,490.8 L374,490.6 L375,490.5 L376,490.4 L377,490.5 L378,490.4 L379,490.5 L380,490.5 L381,490.4 L382,490.5 L383,490.6 L384,490.4 L385,490.4 L386,490.6 L387,490.7 L388,490.6 L389,490.6 L390,490.5 L391,490.5 L392,490.3 L393,490.3 L394,490.3 L395,490.2 L396,490.2 L397,490.2 L398,490.3 L399,490.1 L400,489.9 L401,489.9 L402,489.5 L403,489.2 L404,488.2 L405,486.8 L406,483.8 L407,478.4 L408,469.9 L409,457.1 L410,439.4 L411,417.2 L412,392.8 L413,369.2 L414,350.7 L415,341.5 L416,344.3 L417,359.3 L418,380.7 L419,403.9 L420,425.0 L421,442.3 L422,455.6 L423,465.5 L424,472.1 L425,476.6 L426,479.5 L427,481.3 L428,482.8 L429,483.9 L430,484.9 L431,485.4 L432,485.8 L433,486.4 L434,486.7 L435,487.2 L436,487.4 L437,487.6 L438,488.1 L439,488.1 L440,488.4 L441,488.7 L442,488.7 L443,488.6 L444,488.8 L445,488.7 L446,489.1 L447,489.1 L448,489.1 L449,489.2 L450,489.1 L451,489.0 L452,489.3 L453,489.3 L454,489.3 L455,489.3 L456,489.3 L457,489.1 L458,489.1 L459,489.4 L460,489.3 L461,489.3 L462,489.0 L463,488.8 L464,488.9 L465,488.7 L466,488.5 L467,487.4 L468,485.4 L469,479.9 L470,468.5 L471,447.5 L472,415.7 L473,376.8 L474,340.6 L475,320.4 L476,326.7 L477,356.2 L478,393.7 L479,427.0 L480,451.2 L481,466.6 L482,475.1 L483,479.6 L484,482.2 L485,483.6 L486,484.7 L487,485.4 L488,485.8 L489,486.1 L490,486.5 L491,486.6 L492,487.1 L493,487.3 L494,487.2 L495,487.3 L496,487.3 L497,487.4 L498,487.4 L499,487.4 L500,487.4 L501,487.2 L502,487.1 L503,487.4 L504,487.2 L505,486.9 L506,486.7 L507,486.6 L508,486.5 L509,486.3 L510,486.2 L511,485.8 L512,485.3 L513,484.9 L514,484.6 L515,483.9 L516,483.5 L517,482.7 L518,481.7 L519,480.9 L520,479.7 L521,478.0 L522,476.2 L523,473.8 L524,470.8 L525,466.9 L526,461.3 L527,453.1 L528,442.1 L529,426.4 L530,405.5 L531,379.6 L532,348.6 L533,316.1 L534,289.3 L535,277.1 L536,285.6 L537,310.6 L538,342.5 L539,373.8 L540,400.6 L541,421.9 L542,438.1 L543,450.1 L544,458.4 L545,464.7 L546,469.0 L547,472.5 L548,474.9 L549,476.9 L550,478.5 L551,480.1 L552,481.1 L553,482.0 L554,483.1 L555,483.7 L556,484.4 L557,484.8 L558,485.5 L559,486.0 L560,486.2 L561,486.4 L562,486.6 L563,486.8 L564,487.2 L565,487.5 L566,487.9 L567,487.9 L568,488.0 L569,488.2 L570,488.5 L571,488.4 L572,488.7 L573,488.8 L574,488.7 L575,488.9 L576,488.9 L577,489.0 L578,489.3 L579,489.5 L580,489.4 L581,489.4 L582,489.4 L583,489.4 L584,489.7 L585,489.7 L586,489.8 L587,489.8 L588,489.8 L589,489.9 L590,489.8 L591,489.9 L592,490.1 L593,490.0 L594,490.2 L595,490.3 L596,490.2 L597,490.0 L598,490.1 L599,490.0 L600,490.2 L601,490.2 L602,490.4 L603,490.5 L604,490.5 L605,490.5 L606,490.6 L607,490.3 L608,490.4 L609,490.6 L610,490.4 L611,490.3 L612,490.1 L613,490.2 L614,490.1 L615,490.3 L616,490.2 L617,490.2 L618,490.3 L619,490.4 L620,490.3 L621,490.3 L622,490.4 L623,490.4 L624,490.3 L625,490.2 L626,490.2 L627,490.2 L628,490.3 L629,490.3 L630,490.3 L631,490.4 L632,490.4 L633,490.5 L634,490.5 L635,490.4 L636,490.5 L637,490.4 L638,490.6 L639,490.4 L640,490.6 L641,490.8 L642,490.7 L643,490.7 L644,490.6 L645,490.7 L646,490.8 L647,490.6 L648,490.6 L649,490.7 L650,490.9 L651,490.8 L652,490.8 L653,490.7 L654,490.5 L655,490.6 L656,490.5 L657,490.6 L658,490.7 L659,490.8 L660,490.8 L661,490.6 L662,490.8 L663,490.8 L664,490.6 L665,490.7 L666,490.9 L667,491.0 L668,490.9 L669,490.9 L670,490.7 L671,490.9 L672,490.9 L673,490.8 L674,490.9 L675,491.0 L676,491.1 L677,490.7 L678,490.6 L679,490.4 L680,490.5 L681,490.8 L682,490.7 L683,490.7 L684,490.6 L685,490.9 L686,490.7 L687,490.7 L688,490.5 L689,490.7 L690,490.6 L691,490.8 L692,490.7 L693,490.6 L694,490.7 L695,490.7 L696,490.7 L697,490.9 L698,491.0 L699,490.9 L700,491.0 L701,491.0 L702,490.8 L703,490.7 L704,490.7 L705,490.9 L706,491.0 L707,490.9 L708,491.0 L709,490.9 L710,490.7 L711,490.7 L712,490.9 L713,490.9 L714,490.8 L715,490.7 L716,490.7 L717,490.6 L718,490.8 L719,491.0 L720,491.0 L721,490.8 L722,490.7 L723,490.7 L724,490.7 L725,490.5 L726,490.5 L727,490.6 L728,490.9 L729,490.8 L730,490.9 L731,490.8 L732,490.8 L733,491.0 L734,490.9 L735,490.8 L736,490.7 L737,490.6 L738,490.7 L739,490.6 L740,490.7 L741,490.8 L742,490.8 L743,491.0 L744,491.0 L745,490.9 L746,491.1 L747,490.7 L748,490.8 L749,490.7 L750,490.8 L751,490.7 L752,490.8 L753,490.8 L754,491.0 L755,491.0 L756,490.9 L757,490.7 L758,490.5 L759,490.5 L760,490.6 L761,490.5 L762,490.8 L763,490.6 L764,490.6 L765,490.5 L766,490.6 L767,490.6 L768,490.8 L769,490.9 L770,490.8 L771,490.9 L772,491.0 L773,490.8 L774,490.8 L775,490.9 L776,490.7 L777,490.5 L778,490.4 L779,490.7 L780,490.6 L781,490.8 L782,490.7 L783,490.6 L784,490.7 L785,490.8 L786,490.6 L787,490.5 L788,490.4 L789,490.4 L790,490.6 L791,490.7 L792,490.7 L793,490.7 L794,490.8 L795,490.5 L796,490.5 L797,490.5 L798,490.7 L799,490.7 L800,490.7 L801,490.6 L802,490.6 L803,490.5 L804,490.3 L805,490.2 L806,490.2 L807,490.0 L808,490.1 L809,490.0 L810,490.0 L811,490.0 L812,489.9 L813,489.7 L814,489.8 L815,489.7 L816,489.6 L817,489.6 L818,489.5 L819,489.0 L820,488.6 L821,488.0 L822,487.7 L823,486.9 L824,485.6 L825,483.8 L826,481.3 L827,478.0 L828,473.8 L829,468.8 L830,463.2 L831,457.3 L832,452.5 L833,449.1 L834,447.8 L835,449.4 L836,453.2 L837,458.5 L838,464.4 L839,470.0 L840,474.6 L841,478.7 L842,481.9 L843,484.1 L844,485.7 L845,486.9 L846,487.7 L847,488.4 L848,488.7 L849,489.2 L850,489.5 L851,489.8 L852,489.7 L853,489.7 L854,489.8 L855,490.0 L856,489.9 L857,489.8 L858,489.9 L859,489.9 L860,490.0 L861,490.2 L862,490.2 L863,490.3 L864,490.1 L865,490.1 L866,490.2 L867,490.3 L868,490.2 L869,490.5 L870,490.4 L871,490.5 L872,490.4 L873,490.5 L874,490.6 L875,490.5 L876,490.7 L877,490.7 L878,490.8 L879,490.8 L880,490.7 L881,490.5 L882,490.4 L883,490.6 L884,490.7 L885,490.8 L886,491.0 L887,491.0 L888,490.9 L889,490.7 L890,490.8 L891,490.9 L892,490.7 L893,490.7 L894,490.7 L895,490.7 L896,490.7 L897,490.8 L898,490.8 L899,490.7 L900,490.8 L901,491.0 L902,490.7 L903,490.6 L904,490.7 L905,490.9 L906,491.0 L907,491.0 L908,491.0 L909,490.8 L910,490.6 L911,490.7 L912,490.6 L913,490.7 L914,490.7 L915,490.7 L916,490.8 L917,490.7 L918,490.7 L919,490.7 L920,490.8 L921,490.6 L922,490.6 L923,490.7 L924,490.8 L925,490.7 L926,490.9 L927,491.0 L928,491.1 L929,491.1 L930,490.8 L931,490.9 L932,491.0 L933,490.9 L934,491.1 L935,491.0 L936,491.0 L937,490.9 L938,490.8 L939,491.0 L940,490.8 L941,490.7 L942,490.6 L943,490.5 L944,490.6 L945,490.8 L946,490.8 L947,490.8 L948,490.7 L949,490.9 L950,490.9 L951,491.0 L952,490.8 L953,490.9 L954,490.7 L955,490.7 L956,490.6 L957,490.5 L958,490.5 L959,490.6 L960,490.9 L961,490.7 L962,490.7 L963,490.7 L964,490.6 L965,490.5 L966,490.5 L967,490.6 L968,490.7 L969,490.6 L970,490.8 L971,490.8 L972,491.0 L973,491.0 L974,490.9 L975,491.0 L976,491.0 L977,491.0 L978,491.1 L979,490.9 L980,491.0 L981,490.7 L982,490.9 L983,491.0 L984,490.9 L985,490.7 L986,490.8 L987,490.8 L988,490.9 L989,490.7 L990,490.7 L991,490.8 L992,490.8 L993,490.9 L994,491.0 L995,490.9 L996,490.8 L997,490.7 L998,490.5 L999,490.5 L1000,490.5 L1001,490.7 L1002,490.8 L1003,490.9 L1004,490.9 L1005,490.9 L1006,490.7 L1007,490.8 L1008,490.8 L1009,490.7 L1010,490.5 L1011,490.4 L1012,490.7 L1013,490.9 L1014,491.0 L1015,490.8 L1016,490.6 L1017,490.8 L1018,490.8 L1019,490.7 L1020,490.9 L1021,490.9 L1022,490.7 L1023,490.5 L1024,490.4 L1025,490.5 L1026,490.4 L1027,490.3 L1028,490.5 L1029,490.7 L1030,490.7 L1031,490.4 L1032,490.6 L1033,490.5 L1034,490.5 L1035,490.5 L1036,490.6 L1037,490.5 L1038,490.4 L1039,490.3 L1040,490.5 L1041,490.4 L1042,490.5 L1043,490.5 L1044,490.5 L1045,490.4 L1046,490.5 L1047,490.2 L1048,490.3 L1049,490.3 L1050,490.4 L1051,490.4 L1052,490.3 L1053,490.3 L1054,490.3 L1055,490.3 L1056,490.0 L1057,489.8 L1058,489.8 L1059,489.7 L1060,489.7 L1061,489.4 L1062,489.4 L1063,489.3 L1064,489.0 L1065,488.8 L1066,488.8 L1067,488.3 L1068,488.1 L1069,487.7 L1070,487.0 L1071,486.3 L1072,485.6 L1073,484.3 L1074,482.4 L1075,479.6 L1076,475.3 L1077,468.8 L1078,459.6 L1079,447.8 L1080,433.5 L1081,417.5 L1082,402.9 L1083,392.2 L1084,389.5 L1085,395.8 L1086,408.3 L1087,423.7 L1088,439.4 L1089,452.8 L1090,463.7 L1091,471.7 L1092,477.3 L1093,481.1 L1094,483.6 L1095,485.2 L1096,486.0 L1097,486.9 L1098,487.2 L1099,487.5 L1100,487.9 L1101,488.3 L1102,488.6 L1103,488.7 L1104,488.9 L1105,489.1 L1106,489.3 L1107,489.4 L1108,489.6 L1109,489.5 L1110,489.8 L1111,489.7 L1112,490.0 L1113,490.0 L1114,490.0 L1115,490.2 L1116,490.2 L1117,490.1 L1118,490.1 L1119,490.4 L1120,490.2 L1121,490.4 L1122,490.3 L1123,490.4 L1124,490.4 L1125,490.4 L1126,490.5 L1127,490.6 L1128,490.4 L1129,490.2 L1130,490.5 L1131,490.4 L1132,490.3 L1133,490.2 L1134,490.3 L1135,490.4 L1136,490.5 L1137,490.6 L1138,490.4 L1139,490.4 L1140,490.4 L1141,490.6 L1142,490.4 L1143,490.6 L1144,490.4 L1145,490.6 L1146,490.6 L1147,490.4 L1148,490.4 L1149,490.5 L1150,490.6 L1151,490.5 L1152,490.7 L1153,490.7 L1154,490.8 L1155,490.8 L1156,490.6 L1157,490.8 L1158,490.7 L1159,490.6 L1160,490.7 L1161,490.6 L1162,490.5 L1163,490.5 L1164,490.5 L1165,490.5 L1166,490.7 L1167,490.6 L1168,490.6 L1169,490.6 L1170,490.7 L1171,490.5 L1172,490.7 L1173,490.5 L1174,490.3 L1175,490.2 L1176,490.4 L1177,490.5 L1178,490.6 L1179,490.4 L1180,490.6 L1181,490.4 L1182,490.5 L1183,490.6 L1184,490.4 L1185,490.4 L1186,490.3 L1187,490.3 L1188,490.5 L1189,490.4 L1190,490.2 L1191,490.3 L1192,490.2 L1193,490.4 L1194,490.3 L1195,490.2 L1196,490.1 L1197,490.1 L1198,490.2 L1199,490.3 L1200,490.2 L1201,490.2 L1202,490.1 L1203,489.9 L1204,489.7 L1205,489.6 L1206,489.5 L1207,489.6 L1208,489.4 L1209,489.4 L1210,489.1 L1211,489.0 L1212,488.9 L1213,488.5 L1214,488.4 L1215,488.3 L1216,487.8 L1217,487.2 L1218,486.5 L1219,485.5 L1220,483.8 L1221,481.8 L1222,478.8 L1223,474.5 L1224,469.1 L1225,462.0 L1226,453.9 L1227,444.9 L1228,435.4 L1229,427.1 L1230,421.7 L1231,420.2 L1232,423.5 L1233,430.3 L1234,439.1 L1235,448.4 L1236,457.4 L1237,465.1 L1238,471.3 L1239,476.5 L1240,480.0 L1241,482.9 L1242,484.6 L1243,485.7 L1244,486.7 L1245,487.2 L1246,487.7 L1247,488.2 L1248,488.6 L1249,488.8 L1250,489.1 L1251,489.4 L1252,489.6 L1253,489.4 L1254,489.6 L1255,489.8 L1256,489.8 L1257,490.0 L1258,490.0 L1259,489.9 L1260,489.9 L1261,490.1 L1262,490.3 L1263,490.4 L1264,490.2 L1265,490.1 L1266,490.3 L1267,490.1 L1268,490.3 L1269,490.4 L1270,490.3 L1271,490.2 L1272,490.4 L1273,490.3 L1274,490.2 L1275,490.5 L1276,490.5 L1277,490.5 L1278,490.4 L1279,490.4 L1280,490.3 L1281,490.3 L1282,490.3 L1283,490.4 L1284,490.6 L1285,490.4 L1286,490.3 L1287,490.5 L1288,490.5 L1289,490.6 L1290,490.5 L1291,490.5 L1292,490.7 L1293,490.5 L1294,490.7 L1295,490.7 L1296,490.5 L1297,490.5 L1298,490.4 L1299,490.4 L1300,490.3 L1301,490.4 L1302,490.3 L1303,490.2 L1304,490.2 L1305,490.5 L1306,490.5 L1307,490.5 L1308,490.5 L1309,490.6 L1310,490.6 L1311,490.7 L1312,490.6 L1313,490.7 L1314,490.7 L1315,490.6 L1316,490.5 L1317,490.3 L1318,490.4 L1319,490.5 L1320,490.2 L1321,490.0 L1322,490.2 L1323,490.0 L1324,489.9 L1325,489.9 L1326,490.0 L1327,489.8 L1328,489.7 L1329,489.5 L1330,488.9 L1331,488.6 L1332,487.9 L1333,486.7 L1334,485.6 L1335,484.1 L1336,482.6 L1337,480.8 L1338,479.3 L1339,478.3 L1340,478.2 L1341,478.5 L1342,479.4 L1343,480.9 L1344,482.4 L1345,484.0 L1346,485.5 L1347,486.4 L1348,487.4 L1349,488.0 L1350,488.4 L1351,488.6 L1352,488.4 L1353,488.7 L1354,488.7 L1355,488.5 L1356,488.1 L1357,488.1 L1358,487.7 L1359,487.4 L1360,487.0 L1361,486.1 L1362,485.1 L1363,483.3 L1364,480.9 L1365,477.3 L1366,472.4 L1367,466.3 L1368,458.5 L1369,449.8 L1370,440.7 L1371,432.5 L1372,426.3 L1373,424.4 L1374,427.1 L1375,433.6 L1376,442.3 L1377,451.8 L1378,460.3 L1379,467.8 L1380,473.6 L1381,477.9 L1382,481.3 L1383,483.5 L1384,484.9 L1385,486.1 L1386,486.7 L1387,487.0 L1388,487.4 L1389,487.5 L1390,487.5 L1391,487.5 L1392,487.5 L1393,487.4 L1394,487.2 L1395,486.8 L1396,486.0 L1397,484.6 L1398,482.9 L1399,481.2 L1400,478.9 L1401,476.0 L1402,473.1 L1403,470.4 L1404,467.9 L1405,466.0 L1406,465.2 L1407,465.9 L1408,467.9 L1409,470.6 L1410,473.5 L1411,476.3 L1412,479.0 L1413,481.6 L1414,483.7 L1415,485.5 L1416,486.7 L1417,487.5 L1418,488.2 L1419,488.6 L1420,488.8 L1421,489.0 L1422,489.3 L1423,489.5 L1424,489.7 L1425,490.0 L1426,490.0 L1427,489.8 L1428,490.1 L1429,490.3 L1430,490.1 L1431,490.0 L1432,489.9 L1433,490.2 L1434,490.5 L1435,490.4 L1436,490.5 L1437,490.4 L1438,490.3 L1439,490.2 L1440,490.1 L1441,490.2 L1442,490.2 L1443,490.4 L1444,490.4 L1445,490.6 L1446,490.4 L1447,490.3 L1448,490.3 L1449,490.2 L1450,490.5 L1451,490.6 L1452,490.5 L1453,490.4 L1454,490.5 L1455,490.5 L1456,490.6 L1457,490.4 L1458,490.4 L1459,490.3 L1460,490.2 L1461,490.3 L1462,490.1 L1463,489.9 L1464,489.2 L1465,488.5 L1466,487.8 L1467,487.1 L1468,486.2 L1469,485.9 L1470,485.8 L1471,486.3 L1472,486.8 L1473,487.7 L1474,488.4 L1475,488.9 L1476,489.6 L1477,489.8 L1478,490.0 L1479,490.2 L1480,490.3 L1481,490.5 L1482,490.4 L1483,490.4 L1484,490.5 L1485,490.4 L1486,490.5 L1487,490.5 L1488,490.5 L1489,490.8 L1490,490.7 L1491,490.6 L1492,490.5 L1493,490.6 L1494,490.5 L1495,490.6 L1496,490.6 L1497,490.8 L1498,491.0 L1499,491.1 L1500,490.8 L1501,490.8 L1502,490.7 L1503,490.6 L1504,490.8 L1505,490.9 L1506,490.9 L1507,490.9 L1508,491.1 L1509,491.1 L1510,491.2 L1511,491.1 L1512,490.9 L1513,490.9 L1514,490.7 L1515,490.7 L1516,490.8 L1517,490.6 L1518,490.8 L1519,490.9 L1520,490.7 L1521,490.7 L1522,490.9 L1523,490.8 L1524,490.7 L1525,490.8 L1526,490.9 L1527,490.7 L1528,490.8 L1529,490.8 L1530,490.9 L1531,490.8 L1532,491.0 L1533,490.9 L1534,490.9 L1535,490.7 L1536,490.8 L1537,490.7 L1538,490.8 L1539,490.9 L1540,491.1 L1541,491.1 L1542,490.8 L1543,490.7 L1544,490.7 L1545,490.6 L1546,490.6 L1547,490.7 L1548,490.9 L1549,490.7 L1550,490.6 L1551,490.7 L1552,490.6 L1553,490.7 L1554,490.6 L1555,490.6 L1556,490.6 L1557,490.7 L1558,490.6 L1559,490.7 L1560,490.8 L1561,490.8 L1562,490.6 L1563,490.6 L1564,490.6 L1565,490.5 L1566,490.5 L1567,490.6 L1568,490.5 L1569,490.7 L1570,490.7 L1571,490.8 L1572,491.0 L1573,490.9 L1574,490.8 L1575,490.5 L1576,490.6 L1577,490.5 L1578,490.3 L1579,490.3 L1580,490.5 L1581,490.5 L1582,490.6 L1583,490.5 L1584,490.5 L1585,490.5 L1586,490.5 L1587,490.2 L1588,490.0 L1589,490.1 L1590,489.9 L1591,489.4 L1592,489.2 L1593,488.6 L1594,488.1 L1595,487.5 L1596,486.7 L1597,485.9 L1598,485.2 L1599,484.6 L1600,484.2 L1601,483.9 L1602,484.2 L1603,484.8 L1604,485.3 L1605,485.8 L1606,486.5 L1607,487.3 L1608,487.9 L1609,488.7 L1610,489.2 L1611,489.6 L1612,490.0 L1613,490.1 L1614,490.3 L1615,490.6 L1616,490.5 L1617,490.5 L1618,490.7 L1619,490.7 L1620,490.8 L1621,490.8 L1622,490.9 L1623,490.9 L1624,490.7 L1625,490.5 L1626,490.5 L1627,490.8 L1628,490.8 L1629,490.6 L1630,490.9 L1631,490.9 L1632,490.8 L1633,490.7 L1634,490.6 L1635,490.6 L1636,490.7 L1637,490.6 L1638,490.7 L1639,490.6 L1640,490.6 L1641,490.9 L1642,490.8 L1643,490.8 L1644,490.9 L1645,490.9 L1646,490.9 L1647,491.0 L1648,490.8 L1649,490.9 L1650,491.0 L1651,490.7 L1652,490.6 L1653,490.9 L1654,490.9 L1655,490.8 L1656,490.6 L1657,490.8 L1658,490.7 L1659,490.6 L1660,490.7 L1661,490.9 L1662,490.7 L1663,490.8 L1664,490.7 L1665,490.8 L1666,490.7 L1667,490.9 L1668,490.8 L1669,490.7 L1670,490.8 L1671,490.6 L1672,490.5 L1673,490.6 L1674,490.5 L1675,490.6 L1676,490.8 L1677,490.5 L1678,490.7 L1679,490.6 L1680,490.6 L1681,490.5 L1682,490.3 L1683,490.0 L1684,489.7 L1685,489.6 L1686,489.0 L1687,488.5 L1688,488.2 L1689,487.8 L1690,487.8 L1691,488.0 L1692,488.1 L1693,488.3 L1694,488.6 L1695,489.1 L1696,489.4 L1697,489.7 L1698,490.0 L1699,490.1 L1700,490.1 L1701,490.5 L1702,490.6 L1703,490.7 L1704,490.7 L1705,490.9 L1706,491.0 L1707,491.0 L1708,490.9 L1709,490.9 L1710,490.9 L1711,490.9 L1712,490.7 L1713,490.6 L1714,490.8 L1715,490.9 L1716,490.8 L1717,490.6 L1718,490.9 L1719,491.0 L1720,491.1 L1721,490.9 L1722,490.8 L1723,490.9 L1724,490.9 L1725,491.0 L1726,491.0 L1727,491.1 L1728,490.9 L1729,490.9 L1730,491.0 L1731,491.0 L1732,490.8 L1733,490.6 L1734,490.6 L1735,490.6 L1736,490.7 L1737,490.8 L1738,490.8 L1739,491.0 L1740,491.1 L1741,491.1 L1742,491.2 L1743,491.1 L1744,491.2 L1745,490.9 L1746,490.7 L1747,490.6 L1748,490.8 L1749,491.0 L1750,490.8 L1751,491.0 L1752,491.0 L1753,491.0 L1754,490.8 L1755,490.8 L1756,490.9 L1757,490.8 L1758,490.8 L1759,490.8 L1760,490.9 L1761,490.8 L1762,491.0 L1763,490.9 L1764,491.0 L1765,490.8 L1766,491.0 L1767,491.2 L1768,490.9 L1769,490.9 L1770,490.9 L1771,490.7 L1772,491.0 L1773,490.9 L1774,491.1 L1775,491.1 L1776,491.1 L1777,491.0 L1778,491.0 L1779,490.9 L1780,490.7 L1781,490.8 L1782,490.7 L1783,490.8 L1784,491.0 L1785,491.0 L1786,490.9 L1787,490.9 L1788,491.0 L1789,490.9 L1790,490.8 L1791,490.8 L1792,490.8 L1793,490.8 L1794,490.7 L1795,490.8 L1796,490.7 L1797,490.9 L1798,490.8 L1799,490.7 L1800,490.8 L1801,491.0 L1802,490.8 L1803,490.7 L1804,490.8 L1805,490.7 L1806,490.8 L1807,491.0 L1808,491.0 L1809,490.9 L1810,491.1 L1811,491.0 L1812,490.9 L1813,491.0 L1814,490.9 L1815,490.9 L1816,490.7 L1817,491.0 L1818,491.1 L1819,490.9 L1820,491.0 L1821,491.1 L1822,491.1 L1823,490.9 L1824,490.9 L1825,490.8 L1826,490.9 L1827,490.9 L1828,490.7 L1829,490.8 L1830,490.8 L1831,490.7 L1832,490.8 L1833,490.7 L1834,490.8 L1835,490.9 L1836,490.8 L1837,491.0 L1838,491.1 L1839,491.2 L1840,491.0 L1841,491.1 L1842,491.1 L1843,491.1 L1844,490.8 L1845,491.0 L1846,490.9 L1847,491.1 L1848,491.0 L1849,490.9 L1850,490.7 L1851,490.7 L1852,490.9 L1853,490.8 L1854,490.8 L1855,491.0 L1856,490.8 L1857,490.9 L1858,490.9 L1859,490.7 L1860,490.5 L1861,490.5 L1862,490.5 L1863,490.4 L1864,490.6 L1865,490.8 L1866,490.8 L1867,490.7 L1868,490.8 L1869,490.6 L1870,490.4 L1871,490.7 L1872,490.7 L1873,490.7 L1874,490.5 L1875,490.5 L1876,490.6 L1877,490.5 L1878,490.6 L1879,490.4 L1880,490.6 L1881,490.4 L1882,490.3 L1883,490.2 L1884,490.0 L1885,490.1 L1886,490.0 L1887,489.8 L1888,489.6 L1889,489.3 L1890,488.6 L1891,488.1 L1892,487.3 L1893,486.1 L1894,484.7 L1895,483.3 L1896,481.8 L1897,480.3 L1898,478.9 L1899,477.8 L1900,477.1 L1901,477.0 L1902,477.5 L1903,478.6 L1904,480.1 L1905,481.7 L1906,483.3 L1907,484.4 L1908,485.7 L1909,486.7 L1910,487.6 L1911,488.4 L1912,489.1 L1913,489.4 L1914,489.7 L1915,489.9 L1916,490.1 L1917,490.3 L1918,490.4 L1919,490.6 L1920,490.5 L1921,490.4 L1922,490.6 L1923,490.5 L1924,490.7 L1925,490.7 L1926,490.5 L1927,490.6 L1928,490.7 L1929,490.7 L1930,490.6 L1931,490.4 L1932,490.7 L1933,490.7 L1934,490.7 L1935,490.8 L1936,490.7 L1937,490.6 L1938,490.5 L1939,490.5 L1940,490.7 L1941,490.6 L1942,490.6 L1943,490.8 L1944,490.7 L1945,490.6 L1946,490.6 L1947,490.8 L1948,490.9 L1949,490.8 L1950,490.7 L1951,490.7 L1952,490.8 L1953,490.6 L1954,490.5 L1955,490.7 L1956,490.8 L1957,490.9 L1958,490.9 L1959,490.7 L1960,490.6 L1961,490.5 L1962,490.8 L1963,491.0 L1964,490.7 L1965,490.7 L1966,490.6 L1967,490.6 L1968,490.6 L1969,490.5 L1970,490.7 L1971,490.6 L1972,490.5 L1973,490.5 L1974,490.6 L1975,490.5 L1976,490.6 L1977,490.6 L1978,490.5 L1979,490.3 L1980,490.1 L1981,489.8 L1982,489.7 L1983,489.3 L1984,488.9 L1985,488.6 L1986,487.9 L1987,487.3 L1988,486.9 L1989,486.9 L1990,487.0 L1991,487.2 L1992,487.2 L1993,487.7 L1994,487.9 L1995,488.5 L1996,488.9 L1997,489.4 L1998,489.6 L1999,490.0 L2000,490.3 L2001,490.2 L2002,490.2 L2003,490.5 L2004,490.5 L2005,490.6 L2006,490.6 L2007,490.6 L2008,490.7 L2009,490.5 L2010,490.6 L2011,490.7 L2012,490.7 L2013,490.8 L2014,490.8 L2015,490.9 L2016,490.8 L2017,490.9 L2018,490.8 L2019,490.6 L2020,490.8 L2021,490.7 L2022,490.6 L2023,490.7 L2024,490.8 L2025,490.9 L2026,490.9 L2027,490.8 L2028,490.8 L2029,490.5 L2030,490.5 L2031,490.2 L2032,490.3 L2033,490.0 L2034,489.8 L2035,489.7 L2036,489.4 L2037,488.8 L2038,488.2 L2039,487.8 L2040,486.9 L2041,486.1 L2042,485.0 L2043,484.1 L2044,483.4 L2045,483.0 L2046,482.8 L2047,483.1 L2048,483.4 L2049,484.1 L2050,485.2 L2051,485.9 L2052,486.6 L2053,487.5 L2054,488.2 L2055,488.9 L2056,489.2 L2057,489.4 L2058,489.9 L2059,490.3 L2060,490.3 L2061,490.5 L2062,490.3 L2063,490.5 L2064,490.5 L2065,490.5 L2066,490.4 L2067,490.5 L2068,490.6 L2069,490.6 L2070,490.8 L2071,490.9 L2072,490.9 L2073,491.0 L2074,490.7 L2075,490.8 L2076,490.9 L2077,490.8 L2078,491.0 L2079,490.9 L2080,490.8 L2081,490.6 L2082,490.5 L2083,490.6 L2084,490.6 L2085,490.5 L2086,490.6 L2087,490.7 L2088,490.3 L2089,490.1 L2090,489.9 L2091,489.6 L2092,489.3 L2093,489.0 L2094,488.5 L2095,487.9 L2096,487.1 L2097,486.4 L2098,485.9 L2099,485.9 L2100,485.8 L2101,486.0 L2102,486.5 L2103,487.4 L2104,487.9 L2105,488.5 L2106,489.0 L2107,489.3 L2108,489.6 L2109,489.8 L2110,490.2 L2111,490.4 L2112,490.4 L2113,490.5 L2114,490.5 L2115,490.7 L2116,490.5 L2117,490.7 L2118,490.7 L2119,490.6 L2120,490.8 L2121,490.6 L2122,490.7 L2123,490.6 L2124,490.8 L2125,490.8 L2126,490.6 L2127,490.9 L2128,491.0 L2129,490.8 L2130,490.8 L2131,490.8 L2132,490.8 L2133,490.7 L2134,490.6 L2135,490.9 L2136,490.7 L2137,490.7 L2138,490.7 L2139,490.9 L2140,490.8 L2141,491.0 L2142,491.1 L2143,490.9 L2144,491.0 L2145,491.1 L2146,491.2 L2147,491.2 L2148,490.9 L2149,490.7 L2150,490.9 L2151,491.0 L2152,490.7 L2153,490.6 L2154,490.9 L2155,490.9 L2156,491.0 L2157,491.1 L2158,491.1 L2159,491.0 L2160,490.8 L2161,490.6 L2162,490.6 L2163,490.8 L2164,490.8 L2165,491.0 L2166,490.8 L2167,490.6 L2168,490.8 L2169,490.6 L2170,490.6 L2171,490.6 L2172,490.5 L2173,490.5 L2174,490.6 L2175,490.8 L2176,491.0 L2177,491.0 L2178,491.0 L2179,490.9 L2180,490.9 L2181,490.9 L2182,490.9 L2183,490.9 L2184,490.9 L2185,490.7 L2186,490.8 L2187,490.6 L2188,490.5 L2189,490.6 L2190,490.6 L2191,490.5 L2192,490.3 L2193,490.3 L2194,490.2 L2195,490.2 L2196,489.8 L2197,489.6 L2198,489.5 L2199,489.0 L2200,488.6 L2201,487.8 L2202,487.2 L2203,486.5 L2204,485.8 L2205,484.7 L2206,484.0 L2207,483.3 L2208,482.4 L2209,481.9 L2210,481.6 L2211,481.9 L2212,482.5 L2213,483.2 L2214,484.1 L2215,484.9 L2216,485.8 L2217,486.3 L2218,487.0 L2219,487.6 L2220,488.1 L2221,488.6 L2222,489.2 L2223,489.7 L2224,489.9 L2225,489.9 L2226,489.9 L2227,489.9 L2228,490.0 L2229,490.1 L2230,490.1 L2231,490.3 L2232,490.6 L2233,490.5 L2234,490.5 L2235,490.4 L2236,490.3 L2237,490.4 L2238,490.5 L2239,490.6 L2240,490.8 L2241,490.6 L2242,490.7 L2243,490.6 L2244,490.7 L2245,490.8 L2246,490.7 L2247,490.6 L2248,490.8 L2249,490.9 L2250,490.7 L2251,490.9 L2252,490.8 L2253,490.7 L2254,490.6 L2255,490.5 L2256,490.8 L2257,490.9 L2258,490.8 L2259,490.8 L2260,490.8 L2261,490.9 L2262,491.0 L2263,490.8 L2264,490.7 L2265,490.7 L2266,490.8 L2267,491.0 L2268,491.0 L2269,490.8 L2270,490.7 L2271,490.9 L2272,490.8 L2273,491.0 L2274,491.0 L2275,491.1 L2276,491.0 L2277,491.0 L2278,491.0 L2279,490.9 L2280,491.1 L2281,491.1 L2282,491.1 L2283,491.0 L2284,490.9 L2285,490.8 L2286,490.8 L2287,490.8 L2288,491.0 L2289,490.8 L2290,490.7 L2291,490.8 L2292,490.7 L2293,490.7 L2294,490.9 L2295,490.7 L2296,490.6 L2297,490.8 L2298,490.9 L2299,490.9 L2300,490.9 L2301,491.1 L2302,490.8 L2303,491.0 L2304,490.8 L2305,490.9 L2306,491.0 L2307,490.8 L2308,490.9 L2309,490.8 L2310,490.6 L2311,490.6 L2312,490.6 L2313,490.6 L2314,490.6 L2315,490.7 L2316,490.8 L2317,490.9 L2318,491.0 L2319,491.1 L2320,490.9 L2321,491.0 L2322,491.1 L2323,491.2 L2324,490.9 L2325,491.0 L2326,491.1 L2327,491.0 L2328,491.0 L2329,491.0 L2330,491.1 L2331,491.0 L2332,490.9 L2333,491.1 L2334,490.8 L2335,490.7 L2336,490.8 L2337,490.7 L2338,490.8 L2339,490.8 L2340,490.7 L2341,490.9 L2342,491.0 L2343,490.8 L2344,490.9 L2345,490.9 L2346,491.1 L2347,490.9 L2348,491.1 L2349,490.9 L2350,490.9 L2351,490.9 L2352,490.9 L2353,490.9 L2354,490.9 L2355,490.9 L2356,490.9 L2357,490.9 L2358,490.9 L2359,490.9 L2360,490.9 L2361,490.9 L2362,490.9 L2363,490.9 L2364,490.9 L2365,490.9 L2366,490.9" fill="none" stroke="#008000" stroke-width="11.8" stroke-linejoin="round" stroke-linecap="butt"/>
<path d="M245,245.8 L246,245.8 L247,245.8 L248,245.8 L249,245.8 L250,245.8 L251,245.8 L252,245.8 L253,245.8 L254,245.8 L255,245.8 L256,245.8 L257,245.8 L258,245.8 L259,245.8 L260,245.8 L261,245.8 L262,245.8 L263,245.8 L264,246.0 L265,245.9 L266,245.7 L267,245.9 L268,246.0 L269,246.1 L270,245.9 L271,245.7 L272,245.6 L273,245.8 L274,245.9 L275,245.8 L276,245.9 L277,245.9 L278,245.8 L279,245.8 L280,246.0 L281,246.0 L282,246.1 L283,246.2 L284,245.9 L285,245.8 L286,245.7 L287,245.7 L288,245.7 L289,245.9 L290,246.1 L291,245.8 L292,245.8 L293,245.9 L294,245.8 L295,246.0 L296,245.9 L297,245.8 L298,246.0 L299,246.0 L300,245.9 L301,245.7 L302,245.6 L303,245.8 L304,245.8 L305,245.6 L306,245.8 L307,245.8 L308,245.8 L309,245.6 L310,245.7 L311,245.8 L312,245.8 L313,245.9 L314,246.0 L315,245.8 L316,245.9 L317,245.7 L318,245.9 L319,245.7 L320,245.7 L321,245.8 L322,245.6 L323,245.6 L324,245.8 L325,245.9 L326,246.0 L327,245.8 L328,245.8 L329,245.8 L330,245.8 L331,245.6 L332,245.8 L333,245.7 L334,245.6 L335,245.5 L336,245.7 L337,245.6 L338,245.5 L339,245.7 L340,245.9 L341,246.0 L342,246.0 L343,245.9 L344,245.8 L345,245.7 L346,245.8 L347,245.7 L348,245.7 L349,245.6 L350,245.6 L351,245.7 L352,245.5 L353,245.6 L354,245.5 L355,245.4 L356,245.6 L357,245.7 L358,245.6 L359,245.5 L360,245.7 L361,245.7 L362,245.5 L363,245.4 L364,245.4 L365,245.6 L366,245.8 L367,245.8 L368,245.6 L369,245.7 L370,245.6 L371,245.7 L372,245.6 L373,245.6 L374,245.7 L375,245.9 L376,245.9 L377,245.8 L378,245.9 L379,245.7 L380,245.7 L381,245.5 L382,245.6 L383,245.8 L384,245.5 L385,245.6 L386,245.6 L387,245.6 L388,245.7 L389,245.7 L390,245.7 L391,245.7 L392,245.5 L393,245.3 L394,245.3 L395,245.2 L396,245.3 L397,245.4 L398,245.3 L399,245.1 L400,244.9 L401,244.6 L402,244.3 L403,243.8 L404,242.9 L405,241.0 L406,238.3 L407,233.7 L408,227.1 L409,217.9 L410,206.1 L411,191.7 L412,175.7 L413,159.7 L414,145.1 L415,134.2 L416,129.1 L417,130.7 L418,139.4 L419,152.7 L420,167.8 L421,182.7 L422,196.3 L423,207.9 L424,217.0 L425,224.1 L426,229.0 L427,232.5 L428,235.0 L429,236.8 L430,238.0 L431,239.1 L432,239.9 L433,240.5 L434,240.9 L435,241.2 L436,241.8 L437,242.1 L438,242.3 L439,242.6 L440,243.0 L441,243.1 L442,243.3 L443,243.4 L444,243.4 L445,243.3 L446,243.5 L447,243.8 L448,243.9 L449,243.9 L450,244.1 L451,243.9 L452,244.1 L453,243.9 L454,243.8 L455,243.9 L456,243.8 L457,244.1 L458,244.1 L459,244.1 L460,244.1 L461,243.8 L462,243.7 L463,243.8 L464,243.6 L465,243.2 L466,243.0 L467,241.9 L468,239.1 L469,233.3 L470,222.3 L471,204.1 L472,178.6 L473,149.8 L474,124.4 L475,110.7 L476,114.9 L477,135.3 L478,162.6 L479,188.2 L480,208.1 L481,221.7 L482,229.8 L483,234.5 L484,236.8 L485,238.5 L486,239.5 L487,240.0 L488,240.6 L489,241.0 L490,241.1 L491,241.4 L492,241.7 L493,241.7 L494,241.8 L495,241.8 L496,241.7 L497,241.7 L498,241.9 L499,241.8 L500,241.7 L501,241.7 L502,241.7 L503,241.4 L504,241.3 L505,241.1 L506,240.8 L507,240.5 L508,240.4 L509,239.9 L510,239.7 L511,239.3 L512,238.9 L513,238.2 L514,237.8 L515,236.9 L516,236.0 L517,234.9 L518,233.9 L519,232.6 L520,231.1 L521,229.0 L522,226.4 L523,223.4 L524,219.5 L525,214.3 L526,208.2 L527,200.4 L528,190.7 L529,179.2 L530,166.2 L531,151.6 L532,136.5 L533,122.3 L534,111.5 L535,105.9 L536,107.5 L537,115.6 L538,128.3 L539,142.9 L540,157.7 L541,171.8 L542,184.0 L543,194.3 L544,202.9 L545,209.9 L546,215.6 L547,220.3 L548,223.9 L549,227.0 L550,229.3 L551,231.2 L552,233.0 L553,234.3 L554,235.4 L555,236.2 L556,237.0 L557,237.9 L558,238.4 L559,238.8 L560,239.4 L561,240.0 L562,240.3 L563,240.5 L564,240.9 L565,241.4 L566,241.6 L567,241.7 L568,241.9 L569,242.2 L570,242.2 L571,242.5 L572,242.9 L573,243.2 L574,243.3 L575,243.4 L576,243.3 L577,243.5 L578,243.6 L579,243.8 L580,243.9 L581,244.1 L582,244.2 L583,244.2 L584,244.0 L585,244.1 L586,244.0 L587,244.1 L588,244.4 L589,244.5 L590,244.4 L591,244.6 L592,244.5 L593,244.5 L594,244.4 L595,244.5 L596,244.5 L597,244.7 L598,244.8 L599,244.7 L600,244.6 L601,244.6 L602,244.7 L603,244.7 L604,245.0 L605,245.2 L606,245.0 L607,245.0 L608,245.1 L609,245.2 L610,245.3 L611,245.1 L612,245.1 L613,245.0 L614,245.1 L615,244.9 L616,245.1 L617,245.3 L618,245.4 L619,245.2 L620,245.4 L621,245.3 L622,245.4 L623,245.6 L624,245.6 L625,245.6 L626,245.7 L627,245.6 L628,245.3 L629,245.4 L630,245.3 L631,245.3 L632,245.3 L633,245.5 L634,245.6 L635,245.5 L636,245.4 L637,245.3 L638,245.4 L639,245.5 L640,245.3 L641,245.5 L642,245.6 L643,245.6 L644,245.6 L645,245.7 L646,245.6 L647,245.6 L648,245.5 L649,245.4 L650,245.3 L651,245.5 L652,245.4 L653,245.5 L654,245.7 L655,245.8 L656,245.8 L657,245.6 L658,245.8 L659,245.7 L660,245.8 L661,245.8 L662,245.7 L663,245.7 L664,245.8 L665,245.6 L666,245.6 L667,245.7 L668,245.8 L669,245.7 L670,245.5 L671,245.6 L672,245.6 L673,245.8 L674,245.5 L675,245.4 L676,245.6 L677,245.6 L678,245.4 L679,245.4 L680,245.5 L681,245.7 L682,245.6 L683,245.6 L684,245.5 L685,245.7 L686,245.8 L687,245.6 L688,245.7 L689,245.5 L690,245.6 L691,245.7 L692,245.6 L693,245.7 L694,245.6 L695,245.6 L696,245.7 L697,245.5 L698,245.5 L699,245.5 L700,245.5 L701,245.5 L702,245.5 L703,245.6 L704,245.7 L705,245.9 L706,246.0 L707,245.7 L708,245.7 L709,245.6 L710,245.8 L711,245.7 L712,245.7 L713,245.6 L714,245.5 L715,245.5 L716,245.7 L717,245.5 L718,245.8 L719,245.8 L720,245.7 L721,245.5 L722,245.6 L723,245.9 L724,245.8 L725,245.8 L726,245.9 L727,246.0 L728,245.9 L729,246.0 L730,245.8 L731,245.6 L732,245.7 L733,245.5 L734,245.5 L735,245.6 L736,245.6 L737,245.5 L738,245.4 L739,245.4 L740,245.5 L741,245.6 L742,245.7 L743,245.7 L744,245.7 L745,245.6 L746,245.8 L747,245.9 L748,245.6 L749,245.7 L750,245.6 L751,245.7 L752,245.6 L753,245.6 L754,245.6 L755,245.5 L756,245.7 L757,245.6 L758,245.5 L759,245.7 L760,245.7 L761,245.5 L762,245.8 L763,245.5 L764,245.4 L765,245.6 L766,245.7 L767,245.7 L768,245.8 L769,245.6 L770,245.6 L771,245.5 L772,245.4 L773,245.5 L774,245.6 L775,245.6 L776,245.5 L777,245.6 L778,245.7 L779,245.9 L780,245.7 L781,245.7 L782,245.6 L783,245.7 L784,245.6 L785,245.6 L786,245.6 L787,245.7 L788,245.6 L789,245.6 L790,245.6 L791,245.5 L792,245.4 L793,245.4 L794,245.4 L795,245.4 L796,245.2 L797,245.1 L798,245.1 L799,245.3 L800,245.3 L801,245.2 L802,245.1 L803,245.1 L804,245.3 L805,245.2 L806,245.1 L807,245.1 L808,245.1 L809,245.2 L810,245.2 L811,245.0 L812,244.8 L813,244.7 L814,244.4 L815,244.4 L816,244.1 L817,243.8 L818,243.6 L819,243.5 L820,243.0 L821,242.7 L822,242.3 L823,241.3 L824,240.4 L825,239.3 L826,238.2 L827,236.6 L828,234.7 L829,232.6 L830,230.3 L831,228.0 L832,226.1 L833,224.5 L834,223.4 L835,223.1 L836,223.9 L837,225.0 L838,227.0 L839,229.1 L840,231.3 L841,233.5 L842,235.6 L843,237.1 L844,238.6 L845,240.0 L846,241.0 L847,241.7 L848,242.5 L849,243.1 L850,243.6 L851,244.0 L852,244.1 L853,244.2 L854,244.3 L855,244.3 L856,244.6 L857,244.7 L858,244.8 L859,244.9 L860,244.8 L861,245.0 L862,245.3 L863,245.4 L864,245.1 L865,245.3 L866,245.3 L867,245.5 L868,245.3 L869,245.5 L870,245.3 L871,245.2 L872,245.4 L873,245.4 L874,245.3 L875,245.5 L876,245.5 L877,245.6 L878,245.6 L879,245.4 L880,245.3 L881,245.2 L882,245.4 L883,245.4 L884,245.4 L885,245.6 L886,245.8 L887,245.6 L888,245.8 L889,245.5 L890,245.4 L891,245.4 L892,245.4 L893,245.5 L894,245.6 L895,245.6 L896,245.7 L897,245.7 L898,245.9 L899,245.7 L900,245.6 L901,245.7 L902,245.8 L903,245.9 L904,246.0 L905,246.0 L906,245.7 L907,245.8 L908,245.8 L909,245.7 L910,245.8 L911,245.6 L912,245.6 L913,245.7 L914,245.9 L915,245.7 L916,245.6 L917,245.6 L918,245.6 L919,245.7 L920,245.6 L921,245.8 L922,245.6 L923,245.5 L924,245.5 L925,245.8 L926,245.9 L927,245.7 L928,245.6 L929,245.8 L930,245.9 L931,246.0 L932,246.0 L933,245.9 L934,245.8 L935,245.6 L936,245.7 L937,245.7 L938,245.6 L939,245.6 L940,245.9 L941,246.0 L942,245.8 L943,245.9 L944,245.8 L945,245.7 L946,245.9 L947,245.8 L948,245.9 L949,245.8 L950,245.9 L951,245.8 L952,245.7 L953,245.6 L954,245.7 L955,245.6 L956,245.7 L957,245.9 L958,245.9 L959,246.0 L960,245.9 L961,245.8 L962,245.9 L963,245.7 L964,245.7 L965,245.9 L966,246.0 L967,246.1 L968,246.0 L969,246.0 L970,246.0 L971,245.8 L972,245.8 L973,245.9 L974,245.8 L975,245.8 L976,245.9 L977,245.8 L978,245.9 L979,245.8 L980,245.7 L981,245.8 L982,245.8 L983,245.8 L984,245.9 L985,245.9 L986,245.9 L987,245.7 L988,245.7 L989,245.6 L990,245.7 L991,245.5 L992,245.5 L993,245.5 L994,245.4 L995,245.5 L996,245.7 L997,245.6 L998,245.7 L999,245.9 L1000,246.0 L1001,245.7 L1002,245.6 L1003,245.7 L1004,245.7 L1005,245.8 L1006,245.7 L1007,245.6 L1008,245.5 L1009,245.7 L1010,245.6 L1011,245.4 L1012,245.5 L1013,245.4 L1014,245.3 L1015,245.4 L1016,245.3 L1017,245.3 L1018,245.3 L1019,245.3 L1020,245.6 L1021,245.7 L1022,245.6 L1023,245.6 L1024,245.5 L1025,245.4 L1026,245.4 L1027,245.3 L1028,245.3 L1029,245.5 L1030,245.5 L1031,245.4 L1032,245.3 L1033,245.4 L1034,245.4 L1035,245.4 L1036,245.4 L1037,245.5 L1038,245.3 L1039,245.4 L1040,245.5 L1041,245.2 L1042,245.2 L1043,245.2 L1044,245.0 L1045,245.1 L1046,245.1 L1047,244.9 L1048,245.1 L1049,245.1 L1050,245.0 L1051,244.9 L1052,244.7 L1053,244.8 L1054,244.7 L1055,244.6 L1056,244.5 L1057,244.2 L1058,244.2 L1059,244.3 L1060,244.1 L1061,244.1 L1062,243.7 L1063,243.7 L1064,243.5 L1065,243.1 L1066,242.8 L1067,242.4 L1068,242.1 L1069,241.6 L1070,241.0 L1071,240.2 L1072,239.4 L1073,238.0 L1074,236.1 L1075,233.6 L1076,230.0 L1077,224.7 L1078,217.5 L1079,208.4 L1080,196.9 L1081,183.5 L1082,170.0 L1083,158.5 L1084,153.0 L1085,155.3 L1086,164.7 L1087,177.9 L1088,191.5 L1089,204.1 L1090,214.3 L1091,222.3 L1092,228.0 L1093,232.1 L1094,235.0 L1095,237.3 L1096,238.7 L1097,239.6 L1098,240.3 L1099,241.0 L1100,241.6 L1101,242.0 L1102,242.4 L1103,242.7 L1104,243.0 L1105,243.3 L1106,243.7 L1107,243.7 L1108,243.8 L1109,243.9 L1110,244.2 L1111,244.2 L1112,244.4 L1113,244.4 L1114,244.6 L1115,244.7 L1116,244.9 L1117,245.1 L1118,245.2 L1119,245.1 L1120,244.9 L1121,245.0 L1122,244.8 L1123,245.0 L1124,244.9 L1125,245.2 L1126,245.0 L1127,245.1 L1128,245.2 L1129,245.2 L1130,245.4 L1131,245.5 L1132,245.3 L1133,245.2 L1134,245.1 L1135,245.2 L1136,245.2 L1137,245.4 L1138,245.6 L1139,245.7 L1140,245.5 L1141,245.4 L1142,245.6 L1143,245.4 L1144,245.5 L1145,245.4 L1146,245.5 L1147,245.6 L1148,245.5 L1149,245.5 L1150,245.3 L1151,245.3 L1152,245.3 L1153,245.2 L1154,245.4 L1155,245.3 L1156,245.2 L1157,245.4 L1158,245.4 L1159,245.6 L1160,245.3 L1161,245.3 L1162,245.5 L1163,245.4 L1164,245.3 L1165,245.3 L1166,245.3 L1167,245.2 L1168,245.3 L1169,245.4 L1170,245.6 L1171,245.5 L1172,245.3 L1173,245.3 L1174,245.2 L1175,245.4 L1176,245.3 L1177,245.2 L1178,245.3 L1179,245.1 L1180,245.3 L1181,245.1 L1182,245.2 L1183,245.4 L1184,245.4 L1185,245.2 L1186,245.3 L1187,245.3 L1188,245.1 L1189,244.9 L1190,245.0 L1191,245.1 L1192,244.9 L1193,244.8 L1194,244.8 L1195,245.0 L1196,244.9 L1197,245.0 L1198,244.8 L1199,244.6 L1200,244.7 L1201,244.7 L1202,244.7 L1203,244.6 L1204,244.4 L1205,244.4 L1206,244.2 L1207,244.0 L1208,243.8 L1209,243.8 L1210,243.5 L1211,243.4 L1212,243.2 L1213,242.8 L1214,242.5 L1215,241.8 L1216,241.2 L1217,240.6 L1218,239.6 L1219,238.2 L1220,236.8 L1221,234.8 L1222,232.5 L1223,229.7 L1224,226.6 L1225,223.1 L1226,219.2 L1227,214.8 L1228,211.0 L1229,207.2 L1230,204.6 L1231,203.4 L1232,203.8 L1233,205.6 L1234,208.7 L1235,212.6 L1236,216.7 L1237,220.9 L1238,224.5 L1239,227.8 L1240,230.7 L1241,233.3 L1242,235.3 L1243,237.3 L1244,238.8 L1245,239.9 L1246,240.9 L1247,241.4 L1248,242.0 L1249,242.4 L1250,242.8 L1251,243.1 L1252,243.2 L1253,243.3 L1254,243.4 L1255,243.8 L1256,243.8 L1257,244.0 L1258,244.2 L1259,244.2 L1260,244.2 L1261,244.5 L1262,244.4 L1263,244.5 L1264,244.7 L1265,244.6 L1266,244.6 L1267,244.8 L1268,245.0 L1269,245.0 L1270,245.1 L1271,245.1 L1272,245.2 L1273,245.3 L1274,245.2 L1275,245.3 L1276,245.2 L1277,245.2 L1278,245.3 L1279,245.3 L1280,245.4 L1281,245.3 L1282,245.1 L1283,245.3 L1284,245.3 L1285,245.5 L1286,245.2 L1287,245.2 L1288,245.4 L1289,245.3 L1290,245.3 L1291,245.2 L1292,245.4 L1293,245.5 L1294,245.3 L1295,245.1 L1296,245.4 L1297,245.2 L1298,245.2 L1299,245.4 L1300,245.4 L1301,245.6 L1302,245.6 L1303,245.5 L1304,245.6 L1305,245.3 L1306,245.4 L1307,245.2 L1308,245.2 L1309,245.3 L1310,245.5 L1311,245.2 L1312,245.0 L1313,244.9 L1314,244.8 L1315,244.7 L1316,244.9 L1317,244.8 L1318,244.9 L1319,244.9 L1320,245.0 L1321,245.0 L1322,244.9 L1323,245.0 L1324,245.0 L1325,244.6 L1326,244.6 L1327,244.3 L1328,244.2 L1329,243.9 L1330,243.8 L1331,243.6 L1332,243.1 L1333,242.3 L1334,241.7 L1335,240.9 L1336,240.0 L1337,239.0 L1338,237.8 L1339,236.9 L1340,236.4 L1341,236.3 L1342,236.4 L1343,237.0 L1344,237.9 L1345,238.8 L1346,239.5 L1347,240.3 L1348,240.9 L1349,241.2 L1350,241.5 L1351,241.8 L1352,242.2 L1353,242.4 L1354,242.6 L1355,242.4 L1356,242.2 L1357,241.9 L1358,241.6 L1359,241.0 L1360,240.6 L1361,239.9 L1362,238.6 L1363,237.2 L1364,235.3 L1365,232.6 L1366,229.4 L1367,225.4 L1368,220.5 L1369,214.6 L1370,208.5 L1371,202.3 L1372,196.5 L1373,192.4 L1374,191.2 L1375,193.1 L1376,197.6 L1377,203.5 L1378,209.9 L1379,215.9 L1380,221.5 L1381,226.2 L1382,230.0 L1383,233.0 L1384,235.5 L1385,237.0 L1386,238.5 L1387,239.3 L1388,240.1 L1389,240.7 L1390,241.0 L1391,240.9 L1392,240.8 L1393,240.7 L1394,240.7 L1395,240.3 L1396,239.8 L1397,238.9 L1398,238.1 L1399,236.9 L1400,235.3 L1401,233.7 L1402,231.9 L1403,230.0 L1404,228.2 L1405,226.8 L1406,225.7 L1407,225.2 L1408,225.6 L1409,226.9 L1410,228.5 L1411,230.3 L1412,232.5 L1413,234.6 L1414,236.2 L1415,237.6 L1416,239.0 L1417,240.0 L1418,241.0 L1419,241.8 L1420,242.3 L1421,242.7 L1422,243.3 L1423,243.5 L1424,243.8 L1425,244.2 L1426,244.2 L1427,244.2 L1428,244.5 L1429,244.6 L1430,244.8 L1431,244.7 L1432,244.9 L1433,244.9 L1434,245.1 L1435,244.9 L1436,244.8 L1437,245.0 L1438,244.9 L1439,245.1 L1440,245.0 L1441,245.2 L1442,245.4 L1443,245.2 L1444,245.0 L1445,245.1 L1446,245.0 L1447,245.1 L1448,245.3 L1449,245.3 L1450,245.4 L1451,245.5 L1452,245.3 L1453,245.1 L1454,245.4 L1455,245.2 L1456,245.1 L1457,245.0 L1458,244.9 L1459,245.1 L1460,245.0 L1461,245.0 L1462,244.8 L1463,244.8 L1464,244.4 L1465,244.1 L1466,243.7 L1467,243.5 L1468,243.1 L1469,242.8 L1470,242.6 L1471,242.6 L1472,242.9 L1473,243.4 L1474,243.8 L1475,244.0 L1476,244.3 L1477,244.7 L1478,244.7 L1479,244.8 L1480,245.0 L1481,245.3 L1482,245.5 L1483,245.3 L1484,245.2 L1485,245.4 L1486,245.4 L1487,245.3 L1488,245.5 L1489,245.7 L1490,245.7 L1491,245.7 L1492,245.7 L1493,245.8 L1494,245.6 L1495,245.4 L1496,245.7 L1497,245.8 L1498,245.9 L1499,245.8 L1500,245.8 L1501,245.6 L1502,245.8 L1503,245.6 L1504,245.5 L1505,245.7 L1506,245.6 L1507,245.6 L1508,245.8 L1509,246.0 L1510,245.8 L1511,245.7 L1512,245.8 L1513,246.0 L1514,246.0 L1515,245.9 L1516,245.7 L1517,245.6 L1518,245.6 L1519,245.6 L1520,245.7 L1521,245.5 L1522,245.7 L1523,245.9 L1524,245.9 L1525,245.8 L1526,245.8 L1527,245.7 L1528,245.5 L1529,245.8 L1530,245.9 L1531,245.9 L1532,246.0 L1533,245.8 L1534,245.9 L1535,245.8 L1536,245.8 L1537,245.8 L1538,245.8 L1539,245.7 L1540,245.8 L1541,245.9 L1542,245.9 L1543,246.1 L1544,245.9 L1545,245.8 L1546,245.7 L1547,245.6 L1548,245.6 L1549,245.6 L1550,245.7 L1551,245.7 L1552,245.9 L1553,245.8 L1554,245.7 L1555,245.9 L1556,245.9 L1557,246.0 L1558,246.0 L1559,245.8 L1560,245.6 L1561,245.6 L1562,245.7 L1563,245.9 L1564,245.9 L1565,245.6 L1566,245.5 L1567,245.4 L1568,245.5 L1569,245.5 L1570,245.4 L1571,245.4 L1572,245.3 L1573,245.6 L1574,245.6 L1575,245.7 L1576,245.7 L1577,245.8 L1578,245.6 L1579,245.5 L1580,245.6 L1581,245.7 L1582,245.6 L1583,245.4 L1584,245.3 L1585,245.2 L1586,245.1 L1587,245.2 L1588,245.0 L1589,244.7 L1590,244.3 L1591,244.1 L1592,243.7 L1593,243.3 L1594,243.1 L1595,242.6 L1596,242.2 L1597,241.8 L1598,241.3 L1599,241.0 L1600,241.0 L1601,240.9 L1602,241.0 L1603,241.4 L1604,242.0 L1605,242.5 L1606,243.1 L1607,243.5 L1608,243.7 L1609,244.1 L1610,244.3 L1611,244.4 L1612,244.6 L1613,245.0 L1614,245.1 L1615,245.2 L1616,245.2 L1617,245.5 L1618,245.6 L1619,245.7 L1620,245.7 L1621,245.8 L1622,245.8 L1623,245.9 L1624,245.8 L1625,245.8 L1626,245.9 L1627,246.0 L1628,245.7 L1629,245.5 L1630,245.5 L1631,245.6 L1632,245.6 L1633,245.8 L1634,245.7 L1635,245.6 L1636,245.6 L1637,245.5 L1638,245.5 L1639,245.5 L1640,245.5 L1641,245.6 L1642,245.8 L1643,245.9 L1644,245.9 L1645,246.0 L1646,245.9 L1647,245.9 L1648,245.9 L1649,245.7 L1650,245.9 L1651,245.9 L1652,245.9 L1653,245.9 L1654,246.0 L1655,245.9 L1656,245.7 L1657,245.9 L1658,246.0 L1659,246.0 L1660,245.8 L1661,245.9 L1662,245.8 L1663,245.9 L1664,245.7 L1665,245.9 L1666,246.0 L1667,246.1 L1668,246.0 L1669,246.1 L1670,245.9 L1671,245.8 L1672,245.9 L1673,245.7 L1674,245.7 L1675,245.8 L1676,245.7 L1677,245.7 L1678,245.9 L1679,245.8 L1680,245.7 L1681,245.6 L1682,245.9 L1683,245.9 L1684,246.1 L1685,246.0 L1686,245.9 L1687,245.7 L1688,245.6 L1689,245.6 L1690,245.9 L1691,245.9 L1692,245.9 L1693,245.9 L1694,246.1 L1695,245.9 L1696,246.0 L1697,246.1 L1698,246.1 L1699,245.9 L1700,245.8 L1701,246.0 L1702,245.8 L1703,245.8 L1704,245.7 L1705,245.9 L1706,246.0 L1707,245.9 L1708,246.0 L1709,245.8 L1710,245.9 L1711,245.8 L1712,246.0 L1713,246.0 L1714,245.9 L1715,245.9 L1716,245.8 L1717,245.8 L1718,245.8 L1719,245.6 L1720,245.7 L1721,245.8 L1722,245.7 L1723,245.6 L1724,245.5 L1725,245.6 L1726,245.6 L1727,245.6 L1728,245.9 L1729,245.8 L1730,245.7 L1731,245.7 L1732,245.8 L1733,245.7 L1734,245.9 L1735,246.0 L1736,246.0 L1737,246.0 L1738,245.8 L1739,245.8 L1740,245.9 L1741,245.7 L1742,245.7 L1743,245.9 L1744,245.7 L1745,245.7 L1746,245.6 L1747,245.8 L1748,245.8 L1749,246.0 L1750,246.0 L1751,246.1 L1752,245.8 L1753,246.0 L1754,245.8 L1755,245.7 L1756,245.7 L1757,245.6 L1758,245.7 L1759,245.6 L1760,245.6 L1761,245.9 L1762,246.0 L1763,246.0 L1764,246.1 L1765,245.9 L1766,245.8 L1767,246.0 L1768,245.9 L1769,245.8 L1770,246.0 L1771,245.8 L1772,245.6 L1773,245.6 L1774,245.6 L1775,245.8 L1776,246.0 L1777,245.7 L1778,245.9 L1779,245.9 L1780,245.9 L1781,246.0 L1782,246.1 L1783,245.9 L1784,246.0 L1785,246.0 L1786,246.0 L1787,246.0 L1788,245.7 L1789,245.7 L1790,245.9 L1791,246.0 L1792,245.9 L1793,245.8 L1794,245.7 L1795,245.8 L1796,245.7 L1797,245.6 L1798,245.8 L1799,245.9 L1800,245.8 L1801,246.0 L1802,246.0 L1803,245.9 L1804,246.0 L1805,245.9 L1806,245.8 L1807,245.9 L1808,245.9 L1809,245.7 L1810,245.7 L1811,245.7 L1812,245.6 L1813,245.6 L1814,245.6 L1815,245.5 L1816,245.8 L1817,245.6 L1818,245.8 L1819,245.8 L1820,245.7 L1821,245.9 L1822,246.0 L1823,246.0 L1824,245.8 L1825,245.9 L1826,245.8 L1827,245.8 L1828,245.8 L1829,245.8 L1830,245.8 L1831,245.9 L1832,245.7 L1833,245.7 L1834,245.8 L1835,246.0 L1836,245.9 L1837,246.0 L1838,246.1 L1839,246.0 L1840,246.0 L1841,245.9 L1842,245.8 L1843,245.9 L1844,245.7 L1845,245.6 L1846,245.6 L1847,245.8 L1848,245.6 L1849,245.7 L1850,245.8 L1851,246.0 L1852,246.1 L1853,245.8 L1854,245.8 L1855,245.8 L1856,245.7 L1857,245.7 L1858,245.6 L1859,245.7 L1860,245.7 L1861,245.6 L1862,245.7 L1863,245.8 L1864,245.8 L1865,245.9 L1866,245.9 L1867,245.9 L1868,245.9 L1869,245.6 L1870,245.8 L1871,245.5 L1872,245.5 L1873,245.4 L1874,245.6 L1875,245.4 L1876,245.4 L1877,245.4 L1878,245.4 L1879,245.4 L1880,245.1 L1881,245.3 L1882,245.1 L1883,245.1 L1884,245.1 L1885,245.1 L1886,244.9 L1887,244.5 L1888,244.5 L1889,244.3 L1890,244.1 L1891,243.5 L1892,242.9 L1893,242.7 L1894,242.1 L1895,241.4 L1896,240.7 L1897,240.1 L1898,239.4 L1899,238.6 L1900,237.7 L1901,237.2 L1902,236.5 L1903,236.3 L1904,236.2 L1905,236.4 L1906,237.0 L1907,237.6 L1908,238.5 L1909,239.3 L1910,240.2 L1911,240.7 L1912,241.6 L1913,241.9 L1914,242.3 L1915,242.9 L1916,243.2 L1917,243.7 L1918,244.0 L1919,244.1 L1920,244.5 L1921,244.7 L1922,244.8 L1923,244.9 L1924,244.9 L1925,245.2 L1926,245.3 L1927,245.4 L1928,245.3 L1929,245.3 L1930,245.2 L1931,245.2 L1932,245.3 L1933,245.5 L1934,245.6 L1935,245.5 L1936,245.6 L1937,245.7 L1938,245.7 L1939,245.7 L1940,245.8 L1941,245.9 L1942,245.9 L1943,245.9 L1944,245.8 L1945,245.8 L1946,245.6 L1947,245.7 L1948,245.5 L1949,245.7 L1950,245.7 L1951,245.8 L1952,246.0 L1953,245.7 L1954,245.7 L1955,245.8 L1956,245.8 L1957,245.8 L1958,245.8 L1959,245.8 L1960,245.9 L1961,246.0 L1962,245.7 L1963,245.6 L1964,245.5 L1965,245.7 L1966,245.6 L1967,245.7 L1968,245.6 L1969,245.7 L1970,245.6 L1971,245.7 L1972,245.9 L1973,245.9 L1974,245.9 L1975,245.9 L1976,245.7 L1977,245.6 L1978,245.7 L1979,245.4 L1980,245.6 L1981,245.5 L1982,245.5 L1983,245.2 L1984,245.3 L1985,244.8 L1986,244.8 L1987,244.7 L1988,244.2 L1989,243.8 L1990,243.5 L1991,243.2 L1992,243.1 L1993,243.0 L1994,242.8 L1995,242.9 L1996,243.3 L1997,243.6 L1998,243.6 L1999,243.9 L2000,244.1 L2001,244.3 L2002,244.8 L2003,244.9 L2004,245.3 L2005,245.4 L2006,245.2 L2007,245.4 L2008,245.6 L2009,245.5 L2010,245.3 L2011,245.5 L2012,245.3 L2013,245.5 L2014,245.4 L2015,245.6 L2016,245.4 L2017,245.6 L2018,245.4 L2019,245.5 L2020,245.6 L2021,245.5 L2022,245.2 L2023,245.3 L2024,245.2 L2025,245.2 L2026,244.9 L2027,245.0 L2028,244.8 L2029,244.7 L2030,244.6 L2031,244.6 L2032,244.5 L2033,244.1 L2034,243.6 L2035,243.3 L2036,243.0 L2037,242.6 L2038,241.9 L2039,241.2 L2040,240.6 L2041,239.7 L2042,239.2 L2043,238.6 L2044,238.3 L2045,238.0 L2046,237.7 L2047,237.9 L2048,238.0 L2049,238.7 L2050,239.3 L2051,239.8 L2052,240.5 L2053,241.1 L2054,241.7 L2055,242.3 L2056,242.7 L2057,243.1 L2058,243.4 L2059,244.0 L2060,244.2 L2061,244.3 L2062,244.5 L2063,244.9 L2064,245.0 L2065,245.1 L2066,245.3 L2067,245.4 L2068,245.3 L2069,245.3 L2070,245.2 L2071,245.2 L2072,245.3 L2073,245.4 L2074,245.4 L2075,245.3 L2076,245.3 L2077,245.3 L2078,245.3 L2079,245.3 L2080,245.3 L2081,245.5 L2082,245.6 L2083,245.4 L2084,245.5 L2085,245.6 L2086,245.4 L2087,245.3 L2088,245.1 L2089,245.0 L2090,245.1 L2091,245.0 L2092,244.7 L2093,244.6 L2094,244.6 L2095,244.2 L2096,244.0 L2097,243.6 L2098,243.3 L2099,243.1 L2100,242.8 L2101,242.8 L2102,242.9 L2103,243.0 L2104,243.2 L2105,243.7 L2106,244.2 L2107,244.3 L2108,244.6 L2109,244.9 L2110,245.2 L2111,245.3 L2112,245.4 L2113,245.3 L2114,245.6 L2115,245.7 L2116,245.7 L2117,245.5 L2118,245.3 L2119,245.6 L2120,245.5 L2121,245.7 L2122,245.6 L2123,245.8 L2124,245.7 L2125,245.6 L2126,245.7 L2127,245.7 L2128,245.8 L2129,245.8 L2130,245.8 L2131,245.9 L2132,245.6 L2133,245.6 L2134,245.7 L2135,245.6 L2136,245.9 L2137,246.0 L2138,245.9 L2139,245.7 L2140,245.7 L2141,245.6 L2142,245.5 L2143,245.6 L2144,245.6 L2145,245.8 L2146,245.9 L2147,245.8 L2148,245.9 L2149,245.8 L2150,245.7 L2151,245.7 L2152,245.7 L2153,245.7 L2154,245.8 L2155,245.7 L2156,245.7 L2157,245.9 L2158,246.0 L2159,245.9 L2160,245.9 L2161,245.9 L2162,245.8 L2163,245.6 L2164,245.8 L2165,245.7 L2166,245.6 L2167,245.7 L2168,245.9 L2169,245.8 L2170,245.7 L2171,245.6 L2172,245.7 L2173,245.8 L2174,245.9 L2175,245.8 L2176,245.7 L2177,245.6 L2178,245.6 L2179,245.8 L2180,245.8 L2181,245.9 L2182,245.6 L2183,245.6 L2184,245.6 L2185,245.5 L2186,245.5 L2187,245.4 L2188,245.4 L2189,245.4 L2190,245.4 L2191,245.1 L2192,245.1 L2193,245.2 L2194,245.1 L2195,244.8 L2196,244.6 L2197,244.3 L2198,244.1 L2199,244.1 L2200,243.9 L2201,243.4 L2202,243.1 L2203,242.7 L2204,242.4 L2205,241.7 L2206,241.1 L2207,240.7 L2208,240.4 L2209,240.1 L2210,239.7 L2211,239.9 L2212,240.1 L2213,240.3 L2214,240.7 L2215,241.3 L2216,241.8 L2217,242.5 L2218,243.0 L2219,243.4 L2220,243.7 L2221,243.9 L2222,244.4 L2223,244.6 L2224,244.7 L2225,244.9 L2226,245.1 L2227,245.4 L2228,245.5 L2229,245.5 L2230,245.6 L2231,245.6 L2232,245.6 L2233,245.6 L2234,245.5 L2235,245.5 L2236,245.5 L2237,245.4 L2238,245.5 L2239,245.5 L2240,245.7 L2241,245.6 L2242,245.7 L2243,245.7 L2244,245.7 L2245,245.5 L2246,245.6 L2247,245.5 L2248,245.6 L2249,245.7 L2250,245.7 L2251,245.6 L2252,245.8 L2253,245.6 L2254,245.6 L2255,245.7 L2256,245.9 L2257,245.7 L2258,245.7 L2259,245.7 L2260,245.6 L2261,245.5 L2262,245.6 L2263,245.8 L2264,245.9 L2265,246.0 L2266,246.1 L2267,245.9 L2268,245.7 L2269,245.8 L2270,245.6 L2271,245.5 L2272,245.7 L2273,245.7 L2274,245.7 L2275,245.6 L2276,245.8 L2277,245.7 L2278,245.6 L2279,245.5 L2280,245.5 L2281,245.7 L2282,245.6 L2283,245.6 L2284,245.6 L2285,245.6 L2286,245.8 L2287,245.6 L2288,245.6 L2289,245.5 L2290,245.5 L2291,245.7 L2292,245.6 L2293,245.6 L2294,245.8 L2295,245.8 L2296,245.7 L2297,245.8 L2298,245.8 L2299,245.8 L2300,245.7 L2301,245.7 L2302,245.9 L2303,246.0 L2304,246.1 L2305,245.9 L2306,246.0 L2307,245.8 L2308,245.7 L2309,245.9 L2310,245.9 L2311,245.8 L2312,245.7 L2313,245.6 L2314,245.9 L2315,245.8 L2316,245.7 L2317,245.7 L2318,245.9 L2319,245.9 L2320,246.1 L2321,245.9 L2322,245.9 L2323,245.9 L2324,245.8 L2325,245.9 L2326,245.7 L2327,245.8 L2328,245.7 L2329,245.8 L2330,246.0 L2331,245.8 L2332,246.0 L2333,245.9 L2334,245.8 L2335,245.6 L2336,245.7 L2337,245.9 L2338,245.9 L2339,245.9 L2340,245.9 L2341,245.8 L2342,245.7 L2343,245.6 L2344,245.7 L2345,245.8 L2346,245.7 L2347,246.0 L2348,246.1 L2349,246.0 L2350,245.9 L2351,245.9 L2352,245.9 L2353,245.9 L2354,245.9 L2355,245.9 L2356,245.9 L2357,245.9 L2358,245.9 L2359,245.9 L2360,245.9 L2361,245.9 L2362,245.9 L2363,245.9 L2364,245.9 L2365,245.9 L2366,245.9" fill="none" stroke="#ff00ff" stroke-width="11.8" stroke-linejoin="round" stroke-linecap="butt"/>
<g fill="#000">
<path d="M397.4,85.3 L429.6,85.3 L413.5,117.6 Z"/>
<path d="M458.5,70.4 L490.7,70.4 L474.6,102.7 Z"/>
<path d="M519.7,63.8 L551.9,63.8 L535.8,96.1 Z"/>
<path d="M819.7,181.4 L851.9,181.4 L835.8,213.7 Z"/>
<path d="M1067.7,117.0 L1099.9,117.0 L1083.8,149.3 Z"/>
<path d="M1214.7,162.3 L1246.9,162.3 L1230.8,194.6 Z"/>
<path d="M1324.1,197.0 L1356.3,197.0 L1340.2,229.3 Z"/>
<path d="M1358.5,150.7 L1390.7,150.7 L1374.6,183.0 Z"/>
<path d="M1391.5,188.7 L1423.7,188.7 L1407.6,221.0 Z"/>
<path d="M1455.3,200.3 L1487.5,200.3 L1471.4,232.6 Z"/>
<path d="M1584.2,199.3 L1616.4,199.3 L1600.3,231.6 Z"/>
<path d="M1887.8,190.4 L1920.0,190.4 L1903.9,222.7 Z"/>
<path d="M1978.3,199.3 L2010.5,199.3 L1994.4,231.6 Z"/>
<path d="M2028.9,192.7 L2061.1,192.7 L2045.0,225.0 Z"/>
<path d="M2085.1,200.3 L2117.3,200.3 L2101.2,232.6 Z"/>
<path d="M2194.1,194.7 L2226.3,194.7 L2210.2,227.0 Z"/>
<path d="M397.4,302.1 L429.6,302.1 L413.5,334.4 Z"/>
<path d="M458.5,281.0 L490.7,281.0 L474.6,313.3 Z"/>
<path d="M519.0,245.5 L551.2,245.5 L535.1,277.8 Z"/>
<path d="M818.1,403.3 L850.3,403.3 L834.2,435.6 Z"/>
<path d="M1067.7,351.0 L1099.9,351.0 L1083.8,383.3 Z"/>
<path d="M1214.7,379.1 L1246.9,379.1 L1230.8,411.4 Z"/>
<path d="M1324.1,431.4 L1356.3,431.4 L1340.2,463.7 Z"/>
<path d="M1358.5,385.7 L1390.7,385.7 L1374.6,418.0 Z"/>
<path d="M1391.5,423.1 L1423.7,423.1 L1407.6,455.4 Z"/>
<path d="M1455.3,440.9 L1487.5,440.9 L1471.4,473.2 Z"/>
<path d="M1584.2,433.7 L1616.4,433.7 L1600.3,466.0 Z"/>
<path d="M1882.5,428.7 L1914.7,428.7 L1898.6,461.0 Z"/>
<path d="M1972.7,442.6 L2004.9,442.6 L1988.8,474.9 Z"/>
<path d="M2028.9,433.0 L2061.1,433.0 L2045.0,465.3 Z"/>
<path d="M2084.1,441.9 L2116.3,441.9 L2100.2,474.2 Z"/>
<path d="M2194.1,438.0 L2226.3,438.0 L2210.2,470.3 Z"/>
<path d="M401.7,539.2 L433.9,539.2 L417.8,571.5 Z"/>
<path d="M462.8,535.2 L495.0,535.2 L478.9,567.5 Z"/>
<path d="M517.9,506.6 L550.1,506.6 L534.0,538.9 Z"/>
<path d="M818.1,664.4 L850.3,664.4 L834.2,696.7 Z"/>
<path d="M1066.0,605.9 L1098.2,605.9 L1082.1,638.2 Z"/>
<path d="M1215.7,639.6 L1247.9,639.6 L1231.8,671.9 Z"/>
<path d="M1322.8,697.5 L1355.0,697.5 L1338.9,729.8 Z"/>
<path d="M1356.8,651.5 L1389.0,651.5 L1372.9,683.8 Z"/>
<path d="M1390.9,688.5 L1423.1,688.5 L1407.0,720.8 Z"/>
<path d="M1453.6,706.7 L1485.8,706.7 L1469.7,739.0 Z"/>
<path d="M1583.2,700.1 L1615.4,700.1 L1599.3,732.4 Z"/>
<path d="M1886.1,693.5 L1918.3,693.5 L1902.2,725.8 Z"/>
<path d="M1971.1,702.7 L2003.3,702.7 L1987.2,735.0 Z"/>
<path d="M2027.2,698.5 L2059.4,698.5 L2043.3,730.8 Z"/>
<path d="M2082.4,702.7 L2114.6,702.7 L2098.5,735.0 Z"/>
<path d="M2192.5,703.4 L2224.7,703.4 L2208.6,735.7 Z"/>
<path d="M401.7,808.0 L433.9,808.0 L417.8,840.3 Z"/>
<path d="M457.2,799.0 L489.4,799.0 L473.3,831.3 Z"/>
<path d="M523.6,760.8 L555.8,760.8 L539.7,793.1 Z"/>
<path d="M818.1,922.0 L850.3,922.0 L834.2,954.3 Z"/>
<path d="M1066.0,868.1 L1098.2,868.1 L1082.1,900.4 Z"/>
<path d="M1213.1,896.6 L1245.3,896.6 L1229.2,928.9 Z"/>
<path d="M1322.8,948.5 L1355.0,948.5 L1338.9,980.8 Z"/>
<path d="M1356.8,903.2 L1389.0,903.2 L1372.9,935.5 Z"/>
<path d="M1390.9,940.9 L1423.1,940.9 L1407.0,973.2 Z"/>
<path d="M1453.6,958.4 L1485.8,958.4 L1469.7,990.7 Z"/>
<path d="M1583.2,951.1 L1615.4,951.1 L1599.3,983.4 Z"/>
<path d="M1886.1,945.8 L1918.3,945.8 L1902.2,978.1 Z"/>
<path d="M1971.1,955.7 L2003.3,955.7 L1987.2,988.0 Z"/>
<path d="M2032.9,950.8 L2065.1,950.8 L2049.0,983.1 Z"/>
<path d="M2082.8,958.4 L2115.0,958.4 L2098.9,990.7 Z"/>
<path d="M2192.5,955.7 L2224.7,955.7 L2208.6,988.0 Z"/>
<path d="M398.1,1373.4 L430.3,1373.4 L414.2,1405.7 Z"/>
<path d="M458.5,1315.5 L490.7,1315.5 L474.6,1347.8 Z"/>
<path d="M520.3,1296.7 L552.5,1296.7 L536.4,1329.0 Z"/>
<path d="M813.8,1457.0 L846.0,1457.0 L829.9,1489.3 Z"/>
<path d="M1068.3,1416.3 L1100.5,1416.3 L1084.4,1448.6 Z"/>
<path d="M1215.4,1414.7 L1247.6,1414.7 L1231.5,1447.0 Z"/>
<path d="M1318.8,1496.6 L1351.0,1496.6 L1334.9,1528.9 Z"/>
<path d="M1352.9,1450.4 L1385.1,1450.4 L1369.0,1482.7 Z"/>
<path d="M1386.6,1487.7 L1418.8,1487.7 L1402.7,1520.0 Z"/>
<path d="M1450.3,1505.6 L1482.5,1505.6 L1466.4,1537.9 Z"/>
<path d="M1584.2,1504.9 L1616.4,1504.9 L1600.3,1537.2 Z"/>
<path d="M1673.6,1505.6 L1705.8,1505.6 L1689.7,1537.9 Z"/>
<path d="M1881.8,1487.4 L1914.0,1487.4 L1897.9,1519.7 Z"/>
<path d="M1967.8,1502.2 L2000.0,1502.2 L1983.9,1534.5 Z"/>
<path d="M2028.9,1497.6 L2061.1,1497.6 L2045.0,1529.9 Z"/>
<path d="M2084.4,1512.2 L2116.6,1512.2 L2100.5,1544.5 Z"/>
<path d="M2193.5,1503.2 L2225.7,1503.2 L2209.6,1535.5 Z"/>
<path d="M2279.4,1511.5 L2311.6,1511.5 L2295.5,1543.8 Z"/>
</g>
<g fill="#ff0000">
<path d="M568.2,704.3 L584.8,720.9 L568.2,737.5 L551.6,720.9 Z"/>
<path d="M653.1,701.0 L669.7,717.6 L653.1,734.2 L636.5,717.6 Z"/>
<path d="M725.1,700.4 L741.7,717.0 L725.1,733.6 L708.5,717.0 Z"/>
<path d="M754.5,699.0 L771.1,715.6 L754.5,732.2 L737.9,715.6 Z"/>
<path d="M877.1,702.7 L893.7,719.3 L877.1,735.9 L860.5,719.3 Z"/>
<path d="M453.8,961.6 L470.4,978.2 L453.8,994.8 L437.2,978.2 Z"/>
<path d="M564.9,951.7 L581.5,968.3 L564.9,984.9 L548.3,968.3 Z"/>
<path d="M654.1,954.3 L670.7,970.9 L654.1,987.5 L637.5,970.9 Z"/>
<path d="M725.1,951.7 L741.7,968.3 L725.1,984.9 L708.5,968.3 Z"/>
<path d="M753.2,949.0 L769.8,965.6 L753.2,982.2 L736.6,965.6 Z"/>
<path d="M872.9,955.0 L889.5,971.6 L872.9,988.2 L856.3,971.6 Z"/>
<path d="M980.3,955.3 L996.9,971.9 L980.3,988.5 L963.7,971.9 Z"/>
<path d="M450.5,1217.6 L467.1,1234.2 L450.5,1250.8 L433.9,1234.2 Z"/>
<path d="M473.0,1232.2 L489.6,1248.8 L473.0,1265.4 L456.4,1248.8 Z"/>
<path d="M561.5,1178.6 L578.1,1195.2 L561.5,1211.8 L544.9,1195.2 Z"/>
<path d="M649.8,1160.5 L666.4,1177.1 L649.8,1193.7 L633.2,1177.1 Z"/>
<path d="M726.8,1203.5 L743.4,1220.1 L726.8,1236.7 L710.2,1220.1 Z"/>
<path d="M757.2,1047.1 L773.8,1063.7 L757.2,1080.3 L740.6,1063.7 Z"/>
<path d="M836.3,1086.2 L852.9,1102.8 L836.3,1119.4 L819.7,1102.8 Z"/>
<path d="M873.3,1146.3 L889.9,1162.9 L873.3,1179.5 L856.7,1162.9 Z"/>
<path d="M978.0,1188.5 L994.6,1205.1 L978.0,1221.7 L961.4,1205.1 Z"/>
<path d="M1069.9,1164.4 L1086.5,1181.0 L1069.9,1197.6 L1053.3,1181.0 Z"/>
<path d="M1105.9,1233.2 L1122.5,1249.8 L1105.9,1266.4 L1089.3,1249.8 Z"/>
<path d="M1139.9,1232.5 L1156.5,1249.1 L1139.9,1265.7 L1123.3,1249.1 Z"/>
<path d="M1173.6,1226.6 L1190.2,1243.2 L1173.6,1259.8 L1157.0,1243.2 Z"/>
<path d="M1261.5,1224.9 L1278.1,1241.5 L1261.5,1258.1 L1244.9,1241.5 Z"/>
<path d="M1420.8,1193.5 L1437.4,1210.1 L1420.8,1226.7 L1404.2,1210.1 Z"/>
<path d="M1457.8,1236.5 L1474.4,1253.1 L1457.8,1269.7 L1441.2,1253.1 Z"/>
<path d="M1601.9,1220.9 L1618.5,1237.5 L1601.9,1254.1 L1585.3,1237.5 Z"/>
<path d="M1635.6,1234.2 L1652.2,1250.8 L1635.6,1267.4 L1619.0,1250.8 Z"/>
<path d="M1663.0,1228.2 L1679.6,1244.8 L1663.0,1261.4 L1646.4,1244.8 Z"/>
<path d="M1707.9,1223.2 L1724.5,1239.8 L1707.9,1256.4 L1691.3,1239.8 Z"/>
<path d="M1747.6,1235.4 L1764.2,1252.0 L1747.6,1268.6 L1731.0,1252.0 Z"/>
<path d="M1765.8,1232.5 L1782.4,1249.1 L1765.8,1265.7 L1749.2,1249.1 Z"/>
<path d="M1797.1,1211.7 L1813.7,1228.3 L1797.1,1244.9 L1780.5,1228.3 Z"/>
<path d="M1879.8,1235.8 L1896.4,1252.4 L1879.8,1269.0 L1863.2,1252.4 Z"/>
<path d="M2024.5,1230.9 L2041.1,1247.5 L2024.5,1264.1 L2007.9,1247.5 Z"/>
</g>
<path d="M1641.6,147.4 L1801.0,147.4" stroke="#ff00ff" stroke-width="11.8" stroke-linecap="round" fill="none"/>
<text x="1822.2" y="172.2" font-size="97">Pristine CdS</text>
<path d="M1856.0,386.4 L2015.2,386.4" stroke="#008000" stroke-width="11.8" stroke-linecap="round" fill="none"/>
<text x="2035.7" y="411.2" font-size="97" style="letter-spacing:-0.7px">ACS-1</text>
<path d="M1853.4,641.6 L2013.5,641.6" stroke="#ff8000" stroke-width="11.8" stroke-linecap="round" fill="none"/>
<text x="2033.0" y="667.0" font-size="97">ACS-3</text>
<path d="M1853.4,891.3 L2013.5,891.3" stroke="#0000a0" stroke-width="11.8" stroke-linecap="round" fill="none"/>
<text x="2033.0" y="916.4" font-size="97">ACS-5</text>
<path d="M817.7,1075.6 L975.3,1075.6" stroke="#ff0000" stroke-width="11.8" stroke-linecap="round" fill="none"/>
<text x="993.8" y="1100.4" font-size="97">Standard Ag<tspan font-size="63" dy="37">2</tspan><tspan dy="-37">S (JCPDS:14-0072)</tspan></text>
<path d="M846.8,1377.7 L1004.4,1377.7" stroke="#000000" stroke-width="11.8" stroke-linecap="round" fill="none"/>
<text x="1022.6" y="1402.4" font-size="97">Standard CdS (JCPDS:41-1049)</text>
<text x="244.8" y="1734.8" font-size="95" text-anchor="middle">20</text>
<text x="598.2" y="1734.8" font-size="95" text-anchor="middle">30</text>
<text x="951.6" y="1734.8" font-size="95" text-anchor="middle">40</text>
<text x="1305.0" y="1734.8" font-size="95" text-anchor="middle">50</text>
<text x="1658.5" y="1734.8" font-size="95" text-anchor="middle">60</text>
<text x="2011.9" y="1734.8" font-size="95" text-anchor="middle">70</text>
<text x="2365.3" y="1734.8" font-size="95" text-anchor="middle">80</text>
<g id="xt" font-size="159"><text x="929.8" y="1859.9">2</text><text transform="translate(1008.9,1859.9) scale(1.088,0.885)" font-size="160" style="font-weight:normal">θ</text><text x="1083.9" y="1859.9" xml:space="preserve"> (degree)</text></g>
<text id="yt" transform="translate(143,871) rotate(-90)" font-size="159" text-anchor="middle">Intensity (a.u.)</text>
</svg></body></html>
